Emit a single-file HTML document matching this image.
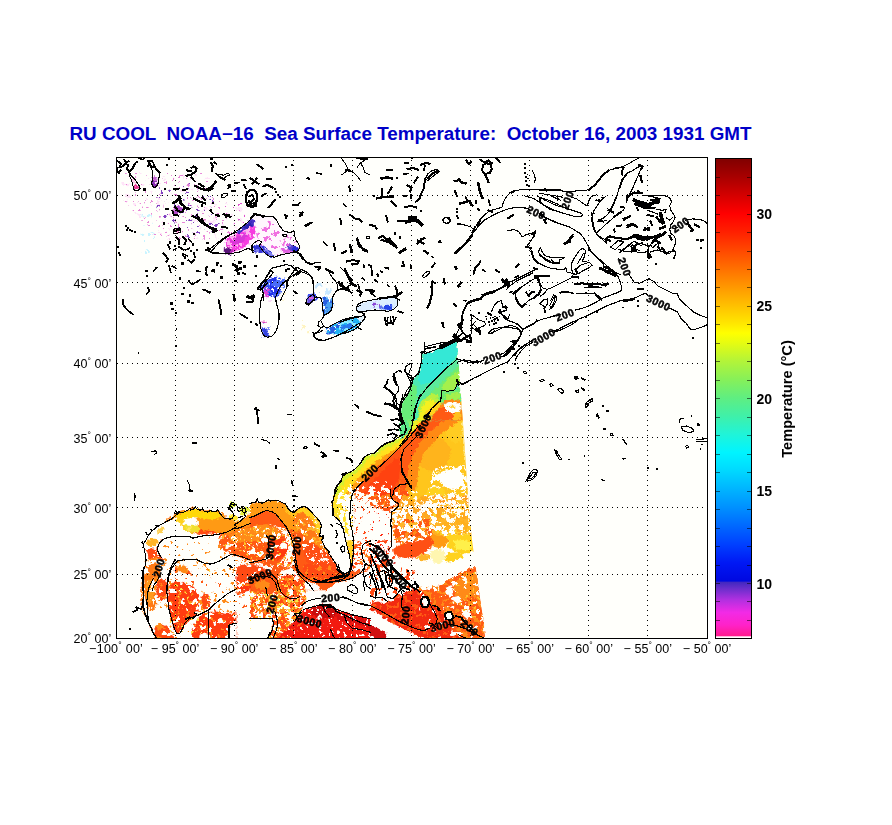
<!DOCTYPE html>
<html lang="en"><head><meta charset="utf-8"><title>RU COOL NOAA-16 Sea Surface Temperature</title>
<style>
html,body{margin:0;padding:0;background:#fff}
body{width:892px;height:825px;overflow:hidden;position:relative;font-family:"Liberation Sans",Arial,Helvetica,sans-serif}
svg{position:absolute;left:0;top:0;display:block}
.ttl{font:bold 17.6px "Liberation Sans",Arial,sans-serif;fill:#0000c8}
.ax{font:12.5px "Liberation Sans",Arial,sans-serif;fill:#000}
.dg{font-size:8.5px}
.cb{font:bold 14px "Liberation Sans",Arial,sans-serif;fill:#000}
.cl{font:bold 14.5px "Liberation Sans",Arial,sans-serif;fill:#000}
.ct{font:bold 10.5px "Liberation Sans",Arial,sans-serif;fill:#000;letter-spacing:.5px;stroke:#000;stroke-width:.5px}
.grid line{stroke:#000;stroke-width:1;stroke-dasharray:1 4;shape-rendering:crispEdges}
.coast rect{shape-rendering:crispEdges}
.coast polyline,.coast polygon{fill:none;stroke:#000;stroke-width:1.1;stroke-linejoin:round;stroke-linecap:square;shape-rendering:crispEdges}
</style></head><body>
<svg width="892" height="825" viewBox="0 0 892 825">
<defs>
<linearGradient id="cbg" x1="0" y1="1" x2="0" y2="0">
<stop offset="0.0000" stop-color="#ff1a8c"/><stop offset="0.0231" stop-color="#ff22c8"/><stop offset="0.0500" stop-color="#f22ae6"/><stop offset="0.0769" stop-color="#b030e0"/><stop offset="0.1000" stop-color="#6a2ecc"/><stop offset="0.1135" stop-color="#4028c0"/><stop offset="0.1154" stop-color="#0008e0"/><stop offset="0.1538" stop-color="#0018f4"/><stop offset="0.1923" stop-color="#0040ff"/><stop offset="0.2308" stop-color="#0068ff"/><stop offset="0.2692" stop-color="#0090ff"/><stop offset="0.3077" stop-color="#00b4ff"/><stop offset="0.3462" stop-color="#00d8ff"/><stop offset="0.3846" stop-color="#00f4ff"/><stop offset="0.4231" stop-color="#20f4d8"/><stop offset="0.4615" stop-color="#40f0a8"/><stop offset="0.5000" stop-color="#60ee80"/><stop offset="0.5385" stop-color="#88f058"/><stop offset="0.5769" stop-color="#b4f438"/><stop offset="0.6154" stop-color="#e8fc10"/><stop offset="0.6346" stop-color="#ffff00"/><stop offset="0.6538" stop-color="#ffe800"/><stop offset="0.6923" stop-color="#ffc000"/><stop offset="0.7308" stop-color="#ff9800"/><stop offset="0.7692" stop-color="#ff7000"/><stop offset="0.8077" stop-color="#ff4800"/><stop offset="0.8462" stop-color="#ff2000"/><stop offset="0.8846" stop-color="#ff0000"/><stop offset="0.9231" stop-color="#d40000"/><stop offset="0.9615" stop-color="#a80000"/><stop offset="1.0000" stop-color="#800000"/></linearGradient>
<filter id="c10a" filterUnits="userSpaceOnUse" x="110" y="150" width="600" height="495" color-interpolation-filters="sRGB"><feTurbulence type="fractalNoise" baseFrequency="0.16" numOctaves="4" seed="5" result="t"/><feColorMatrix in="t" type="matrix" values="0 0 0 0 0 0 0 0 0 0 0 0 0 0 0 26 0 0 0 -16.64" result="a"/><feTurbulence type="fractalNoise" baseFrequency="0.35" numOctaves="2" seed="11" result="u"/><feDisplacementMap in="SourceGraphic" in2="u" scale="5" xChannelSelector="R" yChannelSelector="G" result="g"/><feComposite in="g" in2="a" operator="in"/></filter>
<filter id="c10b" filterUnits="userSpaceOnUse" x="110" y="150" width="600" height="495" color-interpolation-filters="sRGB"><feTurbulence type="fractalNoise" baseFrequency="0.22" numOctaves="4" seed="23" result="t"/><feColorMatrix in="t" type="matrix" values="0 0 0 0 0 0 0 0 0 0 0 0 0 0 0 0 26 0 0 -16.64" result="a"/><feTurbulence type="fractalNoise" baseFrequency="0.35" numOctaves="2" seed="11" result="u"/><feDisplacementMap in="SourceGraphic" in2="u" scale="5" xChannelSelector="R" yChannelSelector="G" result="g"/><feComposite in="g" in2="a" operator="in"/></filter>
<filter id="c10c" filterUnits="userSpaceOnUse" x="110" y="150" width="600" height="495" color-interpolation-filters="sRGB"><feTurbulence type="fractalNoise" baseFrequency="0.32" numOctaves="3" seed="41" result="t"/><feColorMatrix in="t" type="matrix" values="0 0 0 0 0 0 0 0 0 0 0 0 0 0 0 0 0 26 0 -16.64" result="a"/><feComposite in="SourceGraphic" in2="a" operator="in"/></filter>
<filter id="c20a" filterUnits="userSpaceOnUse" x="110" y="150" width="600" height="495" color-interpolation-filters="sRGB"><feTurbulence type="fractalNoise" baseFrequency="0.16" numOctaves="4" seed="5" result="t"/><feColorMatrix in="t" type="matrix" values="0 0 0 0 0 0 0 0 0 0 0 0 0 0 0 26 0 0 0 -15.21" result="a"/><feTurbulence type="fractalNoise" baseFrequency="0.35" numOctaves="2" seed="11" result="u"/><feDisplacementMap in="SourceGraphic" in2="u" scale="5" xChannelSelector="R" yChannelSelector="G" result="g"/><feComposite in="g" in2="a" operator="in"/></filter>
<filter id="c20b" filterUnits="userSpaceOnUse" x="110" y="150" width="600" height="495" color-interpolation-filters="sRGB"><feTurbulence type="fractalNoise" baseFrequency="0.22" numOctaves="4" seed="23" result="t"/><feColorMatrix in="t" type="matrix" values="0 0 0 0 0 0 0 0 0 0 0 0 0 0 0 0 26 0 0 -15.21" result="a"/><feTurbulence type="fractalNoise" baseFrequency="0.35" numOctaves="2" seed="11" result="u"/><feDisplacementMap in="SourceGraphic" in2="u" scale="5" xChannelSelector="R" yChannelSelector="G" result="g"/><feComposite in="g" in2="a" operator="in"/></filter>
<filter id="c20c" filterUnits="userSpaceOnUse" x="110" y="150" width="600" height="495" color-interpolation-filters="sRGB"><feTurbulence type="fractalNoise" baseFrequency="0.32" numOctaves="3" seed="41" result="t"/><feColorMatrix in="t" type="matrix" values="0 0 0 0 0 0 0 0 0 0 0 0 0 0 0 0 0 26 0 -15.21" result="a"/><feComposite in="SourceGraphic" in2="a" operator="in"/></filter>
<filter id="c30a" filterUnits="userSpaceOnUse" x="110" y="150" width="600" height="495" color-interpolation-filters="sRGB"><feTurbulence type="fractalNoise" baseFrequency="0.16" numOctaves="4" seed="5" result="t"/><feColorMatrix in="t" type="matrix" values="0 0 0 0 0 0 0 0 0 0 0 0 0 0 0 26 0 0 0 -14.17" result="a"/><feTurbulence type="fractalNoise" baseFrequency="0.35" numOctaves="2" seed="11" result="u"/><feDisplacementMap in="SourceGraphic" in2="u" scale="5" xChannelSelector="R" yChannelSelector="G" result="g"/><feComposite in="g" in2="a" operator="in"/></filter>
<filter id="c30b" filterUnits="userSpaceOnUse" x="110" y="150" width="600" height="495" color-interpolation-filters="sRGB"><feTurbulence type="fractalNoise" baseFrequency="0.22" numOctaves="4" seed="23" result="t"/><feColorMatrix in="t" type="matrix" values="0 0 0 0 0 0 0 0 0 0 0 0 0 0 0 0 26 0 0 -14.17" result="a"/><feTurbulence type="fractalNoise" baseFrequency="0.35" numOctaves="2" seed="11" result="u"/><feDisplacementMap in="SourceGraphic" in2="u" scale="5" xChannelSelector="R" yChannelSelector="G" result="g"/><feComposite in="g" in2="a" operator="in"/></filter>
<filter id="c45a" filterUnits="userSpaceOnUse" x="110" y="150" width="600" height="495" color-interpolation-filters="sRGB"><feTurbulence type="fractalNoise" baseFrequency="0.16" numOctaves="4" seed="5" result="t"/><feColorMatrix in="t" type="matrix" values="0 0 0 0 0 0 0 0 0 0 0 0 0 0 0 26 0 0 0 -12.87" result="a"/><feTurbulence type="fractalNoise" baseFrequency="0.35" numOctaves="2" seed="11" result="u"/><feDisplacementMap in="SourceGraphic" in2="u" scale="5" xChannelSelector="R" yChannelSelector="G" result="g"/><feComposite in="g" in2="a" operator="in"/></filter>
<filter id="c45b" filterUnits="userSpaceOnUse" x="110" y="150" width="600" height="495" color-interpolation-filters="sRGB"><feTurbulence type="fractalNoise" baseFrequency="0.22" numOctaves="4" seed="23" result="t"/><feColorMatrix in="t" type="matrix" values="0 0 0 0 0 0 0 0 0 0 0 0 0 0 0 0 26 0 0 -12.87" result="a"/><feTurbulence type="fractalNoise" baseFrequency="0.35" numOctaves="2" seed="11" result="u"/><feDisplacementMap in="SourceGraphic" in2="u" scale="5" xChannelSelector="R" yChannelSelector="G" result="g"/><feComposite in="g" in2="a" operator="in"/></filter>
<filter id="c5a" filterUnits="userSpaceOnUse" x="110" y="150" width="600" height="495" color-interpolation-filters="sRGB"><feTurbulence type="fractalNoise" baseFrequency="0.16" numOctaves="4" seed="5" result="t"/><feColorMatrix in="t" type="matrix" values="0 0 0 0 0 0 0 0 0 0 0 0 0 0 0 26 0 0 0 -17.94" result="a"/><feTurbulence type="fractalNoise" baseFrequency="0.35" numOctaves="2" seed="11" result="u"/><feDisplacementMap in="SourceGraphic" in2="u" scale="5" xChannelSelector="R" yChannelSelector="G" result="g"/><feComposite in="g" in2="a" operator="in"/></filter>
<filter id="c5b" filterUnits="userSpaceOnUse" x="110" y="150" width="600" height="495" color-interpolation-filters="sRGB"><feTurbulence type="fractalNoise" baseFrequency="0.22" numOctaves="4" seed="23" result="t"/><feColorMatrix in="t" type="matrix" values="0 0 0 0 0 0 0 0 0 0 0 0 0 0 0 0 26 0 0 -17.94" result="a"/><feTurbulence type="fractalNoise" baseFrequency="0.35" numOctaves="2" seed="11" result="u"/><feDisplacementMap in="SourceGraphic" in2="u" scale="5" xChannelSelector="R" yChannelSelector="G" result="g"/><feComposite in="g" in2="a" operator="in"/></filter>
<filter id="c5c" filterUnits="userSpaceOnUse" x="110" y="150" width="600" height="495" color-interpolation-filters="sRGB"><feTurbulence type="fractalNoise" baseFrequency="0.32" numOctaves="3" seed="41" result="t"/><feColorMatrix in="t" type="matrix" values="0 0 0 0 0 0 0 0 0 0 0 0 0 0 0 0 0 26 0 -17.94" result="a"/><feComposite in="SourceGraphic" in2="a" operator="in"/></filter>
<filter id="c60a" filterUnits="userSpaceOnUse" x="110" y="150" width="600" height="495" color-interpolation-filters="sRGB"><feTurbulence type="fractalNoise" baseFrequency="0.16" numOctaves="4" seed="5" result="t"/><feColorMatrix in="t" type="matrix" values="0 0 0 0 0 0 0 0 0 0 0 0 0 0 0 26 0 0 0 -11.7" result="a"/><feTurbulence type="fractalNoise" baseFrequency="0.35" numOctaves="2" seed="11" result="u"/><feDisplacementMap in="SourceGraphic" in2="u" scale="5" xChannelSelector="R" yChannelSelector="G" result="g"/><feComposite in="g" in2="a" operator="in"/></filter>
<filter id="rag" filterUnits="userSpaceOnUse" x="110" y="150" width="600" height="495" color-interpolation-filters="sRGB"><feTurbulence type="fractalNoise" baseFrequency="0.35" numOctaves="2" seed="11" result="t"/><feDisplacementMap in="SourceGraphic" in2="t" scale="5" xChannelSelector="R" yChannelSelector="G"/></filter>
<clipPath id="pc"><rect x="117" y="158" width="590" height="480"/></clipPath>
<clipPath id="sw"><polygon points="117,158 444,158 457.3,341 460.6,390 463.8,435 466.2,470 468.8,507 472,540 476,570 481,605 486.6,638 117,638"/></clipPath>
</defs>
<text class="ttl" x="69.5" y="139.6" textLength="682" lengthAdjust="spacingAndGlyphs" xml:space="preserve">RU COOL  NOAA−16  Sea Surface Temperature:  October 16, 2003 1931 GMT</text>
<rect x="116" y="157" width="592" height="482" fill="#fffffb"/>
<g clip-path="url(#sw)">
<g filter="url(#rag)">
<polygon fill="#ff4a14" points="157.4,640.3 154.3,631.2 148.3,621.2 144.2,613.1 141.8,605.0 141.2,596.9 141.8,586.9 142.2,578.8 144.2,570.7 147.3,564.7 148.3,556.6 146.3,550.5 144.2,545.5 146.3,539.4 149.3,535.4 153.3,531.4 157.4,527.3 161.4,524.3 166.4,520.3 171.5,517.2 175.5,514.2 179.0,511.0 183.6,510.2 188.6,509.4 193.7,507.8 196.7,509.4 202.8,510.4 208.8,510.6 214.9,512.2 220.9,511.0 223.9,515.2 227.4,518.2 232.0,519.5 237.1,521.9 242.1,519.9 247.2,515.8 251.6,512.6 257.2,509.6 261.3,506.1 266.3,503.7 272.4,502.5 278.4,502.1 284.5,503.7 290.5,506.5 296.6,509.2 296.6,640.3"/>
<polygon fill="#ff9c14" points="146.3,545.5 149.3,535.6 153.3,531.6 157.4,527.5 161.4,524.5 166.4,520.5 171.5,517.4 175.5,514.4 179.0,511.2 183.6,510.4 188.6,509.6 193.7,508.0 196.7,509.6 202.8,510.6 208.8,510.8 214.9,512.4 220.9,511.2 223.9,515.4 227.4,518.5 232.0,519.7 237.1,522.1 242.1,520.1 247.2,516.0 251.6,512.8 257.2,509.8 261.3,506.3 266.3,503.9 272.4,502.7 278.4,502.3 284.5,503.9 290.5,506.7 296.6,509.4 296.6,530.4 289.5,528.3 284.5,522.3 278.4,516.2 271.4,513.8 265.3,515.8 257.2,519.9 249.2,523.9 241.1,527.9 235.0,530.4 229.0,532.8 222.9,533.8 216.9,530.8 210.8,528.7 202.8,529.7 196.7,531.0 190.7,532.8 184.6,530.8 178.6,528.7 174.5,525.9 170.5,528.7 166.4,533.6 162.4,537.8 158.8,541.5 155.3,544.5 151.3,546.5"/>
<polygon fill="#ffd21e" points="176.5,515.8 182.6,512.6 189.6,511.8 194.7,513.8 192.7,518.2 186.6,520.3 182.6,524.3 186.6,528.3 181.6,529.3 177.5,526.3 175.5,520.3"/>
<polygon fill="#ffc81e" points="182.6,520.3 192.7,520.3 196.7,524.3 193.7,529.3 186.6,530.4 182.6,527.3"/>
<polygon fill="#ffb414" points="200.7,513.8 210.8,513.8 218.9,515.8 222.9,520.3 216.9,522.3 208.8,520.3 202.8,518.2"/>
<polygon fill="#d8f028" points="230.0,502.5 234.0,501.7 236.1,504.5 234.0,507.4 230.6,506.9 229.0,504.5"/>
<polygon fill="#e6f03c" points="239.1,508.6 245.1,506.5 249.2,509.2 247.2,513.8 242.1,515.8 239.1,512.6"/>
<polygon fill="#ffe628" points="229.0,514.2 237.1,515.8 238.1,520.3 233.0,520.3 229.0,518.2"/>
<polygon fill="#ff8414" points="144.2,570.7 147.3,564.7 150.3,558.6 156.4,556.6 161.4,559.6 164.4,564.7 162.4,570.7 158.4,578.8 153.3,584.8 150.3,594.9 149.3,605.0 151.3,615.1 156.4,626.2 159.4,640.3 157.4,640.3 154.3,631.2 148.3,621.2 144.2,613.1 141.8,605.0 141.2,596.9 141.8,586.9 142.2,578.8"/>
<polygon fill="#ff9a1e" points="143.2,578.8 146.3,574.7 151.3,576.8 150.3,584.8 148.3,594.9 148.3,605.0 151.3,613.1 148.3,614.1 144.2,607.0 142.6,596.9 142.6,586.9"/>
<polygon fill="#ff8a18" points="229.0,532.8 241.1,527.9 257.2,519.9 265.3,515.8 271.4,513.8 278.4,516.2 284.5,522.3 289.5,528.3 296.6,530.4 296.6,542.5 289.5,540.4 281.5,535.4 275.4,533.4 269.3,536.4 265.3,533.4 257.2,533.4 249.2,537.4 241.1,538.4 233.0,540.4 225.0,542.5 217.9,541.5 220.9,535.4"/>
<polygon fill="#ff6a14" points="217.9,541.5 229.0,540.4 241.1,539.4 253.2,540.4 261.3,542.5 265.3,550.5 261.3,556.6 255.2,559.6 245.1,557.6 237.1,554.6 231.0,553.6 225.0,550.5 220.9,545.5"/>
<polygon fill="#fffffb" points="159.4,542.9 166.4,537.6 176.5,535.6 185.6,534.8 192.7,536.8 200.7,534.8 210.8,533.4 219.9,532.8 217.9,540.4 220.9,545.5 226.0,550.5 232.0,554.2 239.1,555.6 247.2,558.6 255.2,560.6 257.2,563.6 249.2,567.7 242.1,570.7 237.1,576.8 232.0,581.8 227.0,586.9 222.9,593.9 219.9,600.0 215.9,605.0 210.8,603.0 205.8,594.9 200.7,588.9 195.7,584.8 189.6,578.8 184.6,571.7 181.6,565.7 176.5,562.6 172.5,568.7 168.9,565.1 164.8,559.6 160.4,554.6 157.8,548.5"/>
<polygon fill="#ff8a18" points="172.9,550.5 175.7,549.5 176.5,556.6 174.9,561.6 172.5,558.6"/>
<polygon fill="#ff9a1e" points="221.9,560.6 228.0,559.6 230.0,563.6 226.0,566.3 221.9,564.7"/>
<polygon fill="#ff8414" points="181.0,561.6 185.6,561.0 186.6,565.1 182.6,566.3"/>
<polygon fill="#ff6a14" points="164.4,547.5 168.9,546.5 170.1,550.5 166.4,552.1"/>
<polygon fill="#ff5a14" points="204.8,569.7 210.8,566.7 216.9,569.7 214.9,574.7 208.8,576.8 204.8,573.7"/>
<polygon fill="#fffffb" points="183.6,517.2 189.6,515.8 195.7,517.2 198.3,522.3 196.7,527.3 191.1,525.9 186.6,528.3 183.6,524.3"/>
<polygon fill="#fffffb" points="153.3,584.8 159.4,578.8 165.4,576.8 168.9,581.8 168.1,590.9 170.1,600.0 172.5,611.1 174.1,621.2 173.5,629.2 168.9,623.2 164.4,619.1 160.8,611.1 157.4,608.0 153.3,611.1 150.7,603.0 150.7,592.9"/>
<polygon fill="#fffffb" points="202.8,590.9 207.8,591.9 210.8,599.0 212.9,607.0 209.2,609.0 205.8,603.0 202.8,596.9"/>
<polygon fill="#fffffb" points="182.6,609.0 186.6,607.0 189.6,611.1 187.6,616.1 183.6,615.1"/>
<polygon fill="#fffffb" points="216.9,611.1 225.0,608.0 233.0,609.0 239.1,611.1 237.1,616.1 229.0,617.1 220.9,617.1"/>
<polygon fill="#fffffb" points="192.7,619.1 198.7,616.1 204.8,619.1 205.8,627.2 200.7,631.2 195.7,629.2 192.7,624.2"/>
<polygon fill="#fffffb" points="162.8,631.2 168.9,629.2 173.5,632.3 174.5,640.3 164.4,640.3"/>
<polygon fill="#fffffb" points="210.8,629.2 220.9,625.2 229.0,629.2 228.0,640.3 210.8,640.3"/>
<polygon fill="#fffffb" points="239.1,594.9 247.2,590.9 255.2,591.9 257.2,599.0 251.2,603.0 243.1,602.0"/>
<polygon fill="#fffffb" points="257.2,603.0 265.3,601.0 269.3,607.0 267.3,615.1 260.3,614.1 257.2,609.0"/>
<polygon fill="#fffffb" points="235.0,619.1 245.1,616.1 255.2,617.5 257.2,621.2 247.2,622.2 237.1,624.2"/>
<polygon fill="#fffffb" points="237.1,533.4 245.1,531.4 251.2,534.4 249.2,539.4 242.1,540.4 237.1,538.4"/>
<polygon fill="#fffffb" points="253.2,541.5 261.3,540.4 266.3,545.5 264.3,551.5 257.2,552.6 253.2,548.5"/>
<polygon fill="#fffffb" points="245.1,546.5 251.2,545.5 253.2,550.5 249.2,554.6 245.1,551.5"/>
<polygon fill="#fffffb" points="273.4,536.4 281.5,538.4 287.5,543.5 285.5,548.5 277.4,547.5 273.4,542.5"/>
<polygon fill="#fffffb" points="281.5,550.5 287.5,552.6 291.5,559.6 287.5,564.7 282.5,560.6"/>
<polygon fill="#fffffb" points="271.4,558.6 277.4,560.6 280.4,567.7 275.4,570.7 271.0,565.7"/>
<polygon fill="#fffffb" points="285.5,569.7 293.6,567.7 296.6,570.7 296.6,578.8 289.5,576.8"/>
<polygon fill="#ff3410" points="174.5,594.9 184.6,590.9 194.7,592.9 198.7,603.0 196.7,615.1 188.6,623.2 180.6,627.2 175.5,619.1 172.5,607.0"/>
<polygon fill="#ff3410" points="237.1,576.8 247.2,572.7 257.2,574.7 261.3,582.8 255.2,588.9 245.1,586.9 239.1,583.8"/>
<polygon fill="#ff2e10" points="206.8,619.1 220.9,617.1 233.0,619.1 237.1,629.2 229.0,635.3 216.9,633.3 208.8,629.2"/>
<polygon fill="#ff3c10" points="277.4,526.3 287.5,529.3 296.6,533.4 296.6,550.5 289.5,548.5 283.5,540.4 278.4,533.4"/>
<polygon fill="#ffd028" points="275.4,584.8 280.4,583.8 282.5,588.9 278.4,590.9 275.4,588.9"/>
<polygon fill="#c8f050" points="273.4,594.9 276.4,593.9 277.4,597.9 274.4,599.0"/>
<polygon fill="#ffc828" points="255.2,603.0 258.3,602.0 259.7,607.0 256.8,609.0"/>
<polygon fill="#fffffb" points="228.6,640.3 229.4,629.2 232.0,624.2 239.1,622.2 249.2,620.8 259.3,619.1 267.3,619.1 271.8,621.6 273.8,631.2 270.4,640.3"/>
<polygon fill="#fffffb" points="143.5,543.8 145.9,540.0 148.6,535.1 152.2,530.8 156.6,527.3 160.9,524.6 166.1,521.8 171.4,519.1 175.5,516.9 177.1,521.2 180.9,523.9 183.5,529.3 189.2,532.8 197.3,533.6 202.6,534.4 197.3,536.4 189.2,536.5 177.1,536.5 169.7,537.1 165.2,538.4 162.3,540.0 159.3,543.1 157.7,547.2 155.6,549.2 151.5,547.9 147.5,549.2 144.8,549.2"/>
<polygon fill="#ffb428" points="147.2,540.0 151.5,538.4 156.9,539.1 157.6,543.1 154.9,546.5 150.2,546.5 146.8,544.5"/>
<polygon fill="#ffcf50" points="156.9,530.4 162.3,527.0 165.0,529.0 160.9,532.4 157.6,533.7"/>
<polygon fill="#ffd808" points="177.4,514.2 182.5,512.9 187.6,510.9 194.6,509.1 200.0,510.4 205.3,512.5 210.7,511.8 217.4,511.8 221.5,515.8 217.4,518.9 210.7,519.3 202.6,518.3 194.6,516.9 187.9,517.6 182.5,518.9 178.4,518.3"/>
<polygon fill="#f0e030" points="183.1,525.2 187.9,524.3 193.2,526.1 197.9,525.2 200.0,529.0 197.3,532.4 190.5,532.8 185.2,531.0"/>
<polygon fill="#ffe860" points="186.5,527.7 190.5,527.0 191.9,530.4 187.9,531.0"/>
<polygon fill="#ff9a14" points="200.0,518.9 210.7,519.6 217.4,519.3 222.8,517.2 228.2,518.5 232.2,518.5 234.3,528.3 230.2,530.4 224.2,533.1 216.1,532.0 208.0,530.6 203.3,530.4 200.0,526.3"/>
<polygon fill="#fffffb" points="184.5,518.9 189.2,518.0 193.2,519.9 194.3,523.6 191.2,526.1 186.5,525.2 184.5,522.3"/>
<polygon fill="#fffffb" points="224.2,536.4 232.2,534.4 237.6,535.1 244.4,534.4 250.0,535.7 250.0,553.2 244.4,554.6 237.6,553.9 232.2,553.2 226.9,554.6 224.2,549.2 222.8,543.8"/>
<polygon fill="#ff7a18" points="237.6,537.1 241.7,536.4 244.4,539.1 241.7,541.8 238.3,540.5"/>
<polygon fill="#ff9020" points="245.7,546.5 249.1,545.8 249.7,549.2 246.4,549.9"/>
<polygon fill="#ff6a14" points="218.8,538.4 224.2,537.1 226.9,541.1 224.2,545.2 220.1,543.8"/>
<polygon fill="#ff3410" points="236.3,570.7 241.7,568.7 247.0,569.4 250.0,570.7 250.0,590.2 233.6,590.2 232.2,582.8 233.6,576.1"/>
<polygon fill="#fffffb" points="174.4,568.0 179.8,566.0 183.8,569.4 182.5,574.8 177.1,576.1 173.7,572.7"/>
<polygon fill="#fffffb" points="186.5,570.7 193.2,569.4 197.3,573.4 194.6,578.8 189.2,579.5 185.8,575.4"/>
<polygon fill="#fffffb" points="200.0,565.3 208.0,564.7 216.1,566.7 224.2,569.4 229.6,573.4 226.9,578.8 218.8,577.4 210.7,576.1 204.0,573.4 200.0,569.4"/>
<polygon fill="#fffffb" points="210.7,581.5 218.8,580.1 226.9,582.8 229.6,590.2 210.7,590.2"/>
<polygon fill="#ffd040" points="178.4,577.4 181.1,576.1 183.1,578.8 181.1,581.5 178.4,580.1"/>
<polygon fill="#d8f060" points="181.8,568.7 183.8,568.0 185.2,570.7 183.1,572.1"/>
<polygon fill="#ff8a18" points="183.1,570.7 189.2,569.4 190.5,573.4 186.5,576.1 183.1,574.8"/>
<polygon fill="#ff8a18" points="165.7,547.9 169.0,547.2 170.4,550.5 168.3,554.3 166.1,551.9"/>
<polygon fill="#ff9a1e" points="173.1,550.5 176.4,550.3 177.1,555.9 175.1,560.0 173.1,557.3"/>
<polygon fill="#ff8a18" points="182.2,562.0 185.8,561.3 186.5,564.7 183.5,565.3"/>
<polygon fill="#ff9a1e" points="224.2,560.0 228.2,559.3 229.3,562.6 226.2,564.3 224.2,562.6"/>
<polygon fill="#ff5a14" points="295.7,489.3 370.4,489.3 370.4,590.2 295.7,590.2"/>
<polygon fill="#ff5a14" points="250.0,502.1 296.4,502.1 296.4,590.2 250.0,590.2"/>
<polygon fill="#ff9a14" points="250.0,503.2 258.3,502.4 266.1,501.6 274.2,500.8 282.3,502.9 286.3,505.6 290.4,511.0 295.1,511.5 300.5,507.2 303.8,506.7 310.5,511.0 317.3,518.3 321.3,525.2 320.2,535.1 323.3,543.8 320.0,546.5 314.6,543.8 309.2,538.4 303.8,534.4 298.4,531.7 293.1,530.4 288.3,529.0 285.2,526.1 281.2,521.2 275.8,513.9 271.5,511.5 266.1,510.4 260.8,512.9 255.4,515.6 250.0,517.6"/>
<polygon fill="#ffd21e" points="295.1,511.5 300.5,507.2 303.8,506.7 310.5,511.0 317.3,518.3 321.3,525.2 320.2,535.1 317.3,534.4 315.7,527.7 312.6,521.6 307.9,516.2 303.8,512.9 299.8,512.2 297.1,514.2"/>
<polygon fill="#ffc01e" points="285.2,503.5 288.3,508.8 292.8,512.3 295.1,511.5 297.1,514.2 294.4,516.9 290.4,516.2 287.0,512.9 284.3,508.2"/>
<polygon fill="#ff7a18" points="294.4,516.9 299.8,512.2 303.8,513.1 307.9,516.5 312.6,521.9 315.7,527.9 317.3,534.7 315.9,541.1 311.9,543.8 307.9,541.1 303.8,535.7 298.4,532.0 294.4,527.7 293.1,522.3"/>
<polygon fill="#ff4e14" points="303.8,546.5 309.2,543.8 314.6,545.2 320.0,547.9 325.3,550.5 330.7,557.3 336.1,564.7 338.8,570.7 336.1,574.8 330.7,576.1 325.3,576.1 320.0,573.4 314.6,570.7 309.2,565.3 305.2,557.3 303.5,551.9"/>
<polygon fill="#ff8a18" points="317.3,534.7 320.2,535.5 323.3,543.8 326.7,549.2 330.7,556.6 325.3,550.8 320.0,548.1 316.6,543.8"/>
<polygon fill="#fffffb" points="252.7,528.3 260.8,526.3 268.8,525.2 276.9,526.3 285.0,529.0 290.4,533.1 292.4,541.1 293.7,550.5 295.1,560.0 293.1,565.3 287.7,567.4 280.9,565.3 275.6,562.6 270.2,560.0 263.5,560.0 258.1,561.3 252.7,563.3 250.0,562.6 250.0,530.4"/>
<polygon fill="#ff3410" points="274.2,535.7 280.9,535.1 285.2,538.4 286.3,545.2 283.6,550.5 278.9,553.2 275.6,549.2 274.2,542.5"/>
</g>
<g filter="url(#c30a)">
<polygon fill="#ff4a14" points="252.7,528.3 268.8,525.2 285.0,529.0 292.4,541.1 295.1,560.0 287.7,567.4 270.2,560.0 252.7,563.3 250.0,562.6 250.0,530.4"/>
</g>
<g filter="url(#c20c)">
<polygon fill="#ff8a18" points="252.7,528.3 268.8,525.2 285.0,529.0 292.4,541.1 295.1,560.0 287.7,567.4 270.2,560.0 252.7,563.3 250.0,562.6 250.0,530.4"/>
</g>
<g filter="url(#c10b)">
<polygon fill="#ffd040" points="252.7,528.3 268.8,525.2 285.0,529.0 292.4,541.1 295.1,560.0 287.7,567.4 270.2,560.0 252.7,563.3 250.0,562.6 250.0,530.4"/>
</g>
<g filter="url(#c10a)">
<polygon fill="#fffffb" points="294.4,516.9 317.3,518.3 323.3,543.8 330.7,557.3 338.8,570.7 325.3,576.1 309.2,565.3 303.8,551.9 294.4,530.4"/>
</g>
<g filter="url(#c10c)">
<polygon fill="#fffffb" points="294.4,516.9 317.3,518.3 323.3,543.8 330.7,557.3 338.8,570.7 325.3,576.1 309.2,565.3 303.8,551.9 294.4,530.4"/>
</g>
<g filter="url(#c20b)">
<polygon fill="#ffb428" points="294.4,516.9 317.3,518.3 323.3,543.8 317.3,543.8 303.8,534.4 294.4,527.7"/>
</g>
<g filter="url(#rag)">
<polygon fill="#fffffb" points="280.9,570.7 290.4,568.7 295.7,570.7 297.8,576.1 303.8,579.5 310.5,582.8 317.3,584.2 320.0,590.2 282.3,590.2 278.9,584.2 277.6,577.4"/>
<polygon fill="#ff3c10" points="282.3,576.1 289.0,574.1 293.1,577.4 294.4,584.2 290.4,590.2 283.6,590.2 281.6,584.2"/>
<polygon fill="#ffd040" points="294.4,582.8 297.1,581.5 298.7,584.8 296.4,586.9"/>
<polygon fill="#ff7a18" points="298.4,576.1 303.1,577.4 305.2,582.8 301.8,584.2 299.1,581.5"/>
<polygon fill="#ff8a18" points="250.0,578.8 256.7,576.8 264.8,577.4 271.5,580.4 276.2,585.5 277.6,590.2 250.0,590.2"/>
<polygon fill="#ff4a14" points="254.0,582.8 260.8,581.5 266.1,584.2 267.5,590.2 254.0,590.2"/>
<polygon fill="#fffffb" points="250.0,565.3 258.1,563.7 266.1,565.3 270.2,570.7 266.1,574.8 258.1,576.1 250.0,577.4"/>
<polygon fill="#ff5a14" points="252.7,568.0 258.1,566.7 260.8,570.7 256.7,573.4 252.7,572.1"/>
<polygon fill="#fffffb" points="250.0,484.6 250.0,503.2 254.0,502.8 256.1,501.8 257.4,498.1 258.3,502.1 262.1,503.2 266.1,501.4 268.2,499.7 270.2,501.0 274.2,500.5 278.9,500.8 282.3,502.8 285.2,503.5 286.3,505.5 288.3,508.8 290.4,510.9 292.8,512.2 295.1,511.5 297.1,509.5 300.5,507.2 303.8,506.5 307.2,507.5 310.5,510.9 313.9,514.9 317.3,518.3 320.2,522.3 321.3,525.2 320.6,530.4 319.7,535.1 321.3,536.4 323.3,535.1 323.7,537.8 321.3,539.8 323.3,543.8 325.3,547.9 327.4,549.2 329.4,551.2 328.7,553.9 330.7,555.9 333.4,560.0 336.1,564.0 338.1,569.4 340.1,572.1 344.2,574.5 347.5,572.7 349.6,570.7 350.6,566.0 350.2,560.0 348.9,553.2 347.1,546.5 345.5,539.8 344.2,533.1 342.8,527.7 340.4,522.3 337.4,518.9 334.1,516.2 332.6,510.2 332.3,504.8 333.4,498.1 336.1,491.3 337.7,489.3 337.7,484.6"/>
<polygon fill="#ffe22a" points="337.7,489.3 336.1,491.3 333.4,498.1 332.3,504.8 332.6,510.2 334.1,516.2 337.4,518.9 340.4,522.3 342.8,527.7 344.2,533.1 346.2,534.4 348.2,530.4 349.6,523.6 349.8,516.9 350.2,510.2 350.6,503.5 351.6,496.7 354.3,489.3"/>
<polygon fill="#ffd21e" points="344.2,533.1 345.5,539.8 347.1,546.5 348.9,553.2 350.2,560.0 350.6,566.0 352.2,562.6 353.3,554.6 353.6,546.5 353.3,538.4 352.2,530.4 350.6,525.0 349.6,523.6 348.2,530.4 346.2,534.4"/>
<polygon fill="#ffb01e" points="342.8,500.8 346.9,498.1 349.6,503.5 348.9,511.5 345.5,514.2 342.8,508.8"/>
<polygon fill="#fffffb" points="354.3,489.3 351.6,496.7 350.6,503.5 350.2,510.2 349.8,516.9 350.6,525.0 352.2,530.4 353.3,538.4 353.6,546.5 353.3,554.6 352.2,562.6 350.9,570.7 370.4,570.7 370.4,489.3"/>
</g>
<g filter="url(#c20c)">
<polygon fill="#ff4a14" points="354.3,489.3 351.6,496.7 350.6,503.5 350.2,510.2 349.8,516.9 350.6,525.0 352.2,530.4 353.3,538.4 353.6,546.5 353.3,554.6 352.2,562.6 350.9,570.7 370.4,570.7 370.4,489.3"/>
</g>
<g filter="url(#c10b)">
<polygon fill="#ff8a18" points="354.3,489.3 351.6,496.7 350.6,503.5 350.2,510.2 349.8,516.9 350.6,525.0 352.2,530.4 353.3,538.4 353.6,546.5 353.3,554.6 352.2,562.6 350.9,570.7 370.4,570.7 370.4,489.3"/>
</g>
<g filter="url(#c10a)">
<polygon fill="#ff5a14" points="354.3,489.3 351.6,496.7 350.6,503.5 350.2,510.2 349.8,516.9 350.6,525.0 352.2,530.4 353.3,538.4 353.6,546.5 353.3,554.6 352.2,562.6 350.9,570.7 370.4,570.7 370.4,489.3"/>
</g>
<g filter="url(#rag)">
<polygon fill="#ff5a14" points="354.3,489.3 370.4,489.3 370.4,498.1 364.4,500.1 357.6,499.4 353.6,495.4"/>
</g>
<g filter="url(#c20b)">
<polygon fill="#ff8a18" points="166.4,578.8 257.2,578.8 296.6,570.7 296.6,640.3 157.4,640.3 148.3,621.2 146.3,594.9 152.3,578.8"/>
</g>
<g filter="url(#c10c)">
<polygon fill="#ff2a0c" points="166.4,578.8 257.2,578.8 296.6,570.7 296.6,640.3 157.4,640.3 148.3,621.2 146.3,594.9 152.3,578.8"/>
</g>
<g filter="url(#c5c)">
<polygon fill="#ffe040" points="166.4,578.8 257.2,578.8 296.6,570.7 296.6,640.3 157.4,640.3 148.3,621.2 146.3,594.9 152.3,578.8"/>
</g>
<g filter="url(#c10a)">
<polygon fill="#fffffb" points="159.4,542.9 219.9,532.8 257.2,563.6 296.6,566.7 296.6,640.3 157.4,640.3 144.2,613.1 142.2,578.8 148.3,556.6"/>
</g>
<g filter="url(#c5c)">
<polygon fill="#fffffb" points="159.4,542.9 219.9,532.8 257.2,563.6 296.6,566.7 296.6,640.3 157.4,640.3 144.2,613.1 142.2,578.8 148.3,556.6"/>
</g>
<g filter="url(#c5b)">
<polygon fill="#ff7a18" points="159.4,542.9 219.9,532.8 257.2,563.6 237.1,576.8 219.9,600.0 210.8,603.0 189.6,578.8 176.5,562.6 168.9,565.1"/>
</g>
<g filter="url(#c5c)">
<polygon fill="#ff9a28" points="159.4,542.9 219.9,532.8 257.2,563.6 237.1,576.8 219.9,600.0 210.8,603.0 189.6,578.8 176.5,562.6 168.9,565.1"/>
</g>
<g filter="url(#c10b)">
<polygon fill="#fffffb" points="217.9,533.4 296.6,530.4 296.6,570.7 257.2,563.6 229.0,550.5"/>
</g>
<g filter="url(#c10c)">
<polygon fill="#ffb428" points="217.9,533.4 296.6,530.4 296.6,570.7 257.2,563.6 229.0,550.5"/>
</g>
<g filter="url(#rag)">
<polygon fill="#fffffb" points="164.4,537.8 196.7,535.2 218.2,537.8 229.0,544.6 234.4,555.3 223.6,560.7 207.5,562.1 196.7,558.0 183.3,559.4 172.5,563.4 161.7,558.0 159.0,547.3"/>
<polygon fill="#fffffb" points="177.9,560.7 196.7,559.4 212.9,563.4 229.0,568.8 234.4,582.2 229.0,593.0 212.9,593.0 196.7,587.6 183.3,576.9 176.5,568.8"/>
</g>
<g filter="url(#c5b)">
<polygon fill="#ff8a18" points="164.4,537.8 218.2,537.8 234.4,555.3 234.4,582.2 212.9,593.0 183.3,576.9 161.7,558.0"/>
</g>
<g filter="url(#rag)">
<polygon fill="#ff5a14" points="218.2,542.4 229.0,534.3 242.4,529.0 255.9,524.9 266.7,523.6 277.4,527.6 283.3,534.3 288.2,547.3 282.8,560.7 272.0,566.1 261.3,560.7 250.5,560.7 242.4,558.0 234.4,555.3 223.6,550.5"/>
<polygon fill="#ff8a18" points="229.0,535.2 242.4,529.5 255.9,525.5 266.7,524.1 277.4,528.2 281.5,533.8 269.3,537.8 255.9,540.5 242.4,541.9 231.7,543.2"/>
<polygon fill="#ff3c10" points="266.7,537.8 280.1,536.5 288.2,544.6 285.5,555.3 274.7,560.7 268.0,552.6"/>
</g>
<g filter="url(#c20a)">
<polygon fill="#fffffb" points="218.2,542.4 242.4,529.0 266.7,523.6 283.3,534.3 288.2,547.3 282.8,560.7 261.3,560.7 234.4,555.3"/>
</g>
<g filter="url(#c10c)">
<polygon fill="#ffc228" points="218.2,542.4 242.4,529.0 266.7,523.6 283.3,534.3 288.2,547.3 282.8,560.7 261.3,560.7 234.4,555.3"/>
</g>
<g filter="url(#rag)">
<polygon fill="#ff4a14" points="234.4,568.8 245.1,563.4 261.3,566.1 272.0,574.2 277.4,584.9 272.0,593.0 258.6,590.3 250.5,583.6 239.8,582.2"/>
<polygon fill="#ff8a18" points="250.5,582.2 261.3,579.5 274.7,583.6 280.1,590.3 269.3,594.3 255.9,591.6"/>
</g>
<g filter="url(#c20c)">
<polygon fill="#e8f050" points="261.3,587.6 288.2,584.9 290.9,606.4 266.7,606.4"/>
</g>
<g filter="url(#c10a)">
<polygon fill="#fffffb" points="234.4,563.4 277.4,566.1 290.9,593.0 266.7,606.4 234.4,587.6"/>
</g>
<g filter="url(#rag)">
<polygon fill="#ff4a14" points="146.9,582.2 156.4,574.2 169.8,571.5 183.3,574.2 194.0,582.2 196.7,595.7 191.3,609.1 194.0,622.6 188.6,634.7 175.2,639.3 159.0,639.3 151.0,630.7 145.6,614.5 144.2,598.4"/>
<polygon fill="#ff8414" points="142.9,560.7 151.0,558.0 156.4,566.1 153.7,582.2 146.9,598.4 144.2,614.5 141.6,606.4 142.4,587.6"/>
<polygon fill="#ff7a14" points="148.3,587.6 156.4,582.2 161.7,593.0 159.0,609.1 151.0,619.9 146.1,609.1"/>
</g>
<g filter="url(#c20b)">
<polygon fill="#ff8a18" points="146.9,582.2 194.0,582.2 194.0,622.6 175.2,639.3 151.0,630.7 144.2,598.4"/>
</g>
<g filter="url(#rag)">
<polygon fill="#fffffb" points="156.4,595.7 163.1,593.0 168.5,598.4 167.1,606.4 160.4,609.1 156.4,603.8"/>
<polygon fill="#fffffb" points="173.8,614.5 180.6,611.8 185.9,617.2 183.3,626.6 176.5,628.0 173.0,621.2"/>
</g>
<g filter="url(#c10a)">
<polygon fill="#fffffb" points="142.9,560.7 194.0,582.2 194.0,622.6 175.2,639.3 151.0,630.7 141.6,606.4"/>
</g>
<g filter="url(#c5c)">
<polygon fill="#fffffb" points="142.9,560.7 194.0,582.2 194.0,622.6 175.2,639.3 151.0,630.7 141.6,606.4"/>
</g>
<g filter="url(#rag)">
<polygon fill="#fffffb" points="204.8,595.7 218.2,590.3 234.4,593.0 250.5,598.4 258.6,606.4 255.9,617.2 242.4,622.6 223.6,622.6 210.2,617.2 202.1,606.4"/>
</g>
<g filter="url(#c5b)">
<polygon fill="#ff5a14" points="204.8,595.7 234.4,593.0 258.6,606.4 255.9,617.2 223.6,622.6 202.1,606.4"/>
</g>
<g filter="url(#rag)">
<polygon fill="#ff3c10" points="196.7,620.4 210.2,619.1 223.6,624.5 242.4,624.5 255.9,619.1 266.7,620.4 277.4,625.8 288.2,631.2 290.9,640.1 196.7,640.1"/>
</g>
<g filter="url(#c20b)">
<polygon fill="#ff8a18" points="196.7,620.4 223.6,624.5 255.9,619.1 288.2,631.2 290.9,640.1 196.7,640.1"/>
</g>
<g filter="url(#c10a)">
<polygon fill="#fffffb" points="196.7,620.4 223.6,624.5 255.9,619.1 288.2,631.2 290.9,640.1 196.7,640.1"/>
</g>
<g filter="url(#rag)">
<polygon fill="#fffffb" points="228.5,640.1 229.0,626.6 231.7,621.2 239.8,619.4 250.5,618.6 261.3,617.2 268.0,618.6 270.7,625.3 269.3,640.1"/>
<polygon fill="#fffffb" points="140.2,560.0 236.4,560.0 236.4,640.7 156.4,640.7 150.3,625.9 144.9,613.8 142.9,604.4 143.6,595.0 142.9,586.9 142.2,577.5"/>
<polygon fill="#ff7a14" points="143.6,568.1 151.0,564.0 160.4,562.7 160.4,574.8 156.4,584.2 155.0,595.0 156.4,604.4 155.0,611.1 149.6,611.1 146.3,604.4 144.5,595.0 144.0,586.9 143.2,577.5"/>
<polygon fill="#ff9a1e" points="146.9,580.2 152.3,578.8 155.0,586.9 153.7,597.7 149.6,604.4 146.7,599.0 145.9,589.6"/>
<polygon fill="#ff4a14" points="156.4,580.2 165.8,578.8 167.8,586.9 167.1,597.7 161.7,600.4 156.4,595.0"/>
<polygon fill="#ff3c10" points="169.8,584.2 176.5,581.5 186.0,582.9 194.0,586.9 198.1,595.0 199.4,604.4 196.7,613.8 192.7,619.2 186.0,623.2 181.9,630.0 176.5,633.3 173.2,627.3 170.5,617.9 168.7,608.4 167.8,599.0 168.2,590.9"/>
<polygon fill="#ff4a14" points="175.2,568.1 186.0,566.7 191.3,572.1 188.6,580.2 180.6,581.5 173.9,577.5"/>
<polygon fill="#ff8a18" points="175.2,566.7 183.3,565.4 188.6,569.4 186.0,574.8 179.2,576.1"/>
<polygon fill="#ff3c10" points="199.4,616.5 207.5,612.5 215.6,611.1 223.6,613.8 231.7,613.8 236.4,611.1 236.4,640.7 196.7,640.7 191.3,635.3 194.0,624.6"/>
<polygon fill="#ff4a14" points="202.1,595.0 207.5,593.6 210.2,600.4 208.8,608.4 203.4,609.8 200.8,603.1"/>
<polygon fill="#ff4a14" points="155.0,627.3 161.7,624.6 168.5,627.3 172.5,632.6 175.2,640.7 156.4,640.7 153.7,632.6"/>
<polygon fill="#ff8a18" points="156.4,624.6 160.4,623.2 163.1,627.3 159.1,630.0"/>
</g>
<g filter="url(#c10b)">
<polygon fill="#ff8a18" points="143.6,560.0 236.4,560.0 236.4,640.7 156.4,640.7 142.9,604.4"/>
</g>
<g filter="url(#c5c)">
<polygon fill="#ffe040" points="169.8,568.1 210.2,568.1 210.2,635.3 169.8,635.3"/>
</g>
<g filter="url(#c10a)">
<polygon fill="#fffffb" points="143.6,560.0 236.4,560.0 236.4,640.7 156.4,640.7 142.9,604.4"/>
</g>
<g filter="url(#rag)">
<polygon fill="#fffffb" points="172.5,573.5 179.2,572.1 186.0,573.5 196.7,576.1 210.2,574.8 223.6,577.5 229.0,584.2 226.3,590.9 218.2,593.6 210.2,592.3 203.4,589.6 199.4,593.6 196.7,586.9 191.3,582.9 183.3,581.5 175.2,580.2"/>
<polygon fill="#fffffb" points="151.2,610.5 159.1,608.4 167.8,609.8 169.8,617.9 168.5,623.2 161.7,623.2 155.0,621.9 151.2,616.5"/>
<polygon fill="#fffffb" points="199.4,635.3 204.8,632.6 210.2,635.3 208.8,640.7 199.4,640.7"/>
</g>
<g filter="url(#c5b)">
<polygon fill="#ff5a14" points="172.5,573.5 223.6,577.5 226.3,590.9 203.4,589.6 191.3,582.9 175.2,580.2"/>
</g>
<g filter="url(#rag)">
<polygon fill="#fffffb" points="229.3,624.8 236.4,623.5 236.4,640.7 229.3,640.7"/>
<polygon fill="#fffffb" points="250.0,589.2 303.8,589.2 306.5,600.0 301.1,610.7 294.4,621.5 287.7,628.2 280.9,635.0 276.9,640.3 250.0,640.3"/>
</g>
<g filter="url(#c60a)">
<polygon fill="#ff4a14" points="250.0,578.5 303.8,578.5 306.5,600.0 301.1,610.7 294.4,621.5 287.7,628.2 280.9,635.0 276.9,640.3 250.0,640.3"/>
</g>
<g filter="url(#c30b)">
<polygon fill="#ff8a18" points="250.0,578.5 303.8,578.5 306.5,600.0 301.1,610.7 294.4,621.5 287.7,628.2 280.9,635.0 276.9,640.3 250.0,640.3"/>
</g>
<g filter="url(#c20c)">
<polygon fill="#e8f050" points="262.1,591.9 295.7,590.6 298.4,609.4 283.6,613.4 266.1,610.7"/>
</g>
<g filter="url(#c10c)">
<polygon fill="#ffe040" points="250.0,578.5 303.8,578.5 306.5,600.0 301.1,610.7 276.9,640.3 250.0,640.3"/>
</g>
<g filter="url(#rag)">
<polygon fill="#ff5a14" points="250.0,581.1 258.1,577.1 267.5,577.8 275.6,581.1 278.9,586.5 275.6,591.9 267.5,593.3 258.1,591.9 250.0,590.6"/>
<polygon fill="#ff8a18" points="254.0,582.5 262.1,580.5 268.8,582.5 270.2,587.2 263.5,589.9 255.4,588.5"/>
<polygon fill="#f21a10" points="276.9,640.3 280.9,635.0 287.7,628.2 294.4,621.5 299.8,616.1 301.8,611.4 303.8,609.4 313.2,606.7 322.6,604.3 330.7,604.8 336.1,609.4 344.2,612.1 352.2,614.8 361.7,616.8 370.4,618.8 370.4,640.3"/>
<polygon fill="#c80c0c" points="313.2,607.0 322.6,604.6 330.7,605.1 335.6,609.4 338.8,612.1 336.1,616.1 330.7,618.1 324.0,618.8 317.3,618.1 313.2,614.8 311.2,610.7"/>
<polygon fill="#d81010" points="336.1,616.1 344.2,614.1 352.2,616.1 361.7,618.1 370.4,620.2 370.4,628.2 361.7,625.5 352.2,622.9 344.2,621.5 337.4,620.2"/>
<polygon fill="#fffffb" points="317.0,618.5 318.9,613.4 321.6,618.5"/>
</g>
<g filter="url(#c10c)">
<polygon fill="#fffffb" points="276.9,640.3 294.4,621.5 303.8,609.4 322.6,604.3 336.1,609.4 370.4,618.8 370.4,640.3"/>
</g>
<g filter="url(#c10b)">
<polygon fill="#ff5a14" points="276.9,640.3 294.4,621.5 303.8,609.4 313.2,609.4 310.5,621.5 303.8,629.6 294.4,640.3"/>
</g>
<g filter="url(#rag)">
<polygon fill="#fffffb" points="301.8,605.4 306.5,601.3 313.2,598.6 320.0,596.6 325.3,593.3 330.7,586.5 336.1,582.5 344.2,580.9 352.2,578.5 360.3,573.1 370.4,570.4 370.4,618.1 361.7,616.5 352.2,614.5 344.2,611.8 336.1,609.1 330.7,604.6 322.6,604.0 313.2,606.4 303.8,609.1"/>
<polygon fill="#ff4a14" points="303.8,564.3 336.1,564.3 338.8,570.4 336.1,577.1 330.7,581.1 322.6,582.5 314.6,581.8 307.9,578.5 303.8,573.1"/>
</g>
<g filter="url(#c20b)">
<polygon fill="#ff8a18" points="303.8,564.3 336.1,564.3 338.8,570.4 336.1,577.1 330.7,581.1 322.6,582.5 314.6,581.8 307.9,578.5 303.8,573.1"/>
</g>
<g filter="url(#rag)">
<polygon fill="#fffffb" points="250.0,618.1 258.1,618.8 266.1,618.1 272.2,618.8 273.7,624.2 271.5,632.3 267.8,637.6 266.1,640.3 250.0,640.3"/>
<polygon fill="#fffffb" points="338.8,564.3 339.1,569.0 341.5,572.4 345.5,573.3 349.6,571.7 351.6,567.7 352.0,564.3"/>
<polygon fill="#fffffb" points="370.0,489.3 472.2,489.3 482.3,590.2 370.0,590.2"/>
<polygon fill="#ff5a14" points="370.0,489.3 400.9,489.3 401.6,498.1 398.9,506.1 391.5,508.8 383.5,510.2 375.4,507.5 370.0,506.1"/>
</g>
<g filter="url(#c20b)">
<polygon fill="#ff8a18" points="370.0,489.3 400.9,489.3 401.6,498.1 398.9,506.1 391.5,508.8 383.5,510.2 375.4,507.5 370.0,506.1"/>
</g>
<g filter="url(#c10a)">
<polygon fill="#fffffb" points="370.0,489.3 400.9,489.3 401.6,498.1 398.9,506.1 391.5,508.8 383.5,510.2 375.4,507.5 370.0,506.1"/>
</g>
<g filter="url(#rag)">
<polygon fill="#ffa81e" points="400.9,489.3 430.5,489.3 429.2,495.4 426.5,502.1 421.1,505.5 413.1,506.1 405.0,505.5 398.9,506.1 401.6,498.1"/>
<polygon fill="#ffc21e" points="405.0,489.3 423.8,489.3 422.5,496.7 415.7,500.8 409.0,499.4 405.2,495.4"/>
</g>
<g filter="url(#c60a)">
<polygon fill="#ff9a1e" points="429.2,489.3 470.9,489.3 472.9,506.1 464.2,506.8 456.1,504.8 445.3,506.1 437.3,504.8 427.9,503.5"/>
</g>
<g filter="url(#c30b)">
<polygon fill="#ffc228" points="429.2,489.3 470.9,489.3 472.9,506.1 464.2,506.8 456.1,504.8 445.3,506.1 437.3,504.8 427.9,503.5"/>
</g>
<g filter="url(#c45a)">
<polygon fill="#ff5a14" points="394.2,508.8 431.9,507.5 433.2,534.4 426.5,543.8 410.4,546.5 395.6,546.5 392.9,530.4"/>
</g>
<g filter="url(#c20b)">
<polygon fill="#ff8a18" points="394.2,508.8 431.9,507.5 433.2,534.4 426.5,543.8 410.4,546.5 395.6,546.5 392.9,530.4"/>
</g>
<g filter="url(#c45a)">
<polygon fill="#ffb01e" points="431.9,507.5 473.3,506.8 476.3,535.1 464.2,534.4 450.7,535.7 433.2,535.1"/>
</g>
<g filter="url(#c30b)">
<polygon fill="#ffd228" points="431.9,507.5 473.3,506.8 476.3,535.1 464.2,534.4 450.7,535.7 433.2,535.1"/>
</g>
<g filter="url(#c20a)">
<polygon fill="#ff4a14" points="370.0,506.8 390.2,509.5 391.5,530.4 390.2,546.5 383.5,549.2 370.0,543.8"/>
</g>
<g filter="url(#c10c)">
<polygon fill="#ff2a10" points="370.0,506.8 390.2,509.5 391.5,530.4 390.2,546.5 383.5,549.2 370.0,543.8"/>
</g>
<g filter="url(#rag)">
<polygon fill="#ff5014" points="392.9,549.2 396.9,546.5 405.0,543.8 414.4,541.8 423.8,539.8 429.2,535.7 433.2,534.4 437.3,536.4 434.6,543.8 429.2,549.2 423.8,553.2 415.7,557.3 407.7,558.6 399.6,557.3 394.2,554.6"/>
<polygon fill="#ff9a14" points="429.2,535.7 433.2,534.4 440.0,535.1 446.7,535.7 449.4,541.1 445.3,546.5 438.6,547.9 433.2,546.5 429.9,549.2 434.6,543.8"/>
<polygon fill="#ffd21e" points="445.3,535.7 453.4,534.4 464.2,534.4 473.6,535.1 476.3,543.8 474.9,550.5 469.6,553.2 462.8,553.2 456.1,551.9 450.7,549.2 446.7,546.5 449.4,541.1"/>
<polygon fill="#fff04a" points="453.4,541.1 464.2,539.8 470.9,542.5 472.2,547.9 464.2,550.5 456.1,549.2"/>
<polygon fill="#ffd21e" points="442.6,560.0 448.0,553.2 456.1,552.2 464.2,553.2 462.8,557.3 456.1,560.0 449.4,562.6"/>
<polygon fill="#ffb428" points="416.4,557.3 423.8,553.5 429.2,554.6 429.9,558.6 425.2,560.6 419.8,560.0"/>
<polygon fill="#fff6b0" points="430.5,550.5 440.0,549.2 445.3,553.2 445.3,560.0 440.0,563.3 433.2,562.6 429.9,557.3"/>
<polygon fill="#ff5a14" points="440.0,590.2 442.6,584.2 448.0,580.1 456.1,576.1 464.2,570.7 472.2,567.4 479.2,566.7 482.3,590.2"/>
<polygon fill="#ff8a18" points="462.8,572.1 472.2,568.0 479.2,567.4 480.3,577.4 473.6,581.5 466.9,580.1"/>
</g>
<g filter="url(#c20b)">
<polygon fill="#ff8a18" points="440.0,590.2 442.6,584.2 448.0,580.1 456.1,576.1 464.2,570.7 472.2,567.4 479.2,566.7 482.3,590.2"/>
</g>
<g filter="url(#c10a)">
<polygon fill="#fffffb" points="440.0,590.2 442.6,584.2 448.0,580.1 456.1,576.1 464.2,570.7 472.2,567.4 479.2,566.7 482.3,590.2"/>
</g>
<g filter="url(#c30a)">
<polygon fill="#ff4a14" points="370.0,543.8 390.2,547.9 396.9,560.0 410.4,576.1 421.1,590.2 370.0,590.2"/>
</g>
<g filter="url(#c10c)">
<polygon fill="#c81010" points="370.0,543.8 390.2,547.9 396.9,560.0 410.4,576.1 421.1,590.2 370.0,590.2"/>
</g>
<g filter="url(#rag)">
<polygon fill="#fffffb" points="472.0,489.3 490.4,489.3 490.4,590.2 482.1,590.2"/>
<polygon fill="#ff5a14" points="414.4,588.5 421.1,590.6 429.2,589.2 440.0,585.2 450.7,578.5 461.5,573.1 469.6,569.0 477.6,567.0 485.7,640.3 426.5,640.3 421.1,618.8 415.7,605.4"/>
<polygon fill="#ff8a18" points="456.1,581.1 464.2,577.1 472.2,573.1 477.6,571.7 479.6,591.9 474.9,597.3 466.9,595.9 461.5,600.0 456.1,595.9 453.4,587.9"/>
</g>
<g filter="url(#c30b)">
<polygon fill="#ff8a18" points="414.4,588.5 440.0,585.2 461.5,573.1 477.6,567.0 485.7,640.3 426.5,640.3"/>
</g>
<g filter="url(#c10c)">
<polygon fill="#ffc228" points="450.7,578.5 477.6,567.0 483.0,618.8 464.2,616.1 456.1,598.6"/>
</g>
<g filter="url(#rag)">
<polygon fill="#f22a10" points="370.0,603.3 378.1,601.3 386.1,604.0 396.9,598.6 406.3,591.9 414.4,588.1 421.1,590.6 426.5,597.3 433.2,605.4 440.0,610.7 445.3,618.8 450.7,626.9 456.1,635.0 458.8,640.3 426.5,640.3 417.1,635.9 410.4,632.5 402.3,628.5 392.9,623.8 384.8,618.4 376.7,612.4 370.0,610.3"/>
</g>
<g filter="url(#c20b)">
<polygon fill="#ff5a14" points="370.0,603.3 414.4,588.1 433.2,605.4 450.7,626.9 458.8,640.3 426.5,640.3 392.9,623.8 370.0,610.3"/>
</g>
<g filter="url(#rag)">
<polygon fill="#fffffb" points="445.3,587.9 450.7,585.2 453.4,590.6 450.7,595.9 446.7,594.6"/>
<polygon fill="#fffffb" points="452.1,597.3 458.8,595.9 461.5,601.3 457.4,604.0 452.7,602.0"/>
<polygon fill="#fffffb" points="461.5,609.4 469.6,610.7 472.2,616.1 466.9,618.8 462.2,614.8"/>
</g>
<g filter="url(#c10a)">
<polygon fill="#fffffb" points="414.4,588.5 440.0,585.2 461.5,573.1 477.6,567.0 485.7,640.3 426.5,640.3"/>
</g>
<g filter="url(#rag)">
<polygon fill="#fffffb" points="370.0,610.3 376.7,612.4 384.8,618.4 392.9,623.8 402.3,628.5 410.4,632.5 417.1,635.9 426.5,640.3 370.0,640.3"/>
<polygon fill="#d01010" points="370.0,625.5 375.4,626.9 383.5,630.9 387.5,635.0 384.8,638.3 378.1,637.9 370.0,635.2"/>
<polygon fill="#fffffb" points="370.0,564.3 410.4,564.3 414.4,573.1 416.4,583.8 414.4,588.1 406.3,591.9 396.9,598.6 386.1,604.0 378.1,601.3 370.0,603.3"/>
</g>
<g filter="url(#c20a)">
<polygon fill="#ff4a14" points="370.0,564.3 410.4,564.3 414.4,573.1 416.4,583.8 414.4,588.1 406.3,591.9 396.9,598.6 386.1,604.0 378.1,601.3 370.0,603.3"/>
</g>
<g filter="url(#rag)">
<polygon fill="#fffffb" points="421.8,598.6 426.5,597.3 429.2,601.3 427.2,606.7 422.5,606.0"/>
<polygon fill="#fffffb" points="445.3,613.4 450.7,612.1 453.4,617.5 449.4,620.2 445.3,618.1"/>
<polygon fill="#fffffb" points="477.6,564.3 490.4,564.3 490.4,640.3 485.4,640.3"/>
<polygon fill="#d4f032" points="334.3,495.2 335.2,489.2 337.7,485.1 340.4,481.1 343.1,475.7 346.4,473.7 351.1,471.7 355.2,469.0 357.9,466.3 361.2,462.3 364.6,456.9 368.6,454.2 374.0,453.5 377.4,450.2 380.7,446.8 384.8,444.1 388.8,442.1 392.8,441.4 396.9,438.1 400.9,436.0 404.3,434.0 406.3,430.0 404.9,424.6 402.2,420.6 401.6,415.2 400.2,409.8 398.9,404.4 399.6,399.0 402.2,394.3 420.4,394.3 420.4,495.2"/>
<polygon fill="#ffe21e" points="339.0,495.2 340.4,489.2 343.7,482.4 347.1,478.4 352.5,475.5 357.2,472.4 360.5,469.0 363.9,465.0 367.3,459.6 371.3,457.2 376.0,456.2 380.0,452.9 383.4,449.5 387.4,447.2 392.8,445.9 398.2,442.1 403.6,438.7 407.6,434.0 409.6,429.3 420.4,421.9 420.4,495.2"/>
<polygon fill="#ff9e14" points="345.7,495.2 348.4,489.2 352.5,483.8 356.5,479.8 360.5,475.7 364.6,471.7 368.6,467.6 373.3,462.9 378.7,459.6 383.4,455.8 387.4,454.2 392.8,450.8 398.2,446.8 403.6,442.1 409.0,436.0 414.4,430.2 420.4,423.9 420.4,495.2"/>
<polygon fill="#ff5214" points="353.1,495.2 355.8,489.8 359.9,484.5 364.6,479.1 370.0,473.7 375.3,468.7 380.7,463.9 386.1,458.9 392.8,454.2 399.6,448.1 404.9,442.1 410.3,436.0 415.7,430.2 419.1,426.6 420.4,427.3 420.4,435.4 415.7,439.4 410.3,444.8 405.6,450.2 402.9,455.5 401.6,462.3 401.2,470.3 400.2,478.4 398.9,486.5 396.9,495.2"/>
<polygon fill="#ff4210" points="363.2,495.2 367.3,487.8 372.6,481.1 379.4,474.4 386.1,467.6 392.8,460.9 398.2,456.9 400.2,462.3 399.8,470.3 398.2,478.4 394.2,487.8 391.5,495.2"/>
<polygon fill="#ff9a14" points="397.1,495.2 399.2,486.5 400.5,478.4 401.4,470.3 401.8,462.3 403.2,455.5 405.9,450.2 410.6,444.8 416.0,439.4 420.4,435.6 420.4,495.2"/>
<polygon fill="#ffb41e" points="407.6,495.2 408.3,486.5 409.6,475.7 411.7,465.0 414.4,454.2 417.7,446.1 420.4,442.1 420.4,495.2"/>
<polygon fill="#ffc828" points="415.7,495.2 416.0,482.4 417.0,470.3 419.1,459.6 420.4,455.5 420.4,495.2"/>
<polygon fill="#5ce88a" points="398.9,404.4 399.6,399.0 402.2,394.3 420.4,394.3 420.4,403.1 418.4,411.1 415.7,417.9 413.7,422.6 410.3,427.3 407.6,431.3 406.3,430.0 404.9,424.6 402.2,420.6 401.6,415.2 400.2,409.8"/>
<polygon fill="#8cf060" points="407.6,431.3 410.3,427.3 413.7,422.6 415.7,417.9 418.4,411.1 420.4,403.1 420.4,415.2 418.4,420.6 414.4,426.6 411.0,431.3 408.7,433.7"/>
<polygon fill="#40e8b0" points="402.2,394.3 407.6,394.3 406.3,400.4 403.6,407.1 400.9,409.8 399.8,403.1"/>
</g>
<g filter="url(#c30a)">
<polygon fill="#fffffb" points="344.4,487.8 383.4,487.8 386.1,495.2 343.1,495.2"/>
</g>
<g filter="url(#rag)">
<polygon fill="#fffffb" points="299.3,394.3 402.2,394.3 399.6,399.0 398.9,404.4 400.2,409.8 401.6,415.2 402.2,420.6 404.9,424.6 406.3,430.0 404.3,434.0 400.9,436.0 396.9,438.1 392.8,441.4 388.8,442.1 384.8,444.1 380.7,446.8 377.4,450.2 374.0,453.5 368.6,454.2 364.6,456.9 361.2,462.3 357.9,466.3 355.2,469.0 351.1,471.7 346.4,473.7 343.1,475.7 340.4,481.1 337.7,485.1 335.2,489.2 334.3,495.2 299.3,495.2"/>
<polygon fill="#ffc61c" points="400.0,394.3 463.2,394.3 473.3,495.2 400.0,495.2"/>
<polygon fill="#ffcc22" points="444.4,413.8 461.9,412.5 464.6,439.4 456.5,443.4 448.4,439.4 444.4,428.6"/>
<polygon fill="#ffb41c" points="413.5,439.4 426.9,435.4 444.4,439.4 451.1,451.5 447.1,465.0 437.7,470.3 426.9,470.3 416.1,465.0 412.1,452.9"/>
<polygon fill="#ffa41a" points="426.9,446.1 437.7,444.8 444.4,448.8 445.1,459.6 439.0,465.0 429.6,465.0 425.6,456.9"/>
<polygon fill="#5ce88a" points="400.0,394.3 420.2,394.3 418.2,400.4 415.5,408.5 414.1,416.5 412.8,424.6 409.4,431.3 404.0,436.7 400.0,440.7"/>
<polygon fill="#8cf060" points="408.1,394.3 420.2,394.3 418.2,400.4 415.5,408.5 414.1,416.5 412.8,424.6 410.8,428.6 408.1,421.9 406.7,411.1"/>
<polygon fill="#e8f028" points="420.2,394.3 426.9,394.3 424.2,403.1 421.5,411.1 418.8,419.2 416.1,425.9 412.1,432.7 409.4,431.3 412.8,424.6 414.1,416.5 415.5,408.5 418.2,400.4"/>
<polygon fill="#ffe21e" points="426.9,394.3 441.7,394.3 440.4,400.4 436.3,404.1 430.9,408.2 425.6,414.9 421.5,421.6 417.5,428.4 412.1,435.1 405.4,440.5 400.0,445.9 400.0,441.4 404.0,437.4 412.1,432.7 416.1,425.9 418.8,419.2 421.5,411.1 424.2,403.1"/>
<polygon fill="#ff5214" points="400.0,446.1 405.4,440.7 412.1,435.4 417.5,428.6 421.5,421.9 425.6,415.2 430.9,408.5 437.7,403.7 443.1,403.1 444.4,407.1 440.4,412.5 436.3,419.2 432.3,425.9 428.3,432.7 422.9,438.1 416.1,443.4 410.8,448.8 406.7,455.5 405.4,465.0 406.1,475.7 408.1,486.5 409.4,495.2 400.0,495.2"/>
<polygon fill="#ff8a14" points="444.4,407.1 440.4,412.5 436.3,419.2 432.3,425.9 428.3,432.7 422.9,438.1 416.1,443.4 410.8,448.8 406.7,455.5 405.4,465.0 409.4,459.6 414.8,451.5 421.5,444.8 428.3,439.4 433.6,434.0 437.7,427.3 441.7,420.6 445.7,413.8 447.1,408.5"/>
<polygon fill="#40e8a8" points="441.7,394.3 461.9,394.3 462.2,401.7 453.8,402.4 445.7,401.7 441.0,400.4"/>
<polygon fill="#a0f060" points="441.0,400.4 445.7,401.7 453.8,402.4 459.2,402.0 457.9,404.4 448.4,404.1 443.1,403.1"/>
<polygon fill="#fffffb" points="443.1,405.1 448.4,403.3 456.5,403.3 460.8,405.8 460.5,411.1 455.2,413.8 448.4,413.2 444.4,409.8"/>
<polygon fill="#ffd040" points="448.4,407.1 453.8,406.4 455.2,409.1 451.1,410.5"/>
<polygon fill="#fffffb" points="440.4,473.0 445.7,470.3 453.8,469.7 460.5,471.0 464.3,475.7 463.9,483.8 457.9,487.8 451.1,489.2 444.4,486.5 440.4,481.1"/>
</g>
<g filter="url(#c45a)">
<polygon fill="#fffffb" points="433.6,467.6 464.6,465.0 470.0,495.2 426.9,495.2"/>
</g>
<g filter="url(#rag)">
<polygon fill="#ffd21e" points="426.9,489.2 435.0,487.8 444.4,489.2 445.7,495.2 425.6,495.2"/>
<polygon fill="#ffe680" points="461.2,412.5 464.6,412.5 467.3,462.3 464.3,462.3"/>
<polygon fill="#ff8a14" points="401.4,446.6 412.6,433.1 426.0,419.7 439.5,408.5 453.0,405.1 462.4,406.2 463.0,419.7 450.7,426.4 437.3,437.6 426.0,451.1 419.3,464.5 416.0,490.5 401.4,490.5"/>
<polygon fill="#ff5a14" points="403.6,442.1 414.8,428.7 428.3,415.2 439.5,407.4 450.7,405.1 457.4,408.5 453.0,417.4 441.7,421.9 430.5,430.9 420.4,442.1 412.6,455.6 408.1,469.0 405.9,490.5 401.4,490.5 401.4,451.1"/>
<polygon fill="#ffb41c" points="421.6,455.6 430.5,446.6 441.7,442.1 450.7,446.6 448.5,460.0 439.5,466.8 428.3,466.8"/>
<polygon fill="#fffffb" points="444.0,405.1 450.7,403.5 459.7,404.4 461.5,408.9 457.4,412.5 450.7,413.4 445.1,410.7"/>
<polygon fill="#ffc040" points="449.6,406.7 455.2,406.2 457.0,408.9 453.0,410.3"/>
<polygon fill="#4ce8b4" points="400.4,420.2 400.4,406.1 403.1,400.7 407.1,395.3 409.8,390.0 411.8,384.6 413.1,377.9 416.5,375.2 419.2,371.1 420.5,365.7 421.9,360.4 421.2,353.6 424.6,353.6 432.6,350.9 440.7,347.6 448.8,344.9 454.2,342.2 457.1,340.2 460.9,420.2"/>
<polygon fill="#34e8d6" points="424.6,354.3 432.6,351.6 440.7,348.3 448.8,345.6 456.2,342.2 457.1,353.6 454.2,360.4 447.4,367.1 440.7,373.8 435.3,379.2 430.0,383.2 424.6,384.6 420.5,383.2 417.9,379.2 419.9,371.8 421.2,365.7 422.6,360.4"/>
<polygon fill="#5cea9c" points="457.1,353.6 454.2,360.4 447.4,367.1 440.7,373.8 435.3,379.2 430.0,383.2 424.6,387.3 420.5,392.6 417.9,398.0 420.5,400.7 427.3,395.3 434.0,390.0 440.7,383.2 447.4,376.5 454.2,369.8 458.9,364.4"/>
<polygon fill="#68ec78" points="400.4,420.2 400.4,406.1 403.1,400.7 407.1,395.3 409.8,390.0 411.8,384.6 413.8,383.2 416.5,387.3 417.2,395.3 415.8,403.4 414.5,412.8 413.5,420.2"/>
<polygon fill="#70ec70" points="458.9,364.4 454.2,369.8 447.4,376.5 440.7,383.2 434.0,390.0 427.3,395.3 421.9,400.7 419.2,406.1 417.9,414.2 417.2,420.2 427.3,420.2 430.0,414.2 433.3,408.8 437.4,404.8 441.4,400.7 442.3,392.6 447.4,392.0 454.2,390.6 457.5,385.9 459.8,384.6"/>
<polygon fill="#a4f04c" points="459.8,371.1 454.2,373.8 447.4,379.2 442.7,385.9 442.3,392.6 447.4,392.0 454.2,390.6 457.5,385.9 460.2,384.6"/>
<polygon fill="#b8f040" points="419.2,406.1 421.9,400.7 427.3,396.0 432.6,393.3 437.4,395.3 438.0,400.7 435.3,404.8 431.3,408.8 428.6,414.2 426.6,420.2 417.2,420.2 417.9,414.2"/>
<polygon fill="#f4f020" points="419.9,414.2 421.9,407.4 425.9,402.1 431.3,399.4 435.3,400.7 434.7,404.8 431.3,408.8 428.6,414.2 426.6,420.2 419.2,420.2"/>
<polygon fill="#ffd21e" points="423.2,420.2 424.6,414.2 428.6,408.8 433.3,404.8 438.0,402.1 443.4,400.7 440.7,406.1 435.3,411.5 431.3,416.9 430.0,420.2"/>
<polygon fill="#ff8a14" points="430.0,420.2 431.3,416.9 435.3,411.5 440.7,406.1 444.1,400.7 451.5,399.4 460.2,399.4 460.9,420.2"/>
<polygon fill="#ff5a14" points="431.3,420.2 434.0,414.2 439.4,408.8 446.1,406.1 454.2,407.4 460.2,408.8 460.9,420.2"/>
<polygon fill="#ffc01e" points="454.2,411.5 460.2,410.1 460.9,420.2 452.8,420.2"/>
<polygon fill="#fffffb" points="444.1,404.1 448.8,402.1 456.9,402.3 460.6,404.8 460.2,411.5 454.2,412.8 447.4,411.5 444.1,408.1"/>
<polygon fill="#ffd040" points="448.8,406.1 454.2,405.4 455.5,408.1 451.5,409.5"/>
<polygon fill="#fffffb" points="359.3,319.3 458.2,319.3 457.1,340.2 454.2,342.2 448.8,344.9 440.7,347.6 432.6,350.9 424.6,353.6 421.2,353.6 421.9,360.4 420.5,365.7 419.2,371.1 416.5,375.2 413.1,377.9 411.8,384.6 409.8,390.0 407.1,395.3 403.1,400.7 400.4,406.1 400.4,420.2 359.3,420.2"/>
<polygon fill="#70ec70" points="441.4,393.3 447.4,392.4 454.2,391.0 460.2,387.3 460.9,400.7 451.5,399.6 444.1,401.0 440.7,402.7"/>
<polygon fill="#a4f04c" points="446.1,395.3 454.2,393.3 460.2,392.6 460.6,400.0 452.8,399.4 446.1,400.5"/>
<polygon fill="#fff6fd" points="224.2,239.0 232.3,233.6 240.4,228.3 247.1,222.9 252.5,217.5 255.2,214.1 260.5,214.8 267.3,216.8 273.3,216.8 276.7,220.2 279.4,225.6 283.4,230.9 288.8,232.3 294.2,231.6 294.8,236.3 296.2,240.4 298.9,244.4 299.6,248.4 296.9,251.8 292.8,252.5 286.1,253.8 279.4,255.2 274.7,257.2 270.0,256.5 265.9,253.8 263.2,251.1 259.2,245.7 253.8,244.4 251.8,248.4 248.4,249.1 244.4,250.0 240.4,251.8 233.6,253.5 226.9,253.8 222.9,251.1"/>
</g>
<g filter="url(#c10a)">
<polygon fill="#ffe8fa" points="200.0,202.7 245.7,202.7 245.7,235.0 224.2,240.4 200.0,240.4"/>
</g>
<g filter="url(#c5c)">
<polygon fill="#e050d0" points="200.0,202.7 245.7,202.7 245.7,235.0 224.2,240.4 200.0,240.4"/>
</g>
<g filter="url(#rag)">
<polygon fill="#f63ce0" points="225.6,240.4 230.9,236.3 237.7,232.3 244.4,227.6 251.1,224.2 255.2,225.6 255.8,230.9 253.8,236.3 251.1,240.4 247.1,244.4 241.7,248.4 236.3,251.1 230.9,253.1 226.9,251.1"/>
</g>
<g filter="url(#c45a)">
<polygon fill="#ffb0f0" points="225.6,240.4 251.1,224.2 255.8,230.9 251.1,240.4 241.7,248.4 230.9,253.1"/>
</g>
<g filter="url(#rag)">
<polygon fill="#d838d8" points="230.9,240.4 239.0,236.3 244.4,233.6 247.1,237.7 240.4,243.1 233.6,245.1"/>
<polygon fill="#4a30c8" points="236.3,232.3 241.7,227.6 247.1,222.9 251.8,218.8 254.5,220.2 253.8,224.9 249.8,226.9 244.4,230.3 239.7,234.3"/>
<polygon fill="#2a20b0" points="243.1,227.6 248.4,223.5 251.8,222.2 251.1,226.2 246.4,228.9"/>
<polygon fill="#5a1478" points="223.9,248.4 227.6,246.8 231.2,249.1 231.6,253.1 228.9,255.4 225.3,254.5 223.7,251.8"/>
</g>
<g filter="url(#c20b)">
<polygon fill="#f070e0" points="255.2,225.6 275.3,220.2 283.4,232.3 294.2,233.6 296.9,244.4 286.1,253.8 270.0,256.5 259.2,245.7 255.8,232.3"/>
</g>
<g filter="url(#rag)">
<polygon fill="#3434d4" points="252.7,246.4 256.5,244.4 263.2,246.4 268.6,249.8 272.6,253.8 274.7,257.2 270.0,256.8 265.9,254.1 261.2,251.8 256.5,253.1 253.5,251.8"/>
</g>
<g filter="url(#c45b)">
<polygon fill="#8080f0" points="252.7,246.4 263.2,246.4 272.6,253.8 274.7,257.2 265.9,254.1 256.5,253.1"/>
</g>
<g filter="url(#rag)">
<polygon fill="#5a40d0" points="286.1,245.7 291.5,245.1 296.9,246.4 299.3,249.1 296.9,252.2 292.8,252.7 288.1,251.1"/>
</g>
<g filter="url(#c45a)">
<polygon fill="#e060e0" points="280.7,243.1 291.5,243.1 299.6,248.4 296.9,252.5 286.1,253.8 280.7,249.8"/>
</g>
<g filter="url(#rag)">
<polygon fill="#2a30d8" points="292.8,247.1 297.5,247.1 298.9,250.5 296.2,252.5 292.8,251.8"/>
<polygon fill="#2434e6" points="267.3,280.7 271.3,277.4 276.7,276.7 280.7,278.0 282.1,283.4 280.7,290.1 278.7,295.5 275.3,298.2 271.3,296.9 267.9,292.8 266.6,286.1"/>
<polygon fill="#3c50f0" points="263.2,286.1 267.3,280.7 270.0,279.4 269.3,286.1 266.6,291.5 263.2,292.8"/>
</g>
<g filter="url(#c45a)">
<polygon fill="#e060e0" points="264.6,288.8 270.0,287.4 272.6,300.2 264.6,300.2"/>
</g>
<g filter="url(#rag)">
<polygon fill="#4a6cf8" points="272.6,278.0 279.4,277.4 281.4,280.7 278.0,282.1 274.0,281.4"/>
</g>
<g filter="url(#c10c)">
<polygon fill="#fffffb" points="263.2,276.7 282.1,276.7 282.1,300.2 263.2,300.2"/>
</g>
<g filter="url(#c45a)">
<polygon fill="#3c50f0" points="307.6,294.2 320.4,292.8 320.4,300.2 307.6,300.2"/>
</g>
<g filter="url(#rag)">
<polygon fill="#2232e8" points="268.9,279.4 273.6,277.4 279.0,278.1 281.7,281.4 280.4,286.1 278.3,291.5 275.7,296.2 272.3,296.9 268.9,294.2 267.6,288.8 267.6,283.5"/>
<polygon fill="#3a50f0" points="258.8,287.5 262.9,283.5 267.6,279.4 268.9,283.5 265.6,287.5 261.5,290.2"/>
</g>
<g filter="url(#c45a)">
<polygon fill="#4a6cf8" points="266.9,276.7 284.4,276.7 284.4,286.1 279.0,298.3 266.9,298.3"/>
</g>
<g filter="url(#rag)">
<polygon fill="#e040d8" points="265.3,288.2 267.3,288.8 268.3,293.5 267.6,296.9 266.2,296.2 264.9,292.2"/>
</g>
<g filter="url(#c20b)">
<polygon fill="#e040d8" points="264.2,286.1 268.9,287.5 270.3,298.3 265.6,298.3"/>
</g>
<g filter="url(#c10c)">
<polygon fill="#fffffb" points="257.5,275.4 285.7,275.4 280.4,298.9 260.2,298.9"/>
</g>
<g filter="url(#rag)">
<polygon fill="#3444e0" points="261.8,327.2 266.2,327.9 268.9,333.2 267.6,337.0 264.2,335.9 261.8,331.6"/>
<polygon fill="#e040c0" points="262.2,321.4 265.6,321.8 265.8,323.8 262.6,323.8"/>
</g>
<g filter="url(#c20b)">
<polygon fill="#8090f8" points="260.2,323.8 270.9,326.5 272.3,337.3 261.5,337.3"/>
</g>
<g filter="url(#rag)">
<polygon fill="#6a50e0" points="306.2,300.3 309.3,296.9 312.6,295.6 313.3,298.9 310.6,303.0 307.0,304.7"/>
<polygon fill="#e060e0" points="310.0,296.9 312.6,296.2 312.9,298.5 310.6,299.3"/>
</g>
<g filter="url(#c60a)">
<polygon fill="#4aa0f0" points="321.4,297.6 332.8,296.9 333.1,305.0 331.5,310.4 327.4,313.7 324.1,314.4 322.3,307.7"/>
</g>
<g filter="url(#c30b)">
<polygon fill="#2a60e0" points="321.4,297.6 332.8,296.9 333.1,305.0 331.5,310.4 327.4,313.7 324.1,314.4 322.3,307.7"/>
</g>
<g filter="url(#c20a)">
<polygon fill="#c8e8ff" points="315.3,283.5 334.2,280.8 336.9,290.2 332.8,298.3 320.7,297.6 314.0,292.9"/>
</g>
<g filter="url(#rag)">
<polygon fill="#22b4f4" points="326.1,329.2 331.5,325.8 336.9,323.1 343.6,320.0 351.7,318.2 360.4,317.1 360.4,323.1 354.4,326.5 347.6,330.5 340.9,333.2 334.2,334.6 328.1,333.2"/>
<polygon fill="#28d8f0" points="336.9,323.8 344.9,321.1 353.0,319.8 355.7,323.1 347.6,327.2 339.6,329.2"/>
</g>
<g filter="url(#c45a)">
<polygon fill="#2a60e0" points="324.1,327.9 336.9,322.5 360.4,316.4 360.4,323.8 342.2,333.9 327.4,334.6"/>
</g>
<g filter="url(#c20b)">
<polygon fill="#8cecff" points="324.1,327.9 336.9,322.5 360.4,316.4 360.4,323.8 342.2,333.9 327.4,334.6"/>
</g>
<g filter="url(#c10c)">
<polygon fill="#fffffb" points="324.1,327.9 336.9,322.5 360.4,316.4 360.4,323.8 342.2,333.9 327.4,334.6"/>
</g>
<g filter="url(#c20a)">
<polygon fill="#fff4c0" points="279.0,292.9 285.7,292.9 285.7,300.9 279.0,300.9"/>
<polygon fill="#fff4c0" points="301.9,321.1 310.0,321.1 310.0,333.2 301.9,333.2"/>
</g>
<g filter="url(#rag)">
<polygon fill="#dceeff" points="357.5,304.8 362.9,302.2 369.6,300.8 376.3,299.5 383.1,298.1 389.8,297.0 395.2,297.0 397.6,300.5 396.9,305.7 393.8,308.9 388.4,311.0 381.7,310.2 375.0,309.7 368.3,310.2 362.9,311.6 358.6,311.6 356.4,308.6"/>
<polygon fill="#2444e8" points="383.3,306.2 387.1,304.8 391.8,305.2 393.5,307.0 391.8,309.3 387.1,310.2 383.7,308.9"/>
<polygon fill="#5a78f0" points="379.0,307.3 383.3,306.2 383.7,308.9 380.4,309.7"/>
</g>
<g filter="url(#c45b)">
<polygon fill="#8a48d8" points="371.6,302.6 379.7,303.2 380.4,307.9 372.3,307.3"/>
</g>
<g filter="url(#rag)">
<polygon fill="#22b4f4" points="340.0,322.3 346.7,320.3 353.5,318.6 360.2,317.2 361.5,319.4 358.8,325.8 353.5,329.9 346.7,332.6 340.0,333.9"/>
<polygon fill="#2a78ec" points="340.0,326.1 348.1,323.4 354.8,322.1 353.5,327.4 346.7,330.4 340.0,331.5"/>
</g>
<g filter="url(#c30a)">
<polygon fill="#8cecff" points="340.0,322.3 360.2,317.2 358.8,325.8 346.7,332.6 340.0,333.9"/>
</g>
<g filter="url(#rag)">
<polygon fill="#e4f4ff" points="356.1,316.7 364.2,315.6 365.3,317.8 362.9,320.7 360.2,322.1"/>
<polygon fill="#e8308c" points="133.8,184.6 136.2,183.6 138.6,185.9 138.9,189.0 136.2,190.1 134.2,189.0"/>
<polygon fill="#ffc8e8" points="131.1,177.2 133.5,178.5 136.2,182.6 134.2,183.9 132.1,181.2"/>
<polygon fill="#8a30b4" points="151.8,180.5 155.0,179.6 157.7,181.2 157.0,185.9 154.3,188.2 152.1,185.3"/>
<polygon fill="#c060d0" points="151.2,177.2 156.4,177.2 158.8,179.2 155.0,179.9 151.8,180.9"/>
</g>
<g filter="url(#c5a)">
<polygon fill="#ffe4f8" points="121.4,173.1 210.2,173.1 231.7,232.3 196.7,243.1 156.4,237.7 121.4,197.4"/>
</g>
<g filter="url(#c5c)">
<polygon fill="#e888d8" points="121.4,173.1 210.2,173.1 231.7,232.3 196.7,243.1 156.4,237.7 121.4,197.4"/>
</g>
<g filter="url(#c5b)">
<polygon fill="#8040c0" points="156.4,183.9 210.2,183.9 223.6,232.3 183.3,237.7 156.4,210.8"/>
</g>
<g filter="url(#rag)">
<polygon fill="#b048c8" points="173.9,206.8 179.2,205.4 183.3,208.8 180.6,213.5 175.2,214.2 173.2,210.8"/>
<polygon fill="#ff90d8" points="175.2,229.0 179.2,228.3 179.9,232.3 175.9,233.0"/>
</g>
<g filter="url(#c10a)">
<polygon fill="#c8f4ff" points="141.6,214.9 155.0,214.9 155.0,253.9 141.6,253.9"/>
</g>
<g filter="url(#c30a)">
<polygon fill="#fffffb" points="349.7,485.7 392.8,485.7 394.6,507.8 349.7,507.8"/>
</g>
<g filter="url(#c10c)">
<polygon fill="#fffffb" points="349.7,481.3 392.8,481.3 394.6,507.8 349.7,507.8"/>
</g>
<g filter="url(#c20a)">
<polygon fill="#ff5214" points="349.7,506.0 392.8,506.0 392.8,518.9 349.7,518.9"/>
</g>
<g filter="url(#c10b)">
<polygon fill="#ff5214" points="349.7,517.1 392.8,517.1 392.8,529.7 349.7,529.7"/>
</g>
<g filter="url(#c45a)">
<polygon fill="#ffa81e" points="392.8,506.0 468.1,506.0 469.9,518.9 392.8,518.9"/>
</g>
<g filter="url(#c30b)">
<polygon fill="#ffb428" points="392.8,517.1 468.1,517.1 470.8,529.7 392.8,529.7"/>
</g>
<g filter="url(#c20a)">
<polygon fill="#fffffb" points="392.8,492.0 468.1,492.0 469.0,507.8 392.8,507.8"/>
</g>
<g filter="url(#c45a)">
<polygon fill="#fffffb" points="339.2,491.1 353.3,491.1 353.7,540.2 343.2,540.2 337.9,515.3 336.5,500.5"/>
</g>
<g filter="url(#c30b)">
<polygon fill="#fffffb" points="339.2,491.1 353.3,491.1 353.7,540.2 343.2,540.2 337.9,515.3 336.5,500.5"/>
</g>
<g filter="url(#rag)">
<polygon fill="#fffffb" points="344.6,496.5 353.3,493.8 353.7,540.2 350.0,540.2 347.3,527.4 344.6,510.0"/>
</g>
<g filter="url(#c10c)">
<polygon fill="#ffd21e" points="344.6,496.5 353.3,493.8 353.7,540.2 350.0,540.2 347.3,527.4 344.6,510.0"/>
</g>
<g filter="url(#c45a)">
<polygon fill="#fffffb" points="353.7,503.2 391.7,512.6 392.3,540.2 353.7,540.2"/>
</g>
<g filter="url(#c30b)">
<polygon fill="#fffffb" points="353.7,491.1 374.2,497.9 391.7,512.6 392.3,540.2 353.7,540.2"/>
</g>
</g>
<g class="grid">
<line x1="175.5" y1="160" x2="175.5" y2="638"/><line x1="234.5" y1="160" x2="234.5" y2="638"/><line x1="293.5" y1="160" x2="293.5" y2="638"/><line x1="352.5" y1="160" x2="352.5" y2="638"/><line x1="411.5" y1="160" x2="411.5" y2="638"/><line x1="470.5" y1="160" x2="470.5" y2="638"/><line x1="529.5" y1="160" x2="529.5" y2="638"/><line x1="588.5" y1="160" x2="588.5" y2="638"/><line x1="647.5" y1="160" x2="647.5" y2="638"/><line x1="117" y1="574.5" x2="707" y2="574.5"/><line x1="117" y1="507.5" x2="707" y2="507.5"/><line x1="117" y1="437.5" x2="707" y2="437.5"/><line x1="117" y1="363.5" x2="707" y2="363.5"/><line x1="117" y1="282.5" x2="707" y2="282.5"/><line x1="117" y1="195.5" x2="707" y2="195.5"/></g>
<g class="coast" clip-path="url(#pc)">
<polyline points="142.8,590.2 143.2,582.8 143.5,576.1 143.5,570.7 145.1,566.0 146.1,560.0 145.1,553.2 144.0,547.9 143.5,543.8 145.9,540.0 148.6,535.1 152.2,530.8 156.6,527.3 160.9,524.6 166.1,521.8 171.4,519.1 175.5,515.8 177.4,513.1"/>
<polyline points="175.5,511.3 177.4,513.1 176.4,514.9 178.4,513.9 177.4,513.1 179.2,511.5"/>
<polyline style="stroke-width:1.36" points="174.4,512.9 176.4,514.2"/>
<polyline points="156.9,527.0 155.8,525.2 157.6,526.1"/>
<polyline points="152.2,530.8 150.9,529.3"/>
<polyline points="148.6,535.1 147.0,534.4 146.1,532.8"/>
<polyline points="144.0,547.9 142.4,547.2"/>
<polyline points="143.5,543.8 141.8,542.7 142.9,541.8"/>
<polyline points="143.5,570.7 141.6,570.2 142.4,572.1"/>
<polyline style="stroke-width:1.27" points="143.2,568.7 143.2,576.1"/>
<polyline points="177.4,513.1 182.5,512.6 187.6,510.4 189.9,508.2 190.8,510.2 194.6,508.6 195.4,506.7 196.5,508.8 200.0,510.2 202.6,508.8 203.7,511.0 208.0,512.2 210.7,510.2 212.3,511.8 216.1,511.3 217.4,509.9 219.1,512.3 222.6,516.6 224.8,518.8 228.2,518.3 229.8,519.3 232.2,518.3 233.9,516.1"/>
<polyline points="233.9,516.1 232.9,512.9 230.9,510.2 229.3,507.2 230.4,503.5 233.3,502.6 236.3,504.8 237.6,507.2 240.6,508.6 242.5,506.1 244.6,507.5 246.0,510.2 244.4,513.7 245.4,516.4 243.3,518.5 240.6,520.9 237.9,522.8 234.9,524.2 236.6,526.6 233.6,528.3"/>
<polyline points="229.3,507.2 228.2,508.8 230.1,510.2"/>
<polyline points="237.6,507.2 237.1,510.2 239.2,511.5 241.1,510.2"/>
<polygon points="231.2,502.9 233.1,502.1 234.4,503.5 233.6,505.1 231.7,504.8" fill="none" stroke="#000"/>
<polygon points="242.7,508.8 245.2,508.6 246.0,511.5 244.4,513.1 242.7,511.5" fill="none" stroke="#000"/>
<polyline style="stroke-width:1.36" points="230.2,506.1 232.2,508.2"/>
<polyline style="stroke-width:1.36" points="239.2,517.6 241.7,516.2"/>
<polyline points="250.0,523.6 245.7,525.2 241.7,527.0 237.6,528.3 233.6,528.3 230.2,530.4 226.9,532.0 222.8,533.3 217.4,534.4 212.1,535.2 205.3,535.7 199.3,536.4 196.6,537.4 193.2,537.9 189.2,536.5 183.8,536.4 177.1,536.5 169.7,537.1 165.2,538.4 162.3,540.0 159.3,543.1 157.7,547.2 157.6,550.8 159.6,554.6 161.2,557.3"/>
<rect x="192.4" y="537.0" width="1.6" height="1.6" fill="#000" stroke="none"/>
<rect x="211.5" y="534.7" width="1.6" height="1.6" fill="#000" stroke="none"/>
<polyline points="159.3,576.1 156.9,581.5 154.2,584.2 152.2,590.2"/>
<polyline points="250.0,560.0 247.0,558.9 242.3,557.0 237.6,555.5 232.9,554.3 230.2,554.8 226.9,556.7 222.8,558.9 218.8,561.3 214.8,562.9 210.0,564.0 205.3,563.5 201.3,562.0 197.3,560.0 191.2,559.3 184.5,559.7 177.8,560.6 175.1,563.3 172.8,566.7 170.6,570.7 169.0,576.1 167.9,582.8 167.7,590.2"/>
<rect x="183.7" y="558.9" width="1.6" height="1.6" fill="#000" stroke="none"/>
<rect x="209.2" y="563.2" width="1.6" height="1.6" fill="#000" stroke="none"/>
<polyline style="stroke-width:1.70" points="228.9,565.3 231.6,567.4"/>
<polyline points="134.8,494.0 135.1,496.7 134.6,500.1"/>
<polyline style="stroke-width:1.53" points="189.2,490.7 192.2,491.3"/>
<polyline style="stroke-width:1.53" points="143.6,568.1 142.2,577.5 142.9,586.9 143.6,595.0 142.9,604.4 144.9,613.8 147.6,620.5 150.3,625.9 153.0,632.6 156.4,638.0 158.0,640.7"/>
<polyline style="stroke-width:1.70" points="133.5,611.8 137.5,609.8 136.2,607.1 140.9,609.1 142.9,605.7"/>
<polyline style="stroke-width:1.53" points="144.9,613.1 148.3,620.5"/>
<polyline points="153.0,578.8 150.3,584.2 148.3,589.6 146.9,600.4 147.2,609.8 148.3,619.2"/>
<polyline points="175.2,559.3 171.2,566.7 168.5,574.8 167.1,582.9 166.9,592.3 167.8,600.4 169.1,609.8 171.2,617.9 173.9,627.3 176.5,633.3 179.9,633.3 182.6,628.6 184.6,623.2 188.6,619.2 194.0,616.5 198.1,615.2 203.4,612.5 208.8,609.8 214.2,604.4 220.9,599.0 227.7,593.6 236.4,588.9"/>
<polyline style="stroke-width:1.70" points="186.0,619.2 189.3,617.2 193.4,617.9 196.7,615.2"/>
<polyline style="stroke-width:1.53" points="194.7,613.1 196.7,614.1"/>
<polyline points="208.6,611.1 208.6,640.7"/>
<polyline points="229.0,640.7 229.0,624.8 236.4,623.2"/>
<rect x="128.5" y="628.3" width="2.0" height="2.0" fill="#000" stroke="none"/>
<rect x="228.7" y="565.1" width="2.0" height="2.0" fill="#000" stroke="none"/>
<polyline style="stroke-width:1.70" points="228.3,565.4 231.7,567.4"/>
<polyline points="250.0,503.2 254.0,502.8 256.1,501.8 257.4,498.1 258.3,502.1 262.1,503.2 266.1,501.4 268.2,499.7 270.2,501.0 274.2,500.5 278.9,500.8 282.3,502.8 285.2,503.5 286.3,505.5 288.3,508.8 290.4,510.9 292.8,512.2 295.1,511.5 297.1,509.5 300.5,507.2 303.8,506.5 307.2,507.5 310.5,510.9 313.9,514.9 317.3,518.3 320.2,522.3 321.3,525.2 320.6,530.4 319.7,535.1 321.3,536.4 323.3,535.1 323.7,537.8 321.3,539.8 323.3,543.8 325.3,547.9 327.4,549.2 329.4,551.2 328.7,553.9 330.7,555.9 333.4,560.0 336.1,564.0 338.1,569.4 340.1,572.1 344.2,574.5 347.5,572.7 349.6,570.7 350.6,566.0 350.2,560.0 348.9,553.2 347.1,546.5 345.5,539.8 344.2,533.1 342.8,527.7 340.4,522.3 337.4,518.9 334.1,516.2 332.6,510.2 332.3,504.8 333.4,498.1 336.1,491.3 337.7,489.3"/>
<polyline style="stroke-width:1.53" points="291.7,511.5 294.4,512.6"/>
<polyline style="stroke-width:1.53" points="320.0,536.4 323.3,537.1 322.0,539.8"/>
<polyline style="stroke-width:1.53" points="325.6,548.1 329.4,551.9"/>
<polyline style="stroke-width:1.53" points="337.4,569.4 340.4,572.3"/>
<polyline style="stroke-width:1.70" points="332.3,502.1 333.1,515.6"/>
<polyline style="stroke-width:1.36" points="336.1,530.4 337.4,534.4 336.1,537.1"/>
<polyline style="stroke-width:1.36" points="330.7,524.7 332.7,526.3"/>
<polyline points="336.1,523.0 340.4,525.2 342.8,528.3"/>
<polygon points="340.4,548.1 342.8,545.8 345.0,547.2 344.4,551.2 342.3,552.2" fill="none" stroke="#000"/>
<polyline style="stroke-width:1.70" points="293.3,496.1 297.1,496.5"/>
<rect x="292.9" y="499.3" width="1.6" height="1.6" fill="#000" stroke="none"/>
<rect x="292.9" y="505.3" width="1.6" height="1.6" fill="#000" stroke="none"/>
<rect x="336.4" y="542.3" width="1.6" height="1.6" fill="#000" stroke="none"/>
<polyline points="340.1,572.1 336.1,576.1 330.7,578.8 325.3,580.4 321.3,581.5"/>
<polyline style="stroke-width:1.36" points="330.7,578.1 338.8,576.1 342.8,575.0"/>
<polyline points="354.3,489.3 351.6,496.7 350.6,503.5 350.2,510.2 349.8,516.9 350.6,525.0 352.2,530.4 353.3,538.4 353.6,546.5 353.3,554.6 352.2,562.6 350.9,570.7 347.5,576.1 342.8,579.1 336.1,580.9 329.4,582.0 322.6,582.8 317.3,582.8 310.5,580.4 303.8,576.4 298.4,570.7 296.4,563.3 295.1,553.2 293.3,543.8 290.4,535.1 286.3,527.0 281.6,521.2 276.2,514.2 271.5,511.5 266.1,510.4 260.8,512.9 255.4,515.6 250.0,517.6"/>
<polyline points="294.4,560.0 296.4,569.4 299.1,574.8 303.8,579.9 309.2,584.2 313.2,590.2"/>
<polyline points="250.0,562.6 255.4,561.6 262.1,560.0 267.5,558.6 269.1,554.6 268.8,546.5 268.2,538.4 266.1,535.1"/>
<polyline points="250.0,579.1 256.7,576.8 264.8,576.1 271.5,578.1 275.6,582.8 277.6,590.2"/>
<polyline points="370.4,541.1 365.7,542.5 363.0,545.2 361.7,550.5 362.3,557.3 364.4,562.6 368.4,565.3 370.4,566.0"/>
<polyline points="370.4,573.4 367.0,574.8 364.4,577.4 363.7,584.2 364.4,590.2"/>
<polyline points="250.0,618.1 258.1,618.8 266.1,618.1 272.2,618.8 273.7,624.2 271.5,632.3 267.8,637.6 266.1,640.3"/>
<polyline style="stroke-width:1.36" points="270.2,632.3 267.5,638.3"/>
<polyline points="267.5,595.9 266.4,591.9 265.9,587.9"/>
<polyline points="274.9,611.4 276.9,618.8 277.6,625.5 275.6,632.3 272.2,640.3"/>
<polyline points="250.0,579.8 254.0,577.8"/>
<polyline points="267.5,573.1 272.9,575.1 276.9,579.8 278.9,586.5 280.9,591.9 285.0,595.9 290.4,598.6 295.7,598.6 299.8,596.6"/>
<polyline points="294.4,621.5 297.8,617.5 300.0,613.4 301.1,610.7"/>
<polyline style="stroke-width:1.53" points="294.4,614.1 301.1,612.8"/>
<polyline style="stroke-width:1.53" points="295.7,615.5 298.4,618.8"/>
<polyline points="301.8,605.4 306.5,601.6 313.2,599.3 320.0,598.1"/>
<polyline points="340.4,597.3 346.9,598.6 352.2,600.7 357.6,603.3 364.4,605.1 370.4,605.4"/>
<polyline style="stroke-width:1.70" points="342.8,597.0 348.2,598.6"/>
<polyline style="stroke-width:1.70" points="357.6,603.3 367.0,604.8"/>
<polyline points="303.8,609.4 313.2,606.7 322.6,604.3 330.7,604.8 336.1,609.4 344.2,612.1 352.2,614.8 361.7,616.8 370.4,618.8"/>
<polyline style="stroke-width:1.53" points="320.0,604.8 330.7,605.1 326.7,607.8 332.1,607.0"/>
<polyline points="322.6,605.4 325.3,612.1 329.4,616.8"/>
<polyline points="330.7,605.4 336.1,611.4 344.2,615.0 352.2,618.8 361.7,622.9 370.4,625.5"/>
<polyline points="344.2,615.0 346.9,622.9 352.2,628.2 361.7,629.6 370.4,632.3"/>
<polyline points="330.7,629.6 333.4,636.3 336.1,640.3"/>
<polygon points="347.1,587.2 350.9,584.9 354.3,585.2 357.4,589.2 357.9,592.6 354.3,593.9 350.2,591.2 347.5,590.6" fill="none" stroke="#000"/>
<polyline points="338.8,564.3 339.1,569.0 341.5,572.4 345.5,573.3 349.6,571.7 351.6,567.7 352.0,564.3"/>
<polyline style="stroke-width:1.70" points="326.0,580.1 332.1,578.5 338.8,577.8 344.2,576.4 348.9,574.4"/>
<polyline points="314.6,581.8 320.0,581.4 326.0,580.1"/>
<polyline points="313.2,578.5 320.0,581.1 328.0,582.2 336.1,581.8 344.2,580.5 352.2,578.2 360.3,573.1 364.4,567.7 365.7,564.3"/>
<polyline points="364.4,564.3 363.7,573.1 364.4,581.1 367.0,586.5 370.4,588.5"/>
<polyline points="390.2,489.3 390.2,495.4 393.5,500.8 398.3,503.5 398.5,506.1 394.2,510.2 391.3,512.2 390.9,523.6 391.5,535.7 391.5,546.5 388.8,549.2"/>
<polyline style="stroke-width:1.87" points="370.0,543.8 376.7,546.5 382.1,550.5 386.1,557.3 390.2,565.3 395.6,572.1 400.9,577.4 406.3,582.8"/>
<polyline style="stroke-width:1.87" points="370.0,549.2 375.4,553.2 379.4,560.0 383.5,565.3 388.8,570.7"/>
<polyline style="stroke-width:1.70" points="371.3,554.6 374.0,562.6 378.1,570.7 380.8,578.8 382.1,586.9"/>
<polyline style="stroke-width:1.70" points="390.2,565.3 391.5,573.4 396.9,581.5 402.3,586.9 409.0,589.6"/>
<polyline points="370.0,560.0 372.7,570.7 376.7,581.5 379.4,590.2"/>
<polyline points="384.8,572.1 386.1,581.5 390.2,586.9 396.9,590.2"/>
<polyline points="406.3,582.8 410.4,585.5 415.7,584.2 417.1,586.9 414.4,590.2"/>
<polyline style="stroke-width:2.04" points="415.1,582.8 418.4,586.9"/>
<polyline points="374.0,570.7 371.3,577.4 370.0,584.2"/>
<polygon points="386.1,576.1 390.2,574.8 392.9,580.1 391.5,585.5 387.5,584.2" fill="none" stroke="#000"/>
<rect x="375.3" y="539.7" width="1.6" height="1.6" fill="#000" stroke="none"/>
<rect x="373.2" y="552.4" width="1.6" height="1.6" fill="#000" stroke="none"/>
<rect x="406.9" y="569.9" width="1.6" height="1.6" fill="#000" stroke="none"/>
<polyline style="stroke-width:1.87" points="390.2,564.3 395.6,570.4 400.9,575.8 406.3,581.1 410.4,585.2"/>
<polyline style="stroke-width:1.87" points="375.4,564.3 378.1,573.1 382.1,581.1 384.8,589.2"/>
<polyline style="stroke-width:1.70" points="370.0,573.1 374.0,581.1 376.7,589.2 375.4,597.3"/>
<polyline points="384.8,589.2 387.5,597.3 392.9,598.6 396.9,594.6 400.9,589.2 405.0,591.9"/>
<polyline points="378.1,573.1 383.5,570.4 388.8,573.1 390.2,581.1 387.5,587.9"/>
<polyline points="396.9,578.5 399.6,586.5 402.3,594.6 401.6,605.4 402.3,609.4"/>
<polyline style="stroke-width:2.04" points="415.1,581.8 417.4,587.2"/>
<polyline style="stroke-width:1.70" points="410.4,586.5 415.7,588.5 419.8,591.9"/>
<polyline points="370.0,595.9 375.4,598.0 382.1,597.3 387.5,601.3"/>
<polyline style="stroke-width:2.04" points="421.1,600.0 423.1,597.3 427.2,597.0 429.5,601.1 427.6,606.7 423.1,607.0 420.9,604.0 421.1,600.0"/>
<polyline style="stroke-width:1.70" points="433.2,605.4 437.3,606.7 440.0,610.7 437.9,609.4"/>
<polyline style="stroke-width:1.87" points="444.7,614.1 447.4,612.1 451.4,612.4 453.7,617.2 450.7,620.4 446.0,619.1 444.7,614.1"/>
<polyline style="stroke-width:1.70" points="456.1,616.1 461.5,617.5 464.2,621.5"/>
<polyline points="370.0,605.4 378.1,609.4 387.5,614.8 396.9,620.2 405.0,624.2 414.4,628.2 423.8,630.9 429.2,628.2"/>
<polyline points="429.2,622.9 433.2,624.2 437.3,628.2"/>
<polyline points="448.7,624.2 456.1,625.5 464.2,628.2 472.2,632.3 480.3,636.3 484.4,638.3"/>
<polyline style="stroke-width:1.53" points="461.5,618.8 466.9,624.2 472.2,629.6 477.6,635.0"/>
<polyline points="426.5,597.3 430.5,605.4 434.6,612.1 437.3,618.8 435.9,624.2"/>
<polyline points="458.8,635.0 464.2,637.6 472.2,639.8"/>
<polyline points="334.3,495.2 335.2,489.2 337.7,485.1 340.4,481.1 343.1,475.7 346.4,473.7 351.1,471.7 355.2,469.0 357.9,466.3 361.2,462.3 364.6,456.9 368.6,454.2 374.0,453.5 377.4,450.2 380.7,446.8 384.8,444.1 388.8,442.1 392.8,441.4 396.9,438.1 400.9,436.0 404.3,434.0 406.3,430.0 404.9,424.6 402.2,420.6 401.6,415.2 400.2,409.8 398.9,404.4"/>
<polyline style="stroke-width:1.70" points="335.2,489.2 338.3,484.1 341.0,481.1"/>
<polyline style="stroke-width:1.70" points="343.1,475.5 346.4,473.3"/>
<polyline style="stroke-width:1.53" points="361.2,462.3 363.2,458.2"/>
<polyline style="stroke-width:1.53" points="380.7,446.8 386.1,443.4 392.8,441.0"/>
<polyline style="stroke-width:1.70" points="387.4,435.4 392.8,433.3 396.9,435.4 394.2,438.1"/>
<polyline style="stroke-width:1.70" points="388.8,430.2 394.2,429.3 398.2,430.2"/>
<polyline style="stroke-width:1.87" points="391.5,419.9 396.9,419.2 400.9,420.6 402.2,423.9 399.6,425.3"/>
<polyline style="stroke-width:1.70" points="394.2,423.9 398.9,426.6 400.9,430.2"/>
<polyline style="stroke-width:1.70" points="398.9,411.1 401.6,416.5 402.9,420.6"/>
<polyline points="386.1,403.7 391.5,404.4 394.2,407.1 396.9,405.8 396.2,401.7 394.2,399.0 392.8,395.7"/>
<polyline style="stroke-width:1.87" points="385.0,403.7 392.8,404.7"/>
<polyline style="stroke-width:1.70" points="392.8,406.4 396.9,409.1"/>
<polyline points="399.6,405.8 400.9,401.7 403.6,397.7 406.3,394.3"/>
<polyline points="394.2,394.3 396.2,399.0 396.9,403.1"/>
<polyline style="stroke-width:1.87" points="367.3,411.8 372.6,414.5"/>
<polyline style="stroke-width:1.70" points="374.7,414.9 380.7,416.3"/>
<polyline style="stroke-width:1.70" points="355.2,404.7 358.5,407.4"/>
<polyline style="stroke-width:1.87" points="314.8,443.7 318.8,446.1"/>
<polyline style="stroke-width:1.70" points="321.5,452.2 324.9,454.2 322.2,456.9 326.2,456.2"/>
<polyline style="stroke-width:1.70" points="334.3,450.4 338.3,451.2"/>
<polyline style="stroke-width:1.70" points="346.4,457.6 351.1,459.6 351.8,462.0"/>
<polygon points="303.8,447.2 306.1,445.9 307.0,447.5 305.1,449.1" fill="none" stroke="#000"/>
<polyline style="stroke-width:1.70" points="342.0,474.4 345.7,473.0"/>
<polyline points="420.4,425.3 417.0,428.0 411.7,434.0 406.3,440.1 400.9,446.1 394.2,452.9 387.4,459.6 380.7,465.6 377.4,468.7"/>
<polyline points="363.2,481.1 357.9,486.5 353.8,491.9 351.8,495.2"/>
<polyline points="401.6,454.2 400.9,459.6 402.2,470.3 406.3,478.4 411.7,487.8"/>
<polyline points="406.3,483.8 399.6,485.1 394.2,489.2 392.8,495.2"/>
<polyline style="stroke-width:1.70" points="417.0,425.7 420.4,428.6"/>
<polyline points="441.7,394.3 440.4,400.4 436.3,404.4 431.6,408.5 428.9,412.5 426.2,415.2"/>
<polyline points="417.5,435.4 413.5,439.4 408.1,444.8 404.0,448.8 402.0,455.5 401.3,465.0 402.0,473.0 405.4,478.4 408.1,483.8 410.8,487.8"/>
<polyline points="408.1,483.8 404.0,484.1 400.0,484.5"/>
<polyline points="420.2,394.3 417.5,401.7 414.8,408.5 413.5,415.2 412.8,421.9 411.4,428.6 408.1,435.4 402.7,442.1 400.0,445.5"/>
<polyline points="402.7,394.3 401.3,403.1 400.7,411.1 400.0,419.2"/>
<polyline points="400.0,419.2 404.0,421.9 406.1,428.6 404.0,434.0 400.0,435.4"/>
<polyline style="stroke-width:1.70" points="400.0,408.5 401.6,419.2"/>
<polyline points="424.3,342.2 424.3,352.3 421.2,353.6 421.9,360.4 420.5,365.7 419.2,371.1 416.5,375.2 413.1,377.9 411.8,384.6 409.8,390.0 407.1,395.3 403.1,400.7 400.4,406.1 400.1,414.2 400.4,420.2"/>
<polyline points="413.1,377.9 408.7,374.1 410.0,370.0 411.9,366.0 411.1,363.3 406.4,365.7 405.1,369.1 407.1,375.2 411.1,379.2"/>
<polyline style="stroke-width:1.70" points="411.1,377.2 413.5,378.9"/>
<polyline style="stroke-width:1.70" points="419.2,371.1 418.1,373.8"/>
<polyline style="stroke-width:1.70" points="421.2,352.3 424.6,351.2"/>
<polyline points="424.6,353.6 432.6,350.9 440.7,347.6 448.8,344.9 454.2,342.2 457.1,340.2"/>
<polyline points="424.6,346.9 432.6,344.9 440.7,342.9 447.4,342.2 454.2,338.8 456.2,334.8"/>
<polyline style="stroke-width:2.04" points="440.7,344.9 447.4,343.9"/>
<polyline style="stroke-width:2.21" points="454.2,335.5 457.1,340.2"/>
<polyline style="stroke-width:1.70" points="424.6,348.9 435.3,346.9"/>
<polyline points="456.2,334.8 459.6,328.1 462.2,324.0 463.6,319.3"/>
<polyline points="459.6,328.1 462.2,330.8 464.9,334.8 467.6,336.1 471.7,333.5 471.0,328.1 473.0,324.0 475.7,321.3"/>
<polyline style="stroke-width:1.87" points="458.9,326.7 460.2,324.0"/>
<polyline style="stroke-width:1.70" points="463.6,338.2 467.6,340.2 471.7,342.2"/>
<polyline points="473.0,324.0 477.0,328.1 480.4,330.8"/>
<polyline style="stroke-width:1.70" points="475.7,329.4 480.4,332.8"/>
<polyline style="stroke-width:1.70" points="442.7,324.0 443.4,326.7"/>
<polyline points="400.4,406.1 403.1,400.7 404.4,395.3 407.1,390.0 410.5,385.9 411.1,381.9 408.4,377.9 407.1,373.8 404.4,371.1 405.7,367.1"/>
<polyline points="399.0,420.2 400.1,414.2 398.3,408.8 395.2,406.1 393.6,400.7 395.2,395.3 399.0,390.0 397.7,384.6 394.3,381.9 393.0,376.5 395.0,373.1 399.0,370.5 401.0,371.1"/>
<polyline style="stroke-width:1.87" points="393.6,373.8 395.2,379.2 396.3,384.6"/>
<polyline style="stroke-width:1.70" points="399.0,370.5 401.0,371.8"/>
<polyline style="stroke-width:1.70" points="384.2,387.3 386.9,383.2 387.6,379.9"/>
<polyline style="stroke-width:1.87" points="384.9,387.3 388.9,390.0 392.3,393.3 395.2,395.3"/>
<polyline style="stroke-width:1.70" points="385.6,403.4 390.9,405.4 395.2,407.4"/>
<polyline style="stroke-width:1.70" points="393.0,400.7 395.2,406.1"/>
<polyline style="stroke-width:1.70" points="386.2,320.7 388.9,323.4 390.9,321.3 393.0,324.0"/>
<polyline style="stroke-width:1.70" points="367.4,412.2 372.1,414.2 374.8,415.5 379.5,415.8"/>
<polyline style="stroke-width:1.87" points="399.0,414.2 400.4,420.2"/>
<polyline points="480.4,362.0 470.3,361.0 462.2,360.4 456.9,359.0 452.8,363.1 447.4,367.1 443.4,371.1 438.0,376.5 432.6,381.9 427.3,387.3 423.2,392.6 419.2,398.0 417.2,403.4 415.2,411.5 413.8,420.2"/>
<rect x="456.1" y="358.2" width="1.6" height="1.6" fill="#000" stroke="none"/>
<rect x="442.6" y="370.3" width="1.6" height="1.6" fill="#000" stroke="none"/>
<rect x="426.5" y="386.5" width="1.6" height="1.6" fill="#000" stroke="none"/>
<polyline points="480.4,375.2 474.4,377.9 467.6,381.9 462.2,384.6 457.5,380.5 456.9,385.9 454.2,390.0 447.4,391.3 442.1,390.0 441.4,395.3 440.7,400.7 435.3,404.8 431.3,408.8 428.6,414.2 425.9,420.2"/>
<rect x="446.6" y="390.5" width="1.6" height="1.6" fill="#000" stroke="none"/>
<polyline style="stroke-width:1.70" points="424.6,416.2 428.6,416.9"/>
<polygon points="210.8,251.8 217.5,244.4 224.2,239.0 232.3,233.6 240.4,228.3 247.1,222.9 252.5,217.5 255.2,214.1 260.5,214.8 267.3,216.8 273.3,216.8 276.7,220.2 279.4,225.6 283.4,230.9 288.8,232.3 294.2,231.6 294.8,236.3 296.2,240.4 298.9,244.4 299.6,248.4 296.9,251.8 292.8,252.5 286.1,253.8 279.4,255.2 274.7,257.2 270.0,256.5 265.9,253.8 263.2,251.1 259.2,245.7 261.9,241.7 257.9,240.4 253.8,243.1 251.8,245.7 253.1,251.1 248.4,248.4 244.4,249.8 240.4,251.8 233.6,253.1 226.9,253.8 220.2,253.1 214.8,253.1" fill="none" stroke="#000"/>
<polyline style="stroke-width:2.04" points="253.8,214.1 260.5,215.1 263.2,216.8"/>
<polyline style="stroke-width:1.87" points="251.1,218.2 254.5,214.5"/>
<polyline style="stroke-width:1.70" points="251.8,245.7 252.7,251.8"/>
<polyline style="stroke-width:1.70" points="205.4,249.8 210.8,251.8"/>
<polygon points="282.7,234.7 286.1,234.3 286.8,236.3 283.7,236.6" fill="none" stroke="#000"/>
<polyline style="stroke-width:1.70" points="294.2,251.1 300.2,253.8 303.6,259.2"/>
<polyline points="296.9,251.8 302.2,257.9 306.3,262.6 311.7,263.2 320.4,262.6"/>
<polyline style="stroke-width:1.87" points="302.2,257.9 307.6,263.2 311.7,264.3"/>
<polyline style="stroke-width:1.87" points="315.0,266.6 320.4,267.3 318.4,269.3"/>
<polyline points="263.2,300.2 263.2,294.2 262.6,288.8 259.2,287.4 260.5,283.4 264.6,279.4 267.3,275.3 270.0,270.0 272.6,267.9 275.3,267.3 280.7,265.9 286.1,264.6 291.5,265.9 294.2,268.6 296.9,267.3"/>
<polyline points="270.0,270.0 273.3,272.6 270.0,276.7 266.6,280.7 263.2,286.1"/>
<polyline points="296.9,267.3 292.8,272.6 288.8,278.0 287.4,283.4 286.1,288.8 283.4,294.2 280.7,300.2"/>
<polyline style="stroke-width:1.87" points="286.1,280.7 287.4,286.1"/>
<polyline style="stroke-width:1.70" points="286.1,270.0 289.5,268.6"/>
<polyline style="stroke-width:1.87" points="296.2,270.0 299.6,272.6 296.9,274.7"/>
<polyline points="296.9,267.3 302.2,270.0 307.6,272.6 311.7,276.7 313.0,283.4 313.7,291.5 314.4,300.2"/>
<polyline style="stroke-width:1.70" points="294.2,291.5 296.9,293.5"/>
<polyline style="stroke-width:1.87" points="246.4,200.7 247.1,205.4 250.5,206.7 253.8,205.4 255.8,201.3"/>
<polyline style="stroke-width:1.70" points="248.4,202.0 251.1,204.0 254.5,202.7"/>
<polyline style="stroke-width:1.70" points="268.6,207.4 271.3,204.0 274.0,200.7"/>
<rect x="200.8" y="204.2" width="2.4" height="2.4" fill="#000" stroke="none"/>
<rect x="211.6" y="201.5" width="2.4" height="2.4" fill="#000" stroke="none"/>
<rect x="209.6" y="208.9" width="2.4" height="2.4" fill="#000" stroke="none"/>
<rect x="216.3" y="213.6" width="2.4" height="2.4" fill="#000" stroke="none"/>
<rect x="227.1" y="214.3" width="2.4" height="2.4" fill="#000" stroke="none"/>
<rect x="225.0" y="215.6" width="2.4" height="2.4" fill="#000" stroke="none"/>
<rect x="212.3" y="230.4" width="2.4" height="2.4" fill="#000" stroke="none"/>
<rect x="214.3" y="227.7" width="2.4" height="2.4" fill="#000" stroke="none"/>
<rect x="222.3" y="225.7" width="2.4" height="2.4" fill="#000" stroke="none"/>
<rect x="206.9" y="247.2" width="2.4" height="2.4" fill="#000" stroke="none"/>
<rect x="231.8" y="263.4" width="2.4" height="2.4" fill="#000" stroke="none"/>
<rect x="235.8" y="265.4" width="2.4" height="2.4" fill="#000" stroke="none"/>
<rect x="239.2" y="267.4" width="2.4" height="2.4" fill="#000" stroke="none"/>
<rect x="234.5" y="268.8" width="2.4" height="2.4" fill="#000" stroke="none"/>
<rect x="243.2" y="264.7" width="2.4" height="2.4" fill="#000" stroke="none"/>
<rect x="212.3" y="269.4" width="2.4" height="2.4" fill="#000" stroke="none"/>
<rect x="216.3" y="262.0" width="2.4" height="2.4" fill="#000" stroke="none"/>
<rect x="204.9" y="272.1" width="2.4" height="2.4" fill="#000" stroke="none"/>
<rect x="220.3" y="276.2" width="2.4" height="2.4" fill="#000" stroke="none"/>
<rect x="237.1" y="272.1" width="2.4" height="2.4" fill="#000" stroke="none"/>
<rect x="256.0" y="255.3" width="2.4" height="2.4" fill="#000" stroke="none"/>
<rect x="285.6" y="214.9" width="2.4" height="2.4" fill="#000" stroke="none"/>
<rect x="282.9" y="260.0" width="2.4" height="2.4" fill="#000" stroke="none"/>
<polyline style="stroke-width:2.04" points="200.0,221.5 205.4,224.9 212.1,228.9 216.1,230.9"/>
<polyline style="stroke-width:1.87" points="300.2,212.8 302.2,215.5"/>
<polyline style="stroke-width:2.04" points="306.3,224.9 311.0,222.9"/>
<polyline style="stroke-width:1.70" points="299.6,202.7 296.9,205.4"/>
<polyline style="stroke-width:1.70" points="204.0,289.5 209.4,292.8"/>
<polyline style="stroke-width:1.87" points="233.6,296.2 235.2,300.2"/>
<polyline style="stroke-width:1.70" points="247.8,296.2 253.8,296.9"/>
<rect x="285.2" y="216.6" width="1.8" height="1.8" fill="#000" stroke="none"/>
<rect x="295.3" y="291.9" width="1.8" height="1.8" fill="#000" stroke="none"/>
<rect x="220.6" y="232.7" width="1.8" height="1.8" fill="#000" stroke="none"/>
<rect x="242.2" y="272.4" width="1.8" height="1.8" fill="#000" stroke="none"/>
<rect x="240.1" y="261.0" width="1.8" height="1.8" fill="#000" stroke="none"/>
<polyline points="270.9,269.3 268.9,274.0 265.6,278.1 261.5,283.5 258.2,288.8 260.2,290.2 264.2,286.1 267.6,282.8"/>
<polyline points="263.5,292.9 260.9,300.9 259.9,309.0 259.5,317.1 260.2,325.2 261.5,331.2 264.2,335.9 267.6,337.3 272.3,335.9 275.7,331.9 277.7,326.5 279.0,319.8 279.0,313.1 277.7,307.7 276.1,302.3 275.7,296.9 277.7,291.5 280.4,286.1 284.4,282.1 287.1,280.1 287.8,284.8 286.4,282.1"/>
<polyline points="287.1,280.1 291.1,276.7 295.2,274.0 299.2,271.3 301.9,269.3"/>
<polyline style="stroke-width:1.87" points="257.5,288.8 261.5,284.1 265.6,279.4"/>
<polyline style="stroke-width:1.87" points="286.4,280.8 287.8,285.5"/>
<polyline style="stroke-width:1.70" points="293.8,275.4 299.2,272.0"/>
<polyline points="299.2,271.3 304.6,272.7 310.0,275.4 312.6,278.1 313.7,283.5 313.7,290.2 313.3,294.2 310.0,296.2 306.6,299.6 305.9,303.6 308.6,305.0 312.6,300.9 316.0,296.9 320.7,297.6 322.1,302.3 322.7,309.0 324.1,315.1 327.4,313.7 331.5,310.4 332.8,303.6 332.2,298.3 334.2,294.2 337.1,290.2 337.5,284.8 335.5,280.8 332.8,278.1 330.1,274.0 327.4,269.3"/>
<polyline style="stroke-width:1.70" points="305.9,303.0 308.9,304.7"/>
<polyline points="324.1,315.1 322.7,318.4 320.7,320.5"/>
<polygon points="318.3,321.8 320.7,320.5 323.7,326.5 320.7,327.6 318.0,325.8" fill="none" stroke="#000"/>
<polyline points="320.7,327.6 319.4,330.5 315.3,333.2 313.3,333.2 314.7,337.3 318.0,340.0 323.4,340.6 330.1,338.6 336.9,335.9 344.9,331.9 351.7,327.9 358.4,323.8 360.4,322.7"/>
<polyline points="323.7,326.5 327.4,327.9 334.2,323.8 342.2,319.8 350.3,317.8 357.0,316.4 360.4,316.4"/>
<polyline style="stroke-width:1.87" points="313.3,332.6 314.3,336.6"/>
<polyline style="stroke-width:1.87" points="317.4,339.3 320.7,340.2"/>
<polyline points="315.3,333.2 319.4,332.6 322.1,330.5"/>
<polyline points="360.4,305.7 357.0,306.6 356.0,309.0 357.3,311.7 360.4,312.0"/>
<polyline style="stroke-width:2.04" points="338.9,282.1 340.9,286.1"/>
<polyline style="stroke-width:2.21" points="347.6,275.4 351.7,279.4"/>
<polyline style="stroke-width:2.04" points="350.3,283.5 355.7,285.5"/>
<polyline style="stroke-width:1.87" points="344.9,269.3 347.6,274.0"/>
<polyline style="stroke-width:1.70" points="337.5,290.2 342.2,288.8 347.6,290.2 351.7,292.9"/>
<polyline points="347.6,290.2 349.0,286.1 353.0,283.5"/>
<polyline style="stroke-width:1.70" points="358.4,284.8 359.7,290.2"/>
<polyline style="stroke-width:2.04" points="326.1,269.3 332.8,272.7"/>
<polyline style="stroke-width:2.04" points="247.4,296.9 253.5,296.2 252.8,301.6 247.4,302.0"/>
<polyline style="stroke-width:1.87" points="240.0,313.7 246.7,317.8"/>
<rect x="250.4" y="320.8" width="2.0" height="2.0" fill="#000" stroke="none"/>
<rect x="255.8" y="323.5" width="2.0" height="2.0" fill="#000" stroke="none"/>
<rect x="294.8" y="291.9" width="2.0" height="2.0" fill="#000" stroke="none"/>
<rect x="243.7" y="273.0" width="2.0" height="2.0" fill="#000" stroke="none"/>
<rect x="254.5" y="275.1" width="2.0" height="2.0" fill="#000" stroke="none"/>
<rect x="285.4" y="270.3" width="2.0" height="2.0" fill="#000" stroke="none"/>
<rect x="296.9" y="273.0" width="2.0" height="2.0" fill="#000" stroke="none"/>
<polygon points="356.1,308.6 357.5,304.6 362.9,301.9 369.6,300.5 376.3,299.2 383.1,297.9 389.8,296.5 395.2,296.5 397.9,300.5 397.2,305.9 393.8,309.3 388.4,311.3 381.7,310.6 375.0,310.0 368.3,310.6 362.9,312.0 358.2,312.0" fill="none" stroke="#000"/>
<polyline style="stroke-width:2.21" points="380.4,298.5 387.1,297.6 393.8,296.5 397.9,295.4 401.2,292.5"/>
<polyline style="stroke-width:2.04" points="395.2,286.4 397.2,291.1 396.5,295.8"/>
<polyline style="stroke-width:1.70" points="395.2,297.9 399.2,299.9"/>
<polyline style="stroke-width:1.87" points="398.5,311.3 402.6,312.6"/>
<polyline points="340.0,322.1 346.7,320.0 353.5,318.0 360.2,316.7 364.2,315.3 365.6,317.4 362.9,320.7 358.8,326.1 353.5,330.1 346.7,332.8 340.0,334.2"/>
<polyline style="stroke-width:2.04" points="363.5,313.7 365.3,317.4"/>
<polyline style="stroke-width:1.70" points="358.8,328.1 361.5,329.5"/>
<polyline style="stroke-width:1.53" points="385.1,318.0 385.5,324.1"/>
<polyline style="stroke-width:1.53" points="387.8,317.4 387.1,325.4"/>
<polyline style="stroke-width:1.53" points="390.5,317.0 391.1,323.4"/>
<polyline style="stroke-width:1.53" points="393.1,316.7 393.8,322.1 395.8,318.0"/>
<polyline style="stroke-width:2.21" points="432.8,281.7 431.5,287.1 432.2,292.5 430.8,297.9 429.5,303.2 427.4,307.3"/>
<polyline style="stroke-width:1.87" points="431.5,281.7 434.8,282.8"/>
<polygon points="422.1,276.6 424.8,273.0 428.1,271.2 429.9,272.3 427.4,275.2 424.1,277.7" fill="none" stroke="#000"/>
<polyline style="stroke-width:1.87" points="432.2,266.9 434.8,263.5"/>
<polyline points="340.0,266.9 344.0,270.9 348.1,276.3 350.8,280.4 352.1,284.4 348.1,285.7 345.4,289.8 340.0,284.4"/>
<polyline style="stroke-width:2.21" points="348.1,277.0 352.8,285.1 356.1,285.7"/>
<polyline style="stroke-width:2.04" points="346.7,261.5 352.1,260.2 358.8,260.9 357.5,263.5 352.1,263.9"/>
<polyline style="stroke-width:2.21" points="357.5,240.0 360.2,245.4 363.5,250.1 366.9,251.4"/>
<polyline style="stroke-width:2.04" points="350.1,245.4 351.4,252.1"/>
<polyline style="stroke-width:1.87" points="342.7,252.8 346.1,251.4"/>
<polyline style="stroke-width:2.21" points="357.5,290.5 361.5,292.5 360.2,295.2"/>
<polyline style="stroke-width:2.38" points="366.2,290.0 374.3,290.9 371.6,293.1"/>
<polyline style="stroke-width:1.87" points="373.0,294.5 375.0,296.5"/>
<polyline style="stroke-width:1.70" points="341.3,283.1 344.0,287.1 349.4,289.8"/>
<polyline style="stroke-width:2.21" points="381.7,240.0 389.8,242.7 396.5,247.4"/>
<polyline style="stroke-width:2.21" points="399.9,252.8 405.2,249.4"/>
<polyline style="stroke-width:1.87" points="402.6,261.5 404.3,265.6 401.9,266.2"/>
<polyline style="stroke-width:2.04" points="385.5,267.6 388.4,268.5"/>
<polyline style="stroke-width:1.87" points="371.2,265.6 372.0,275.0"/>
<polyline style="stroke-width:1.70" points="363.5,264.9 364.2,267.6"/>
<polyline style="stroke-width:1.87" points="377.4,274.3 378.3,276.3"/>
<polyline style="stroke-width:1.87" points="374.7,279.7 376.3,281.4"/>
<polyline style="stroke-width:1.70" points="381.0,271.2 382.4,272.3"/>
<polyline style="stroke-width:1.70" points="387.8,285.1 389.1,286.4"/>
<polyline style="stroke-width:1.87" points="362.6,278.3 364.2,279.7"/>
<polyline style="stroke-width:1.70" points="368.9,264.9 370.9,265.8"/>
<polyline style="stroke-width:2.21" points="424.1,250.8 427.4,253.2"/>
<polyline style="stroke-width:2.21" points="418.0,240.7 423.4,243.4"/>
<polyline style="stroke-width:1.70" points="438.9,241.6 440.9,242.4"/>
<polyline style="stroke-width:1.70" points="431.8,256.4 432.8,257.5"/>
<polyline style="stroke-width:1.87" points="454.4,266.9 456.8,268.9"/>
<polyline style="stroke-width:1.87" points="443.9,279.0 444.9,283.3"/>
<polyline style="stroke-width:1.70" points="454.1,304.3 455.4,305.9"/>
<polyline style="stroke-width:1.87" points="442.9,323.4 443.6,327.4"/>
<polyline style="stroke-width:2.04" points="458.4,325.4 460.0,327.4"/>
<polyline style="stroke-width:2.38" points="454.4,334.8 459.7,339.6"/>
<polyline style="stroke-width:2.04" points="456.4,252.1 460.0,248.1"/>
<polyline style="stroke-width:1.87" points="458.4,285.1 460.0,286.4"/>
<polyline style="stroke-width:1.70" points="410.6,264.9 411.0,268.3"/>
<polyline style="stroke-width:1.87" points="453.5,340.7 457.5,337.4 460.2,335.3 462.9,332.6 460.2,327.3 461.5,321.9 462.2,316.5 462.9,312.5 464.9,308.4 466.9,304.4 469.6,301.7 475.0,299.7 480.4,298.3 484.4,295.0 488.4,293.0 493.8,291.6 499.2,288.9 504.6,286.2 507.3,282.9 505.9,279.5"/>
<polyline style="stroke-width:2.55" points="468.9,302.4 475.0,300.1 480.4,298.7"/>
<polyline style="stroke-width:2.72" points="483.1,295.2 488.4,293.1 493.8,291.8"/>
<polyline style="stroke-width:2.55" points="503.2,286.9 507.3,282.9 509.3,284.9 506.6,280.2"/>
<polyline style="stroke-width:2.21" points="453.5,336.7 456.8,339.4 460.2,340.7 465.6,337.4 470.3,335.3 470.9,342.1 466.9,342.3"/>
<polyline style="stroke-width:2.04" points="458.8,324.6 461.5,327.3"/>
<polyline style="stroke-width:1.87" points="440.0,346.1 445.4,344.1 450.8,342.1 454.8,339.4"/>
<polyline style="stroke-width:2.21" points="440.7,348.1 445.4,346.1"/>
<polyline points="454.8,339.4 457.5,342.1 461.5,341.4"/>
<polyline points="507.3,282.9 512.6,280.9 518.0,278.2 523.4,275.5 528.8,272.8 534.2,270.1 536.9,268.1"/>
<polyline style="stroke-width:1.70" points="515.3,277.5 518.0,276.1"/>
<polyline points="515.3,293.6 519.4,288.9 523.4,285.6 528.8,282.2 534.2,278.8 538.2,276.8 539.6,280.2 540.2,285.6 540.9,289.6 538.9,293.6 534.2,297.7 528.8,300.4 524.8,304.4 521.4,306.4 518.0,303.1 516.0,299.0 515.3,293.6"/>
<polyline style="stroke-width:2.38" points="516.0,298.3 518.3,303.3 521.8,306.8 525.0,304.4"/>
<polyline style="stroke-width:2.21" points="534.2,297.7 538.9,293.9 540.9,289.9"/>
<polyline style="stroke-width:1.87" points="513.3,293.6 515.6,292.0"/>
<polyline style="stroke-width:1.87" points="526.1,292.3 528.8,296.1 531.5,292.3 534.2,292.0"/>
<polygon points="539.6,303.7 543.6,299.7 547.6,299.0 547.0,304.4 544.9,308.4 543.6,305.7" fill="none" stroke="#000"/>
<polygon points="549.6,305.7 553.0,299.0 555.7,295.7 557.0,299.0 554.4,304.4 551.7,308.4" fill="none" stroke="#000"/>
<polyline style="stroke-width:1.70" points="544.3,308.4 544.9,311.8"/>
<polyline points="560.4,314.5 553.0,316.5 547.6,317.9 542.2,319.2 536.9,321.2 531.5,324.6 526.1,327.3 522.7,329.3 519.4,325.9 515.3,323.2 510.0,321.2 505.9,319.2 503.2,316.5 500.5,313.1 497.9,311.1"/>
<polyline points="522.7,329.3 520.7,335.3 518.0,340.7 514.0,346.1 510.0,351.5 505.9,355.5 501.9,356.9"/>
<rect x="514.4" y="339.8" width="1.8" height="1.8" fill="#000" stroke="none"/>
<rect x="511.7" y="341.2" width="1.8" height="1.8" fill="#000" stroke="none"/>
<polyline points="560.4,330.0 554.4,332.0"/>
<polyline points="532.8,342.1 526.1,346.1 520.7,351.5 516.7,356.9 515.3,360.2"/>
<rect x="523.9" y="343.9" width="1.8" height="1.8" fill="#000" stroke="none"/>
<rect x="517.8" y="345.2" width="1.8" height="1.8" fill="#000" stroke="none"/>
<rect x="513.1" y="347.9" width="1.8" height="1.8" fill="#000" stroke="none"/>
<polygon points="454.5,267.4 456.1,266.5 457.2,268.1 455.9,269.4" fill="none" stroke="#000"/>
<polyline style="stroke-width:2.04" points="473.6,273.5 475.2,268.1 479.0,264.0 480.4,261.3"/>
<polyline style="stroke-width:1.87" points="482.8,269.7 485.1,271.4"/>
<polyline style="stroke-width:1.87" points="495.8,270.1 499.2,272.1"/>
<polyline style="stroke-width:2.38" points="458.2,286.2 460.9,282.9"/>
<polyline style="stroke-width:1.87" points="443.8,280.2 444.7,283.5"/>
<polyline style="stroke-width:1.87" points="454.1,303.7 456.1,305.7"/>
<polyline style="stroke-width:2.04" points="442.4,323.2 443.4,326.6"/>
<polyline style="stroke-width:2.04" points="516.0,267.4 518.7,264.7"/>
<polyline style="stroke-width:1.70" points="464.2,300.4 465.6,301.0"/>
<polyline style="stroke-width:1.70" points="510.0,292.3 512.0,291.6"/>
<polyline points="540.0,190.0 545.4,189.3 550.8,190.4 556.1,190.0 561.5,190.9 565.6,191.3 572.3,191.3 580.4,190.6 585.7,190.4 589.8,189.3 591.8,187.3 595.2,184.6 597.2,181.9 599.2,179.9 601.2,177.2 603.2,174.5 605.9,172.1 608.6,170.5 612.0,169.4 615.3,168.4 618.7,167.5 622.1,167.1 625.4,165.3 628.8,163.7 634.2,160.4 639.6,157.7"/>
<polyline style="stroke-width:1.87" points="540.0,190.0 545.4,189.3 550.8,190.4"/>
<polyline style="stroke-width:2.04" points="589.8,189.3 595.2,184.6 599.2,179.9 603.2,174.5 608.6,170.5"/>
<polyline style="stroke-width:1.70" points="615.3,168.4 622.1,167.1"/>
<polyline points="640.9,165.7 636.9,167.8 632.8,170.5 627.4,173.1 624.8,176.5 622.1,179.9 620.7,183.9 619.4,187.9 618.0,192.0 616.7,196.0 615.3,199.4 614.0,202.7 612.0,206.8 610.0,210.8 607.3,214.9 603.2,218.2 599.2,220.2 597.9,221.6 601.9,221.8 605.9,220.2"/>
<polyline style="stroke-width:1.87" points="627.4,173.1 622.1,179.9 619.4,187.9"/>
<polyline style="stroke-width:1.70" points="616.7,196.0 614.0,202.7 610.0,210.8"/>
<polyline style="stroke-width:2.21" points="638.9,165.1 642.9,166.4 640.9,169.1"/>
<polyline style="stroke-width:2.04" points="599.2,220.2 603.2,221.6"/>
<polyline points="640.9,169.1 638.9,173.8 636.9,178.5 634.8,183.2 632.8,187.9 630.8,192.0 628.8,196.0 627.2,200.1 626.1,202.7"/>
<polyline style="stroke-width:1.87" points="640.2,175.8 641.6,181.9"/>
<polyline style="stroke-width:1.87" points="627.4,195.3 626.8,200.1"/>
<polyline style="stroke-width:3.06" points="634.2,200.1 639.6,202.1 644.9,203.4"/>
<polyline style="stroke-width:2.89" points="644.9,204.8 651.7,203.4 658.4,202.1"/>
<polyline style="stroke-width:2.55" points="635.5,204.1 639.6,206.1"/>
<polyline style="stroke-width:2.04" points="647.6,206.8 654.4,208.1"/>
<polyline style="stroke-width:1.87" points="634.2,192.7 642.2,193.3"/>
<polyline points="642.2,195.3 649.0,196.0 655.7,197.4 660.4,198.7"/>
<polyline style="stroke-width:1.87" points="636.9,208.1 638.2,210.1"/>
<polyline style="stroke-width:2.04" points="647.6,214.9 653.0,216.2"/>
<polyline style="stroke-width:1.87" points="650.3,221.6 651.7,224.3"/>
<polyline style="stroke-width:2.04" points="644.9,228.3 649.0,229.6"/>
<polyline style="stroke-width:2.21" points="627.4,225.6 632.8,223.6 636.9,227.0"/>
<polyline style="stroke-width:1.87" points="623.4,218.9 630.1,216.2"/>
<polyline style="stroke-width:2.04" points="617.4,226.3 620.7,225.6"/>
<polyline style="stroke-width:1.87" points="614.0,229.6 614.7,231.7"/>
<polyline style="stroke-width:2.21" points="608.6,210.1 613.3,212.2"/>
<polyline style="stroke-width:2.04" points="614.0,216.9 620.7,212.2"/>
<polyline style="stroke-width:1.87" points="620.7,206.8 624.1,207.5"/>
<polyline points="605.9,196.0 602.6,199.0 599.2,202.7 596.5,206.8 593.8,210.8 592.5,214.9 591.8,218.9 592.2,222.9 593.1,227.0 594.5,230.7 596.5,233.7 599.2,236.6 601.9,239.1 605.9,242.4"/>
<rect x="598.3" y="199.2" width="1.8" height="1.8" fill="#000" stroke="none"/>
<rect x="601.0" y="196.5" width="1.8" height="1.8" fill="#000" stroke="none"/>
<rect x="592.9" y="212.6" width="1.8" height="1.8" fill="#000" stroke="none"/>
<polyline points="596.5,233.0 605.9,224.3 615.3,216.2 623.4,210.1"/>
<polyline points="610.0,210.8 607.3,208.1"/>
<polyline style="stroke-width:2.21" points="605.9,242.4 607.3,237.7 610.0,236.4 615.3,237.7 620.7,238.4 626.1,239.1 631.5,237.7 636.9,235.0 640.9,236.4 644.9,237.7"/>
<polyline style="stroke-width:2.89" points="634.2,235.7 639.6,237.7 646.3,239.1"/>
<polyline style="stroke-width:2.55" points="644.9,237.7 651.7,237.7 655.7,236.4 660.4,234.4"/>
<polyline style="stroke-width:2.04" points="606.6,238.4 610.0,241.1"/>
<polygon points="610.6,247.1 618.0,240.7 623.4,242.0 615.3,249.8" fill="none" stroke="#000"/>
<polyline points="619.4,252.5 627.4,245.8 634.2,241.1 636.9,243.1 634.2,249.8 631.5,252.5"/>
<polyline points="631.5,245.8 634.2,251.2 636.9,249.8"/>
<polyline style="stroke-width:1.87" points="632.8,248.5 636.9,244.4 642.2,243.1"/>
<polyline points="647.6,243.1 649.0,251.2 647.6,257.2"/>
<polyline style="stroke-width:2.04" points="651.7,243.1 655.7,240.4 660.4,243.1"/>
<polyline style="stroke-width:1.87" points="658.4,247.1 660.4,251.2"/>
<polygon points="540.0,197.4 548.1,200.1 556.1,203.4 564.2,207.5 573.6,210.8 580.4,212.8 583.1,214.9 580.4,216.9 573.6,216.2 564.2,213.5 556.1,210.8 548.1,207.5 542.7,204.1 540.0,201.4" fill="none" stroke="#000"/>
<polyline points="540.0,193.3 548.1,194.7 556.1,196.0 562.2,197.1"/>
<polyline points="571.6,197.4 576.3,198.7 580.4,201.4 584.4,204.4 587.1,206.1 588.2,202.7 590.5,197.4 592.5,196.0 596.5,194.9"/>
<polyline points="556.1,196.0 558.2,198.7 557.5,200.7"/>
<polyline style="stroke-width:1.70" points="596.5,200.1 600.5,201.4"/>
<polyline points="540.0,212.2 545.4,217.5 553.5,221.6 561.5,224.3 569.6,227.0 575.0,230.3 580.4,233.7 584.4,239.1 587.1,244.4 591.1,251.2 596.5,257.2"/>
<polyline style="stroke-width:1.87" points="542.7,214.9 546.1,218.9"/>
<rect x="544.4" y="220.6" width="2.0" height="2.0" fill="#000" stroke="none"/>
<polyline style="stroke-width:2.21" points="564.9,243.8 568.9,241.1 572.3,236.4"/>
<polyline style="stroke-width:1.70" points="566.9,243.1 570.3,241.8"/>
<polyline style="stroke-width:2.04" points="540.0,213.5 542.0,216.2"/>
<polyline style="stroke-width:3.57" points="635.2,200.7 640.6,203.1 646.1,204.9 651.5,203.7 656.4,201.9"/>
<polyline style="stroke-width:3.06" points="638.2,204.9 644.3,207.3 649.1,207.9"/>
<polyline style="stroke-width:2.55" points="651.5,200.1 658.8,199.5"/>
<polyline style="stroke-width:3.74" points="660.6,214.0 661.8,218.9 663.1,222.5"/>
<polyline style="stroke-width:2.55" points="657.0,217.7 660.0,221.3"/>
<polyline style="stroke-width:2.89" points="633.9,235.8 638.2,238.3 643.0,239.5 649.1,238.3"/>
<polyline style="stroke-width:2.72" points="653.4,240.7 657.6,237.1 662.5,234.6 664.9,232.2"/>
<polyline style="stroke-width:2.55" points="660.0,228.6 664.9,226.7"/>
<polyline style="stroke-width:2.21" points="644.3,229.8 649.1,228.0"/>
<polyline style="stroke-width:2.04" points="627.3,227.4 632.1,224.3 635.2,226.1"/>
<polyline style="stroke-width:2.04" points="623.6,220.1 628.5,217.0"/>
<polyline style="stroke-width:2.04" points="631.5,246.8 632.7,251.0"/>
<polyline style="stroke-width:2.21" points="662.5,248.0 664.9,252.2"/>
<polyline style="stroke-width:2.21" points="669.7,235.8 671.6,239.5"/>
<polyline style="stroke-width:2.04" points="649.1,254.0 650.9,257.1"/>
<polyline style="stroke-width:1.87" points="650.9,222.5 651.8,224.9"/>
<polyline points="647.9,195.8 656.4,195.8 664.9,195.8 669.7,197.6 671.6,201.9 669.7,205.5 670.9,210.4 673.4,214.0 675.2,217.7 673.4,221.3 670.9,224.9 669.7,229.8 670.9,233.4 674.0,235.8 676.0,240.1 674.8,245.5 672.4,250.4 668.8,254.0 665.1,252.8 662.7,248.2 660.0,250.4 657.6,246.8 660.0,241.9 656.4,244.3 652.8,248.0 650.3,244.3 647.9,249.2 647.3,257.1"/>
<polyline points="647.9,210.4 652.8,212.2 657.6,214.0"/>
<polyline points="656.4,209.2 662.5,210.4 666.1,209.2 664.9,212.8"/>
<polyline points="666.1,217.7 669.7,220.1 672.2,217.7"/>
<polyline points="637.0,241.9 640.6,245.5 644.3,244.3 647.9,246.8"/>
<polyline points="632.1,244.3 635.8,249.2 639.4,250.4"/>
<polyline points="620.0,240.7 627.3,238.3 633.9,235.8"/>
<polyline points="620.0,252.8 627.3,246.8 633.3,241.9"/>
<polyline points="673.4,249.2 675.8,252.8 674.6,257.1"/>
<polyline style="stroke-width:1.70" points="623.6,167.9 621.8,171.6 622.4,175.2"/>
<polyline style="stroke-width:1.87" points="641.2,176.4 641.8,182.5"/>
<polyline style="stroke-width:1.70" points="638.2,191.0 639.4,191.6"/>
<polyline style="stroke-width:1.87" points="634.6,192.2 630.9,194.6 627.3,197.0"/>
<polyline points="685.5,220.1 692.8,218.9 700.1,219.5 704.9,221.3 707.6,224.0"/>
<polyline points="673.4,228.8 677.0,227.6"/>
<polyline style="stroke-width:2.55" points="687.9,223.7 690.4,227.4 692.8,229.8"/>
<polyline style="stroke-width:2.55" points="695.2,224.9 698.8,226.7"/>
<rect x="696.4" y="238.9" width="2.4" height="2.4" fill="#000" stroke="none"/>
<rect x="699.5" y="239.3" width="2.4" height="2.4" fill="#000" stroke="none"/>
<rect x="701.9" y="239.0" width="2.4" height="2.4" fill="#000" stroke="none"/>
<rect x="699.5" y="246.8" width="2.4" height="2.4" fill="#000" stroke="none"/>
<rect x="690.4" y="229.8" width="2.4" height="2.4" fill="#000" stroke="none"/>
<polyline points="454.8,253.2 461.5,247.1 466.9,241.8 472.3,235.0 473.6,229.6 477.0,224.3 480.4,218.9 484.4,214.9 489.8,210.8 496.5,208.8 501.9,207.5 503.2,202.7 505.9,197.4 510.0,192.7 515.3,190.6 523.4,189.3 534.2,189.3 542.2,190.0 550.3,189.3 560.4,189.3"/>
<polyline style="stroke-width:2.55" points="455.5,252.8 461.5,247.4 466.9,242.0 471.6,235.7"/>
<polyline style="stroke-width:1.87" points="472.3,232.3 475.0,227.0"/>
<polyline style="stroke-width:1.87" points="477.7,225.6 480.4,220.2"/>
<polyline style="stroke-width:1.87" points="488.4,210.1 491.8,211.9"/>
<polyline style="stroke-width:2.04" points="512.0,192.2 514.0,191.3"/>
<polyline style="stroke-width:1.87" points="539.6,190.1 546.3,190.6 553.0,190.0"/>
<polyline points="473.6,232.3 479.0,225.6 484.4,220.2 491.1,216.2 497.9,212.8 504.6,210.1 511.3,208.1 519.4,207.5 526.1,208.1 529.5,209.5"/>
<polyline points="543.6,216.9 547.6,218.9 551.7,220.2 560.4,224.3"/>
<polyline style="stroke-width:2.04" points="544.3,220.2 545.6,222.9"/>
<polyline points="524.8,196.0 534.2,198.7 542.2,204.1 550.3,209.5 560.4,212.2"/>
<polyline points="536.9,196.0 544.9,200.1 553.0,204.1 560.4,206.8"/>
<polyline points="551.7,196.0 555.7,198.0 560.4,200.1"/>
<polyline style="stroke-width:2.04" points="483.1,165.1 486.4,163.1 490.5,164.4 491.8,169.1 489.8,173.1 485.1,173.8 482.0,170.5 483.1,165.1"/>
<polyline style="stroke-width:2.21" points="484.4,173.8 487.1,178.5 488.4,181.9"/>
<polyline style="stroke-width:2.04" points="480.4,159.7 484.4,162.4 488.4,160.4 491.8,163.1"/>
<polyline style="stroke-width:2.21" points="466.2,160.4 468.9,164.4 470.9,162.4"/>
<polyline style="stroke-width:2.04" points="496.5,158.6 499.9,162.4"/>
<polyline style="stroke-width:2.55" points="478.3,183.2 479.7,190.6 482.4,198.0"/>
<polyline style="stroke-width:2.21" points="454.8,181.2 457.5,180.5"/>
<polyline style="stroke-width:2.55" points="458.8,179.2 461.5,182.6 465.3,183.2"/>
<polyline style="stroke-width:2.04" points="455.1,191.3 456.8,196.0"/>
<polyline style="stroke-width:2.38" points="460.2,203.4 465.6,202.1 468.9,200.7 472.3,205.4"/>
<polyline style="stroke-width:1.87" points="465.6,197.4 467.6,201.4"/>
<polyline style="stroke-width:1.87" points="488.7,200.3 490.0,205.4"/>
<polyline style="stroke-width:1.70" points="476.1,200.7 475.7,203.4"/>
<rect x="455.8" y="207.8" width="2.0" height="2.0" fill="#000" stroke="none"/>
<rect x="456.2" y="211.2" width="2.0" height="2.0" fill="#000" stroke="none"/>
<rect x="455.8" y="214.5" width="2.0" height="2.0" fill="#000" stroke="none"/>
<rect x="456.5" y="217.2" width="2.0" height="2.0" fill="#000" stroke="none"/>
<rect x="524.0" y="163.4" width="2.0" height="2.0" fill="#000" stroke="none"/>
<rect x="524.4" y="167.4" width="2.0" height="2.0" fill="#000" stroke="none"/>
<rect x="524.2" y="171.5" width="2.0" height="2.0" fill="#000" stroke="none"/>
<rect x="524.8" y="175.5" width="2.0" height="2.0" fill="#000" stroke="none"/>
<rect x="525.1" y="179.5" width="2.0" height="2.0" fill="#000" stroke="none"/>
<rect x="525.8" y="183.6" width="2.0" height="2.0" fill="#000" stroke="none"/>
<rect x="527.8" y="184.9" width="2.0" height="2.0" fill="#000" stroke="none"/>
<polyline points="532.2,170.5 534.2,174.5 535.3,178.5 534.8,182.6"/>
<rect x="526.5" y="173.6" width="1.8" height="1.8" fill="#000" stroke="none"/>
<rect x="527.2" y="177.6" width="1.8" height="1.8" fill="#000" stroke="none"/>
<polygon points="443.0,219.2 445.4,217.5 448.3,218.6 449.7,221.6 448.7,223.6 445.4,223.6 443.8,221.6" fill="none" stroke="#000"/>
<polyline points="457.5,223.6 461.5,224.3 466.9,225.6 470.9,227.0 473.6,229.6"/>
<polyline style="stroke-width:1.87" points="457.5,223.6 461.5,224.5"/>
<polyline style="stroke-width:1.70" points="477.7,208.8 479.0,210.1"/>
<rect x="439.0" y="240.1" width="2.0" height="2.0" fill="#000" stroke="none"/>
<polyline points="550.0,309.2 553.6,303.8 555.4,296.6 553.6,294.8 550.9,300.2"/>
<polyline points="550.0,317.3 554.5,315.5"/>
<polyline points="575.1,310.1 582.3,308.3 589.5,305.6 596.6,302.0 602.0,298.4 609.2,295.7 616.4,293.0 621.7,290.4 620.9,284.1 618.2,276.9 614.6,271.5 609.2,267.9 603.8,266.1"/>
<polyline style="stroke-width:2.21" points="601.1,267.9 605.6,271.5 611.0,270.6 615.5,274.2"/>
<polyline style="stroke-width:1.87" points="603.8,267.0 609.2,268.8"/>
<polyline points="588.6,249.1 596.6,257.2 603.8,264.3"/>
<polyline points="618.2,258.1 620.3,260.8"/>
<polyline points="628.9,274.2 630.7,276.9 634.3,282.3 639.7,283.2 645.1,280.5 648.7,278.7 654.0,281.4 657.6,285.9 664.8,289.5 672.0,293.0 677.4,293.9 679.1,298.4 686.3,305.6 693.5,311.9 700.7,315.5 706.1,317.3 709.6,316.4"/>
<rect x="647.8" y="277.8" width="1.8" height="1.8" fill="#000" stroke="none"/>
<rect x="676.5" y="293.0" width="1.8" height="1.8" fill="#000" stroke="none"/>
<polyline points="550.0,331.6 557.2,329.8 564.3,326.2 571.5,322.6 578.7,319.1 585.9,316.4 593.0,312.8 600.2,309.2 607.4,305.6 614.6,302.9 621.7,300.2 628.9,299.3 636.1,297.5 641.5,294.8 646.0,293.0 647.8,295.7"/>
<polyline points="670.2,308.3 677.4,311.9 680.9,318.2 686.3,323.5 689.9,328.9 693.5,329.8 698.9,328.0 704.3,326.2 709.6,323.2"/>
<rect x="585.0" y="315.8" width="1.8" height="1.8" fill="#000" stroke="none"/>
<rect x="595.7" y="311.0" width="1.8" height="1.8" fill="#000" stroke="none"/>
<rect x="622.6" y="299.7" width="1.8" height="1.8" fill="#000" stroke="none"/>
<rect x="633.4" y="297.5" width="1.8" height="1.8" fill="#000" stroke="none"/>
<rect x="637.0" y="300.2" width="1.8" height="1.8" fill="#000" stroke="none"/>
<rect x="621.7" y="306.5" width="1.8" height="1.8" fill="#000" stroke="none"/>
<rect x="637.0" y="304.7" width="1.8" height="1.8" fill="#000" stroke="none"/>
<polyline style="stroke-width:1.70" points="625.3,301.1 634.3,299.3"/>
<polyline style="stroke-width:1.70" points="575.1,284.1 582.3,283.2 589.5,285.0 598.4,284.1 605.6,285.9"/>
<polyline style="stroke-width:1.53" points="585.9,287.7 596.6,286.8"/>
<polyline points="560.8,293.0 567.9,292.2 573.3,293.4"/>
<polyline points="576.9,293.9 585.9,293.0 594.8,293.9 598.4,298.4 601.1,300.2"/>
<polyline style="stroke-width:1.70" points="594.8,293.0 600.2,299.3"/>
<polyline style="stroke-width:1.70" points="637.9,289.1 643.3,289.1"/>
<rect x="654.8" y="262.5" width="2.0" height="2.0" fill="#000" stroke="none"/>
<rect x="691.6" y="336.9" width="2.0" height="2.0" fill="#000" stroke="none"/>
<rect x="672.8" y="257.1" width="2.0" height="2.0" fill="#000" stroke="none"/>
<polyline style="stroke-width:1.87" points="575.1,377.7 577.8,378.4"/>
<rect x="582.2" y="377.8" width="2.0" height="2.0" fill="#000" stroke="none"/>
<polyline points="618.2,249.1 625.3,251.8 632.5,250.9 639.7,252.7 646.9,251.8 648.7,257.2 650.4,251.8 657.6,250.0 664.8,252.7 673.8,250.9"/>
<polyline style="stroke-width:1.70" points="647.8,252.7 649.0,258.1"/>
<polyline style="stroke-width:1.70" points="663.0,251.8 666.6,253.6"/>
<polyline points="457.2,362.2 462.6,360.4 467.9,362.2 473.3,363.0 478.7,362.2 483.2,360.4"/>
<polyline points="502.9,355.9 507.4,352.3 511.9,347.8 514.6,343.3 518.2,338.8 520.9,334.3 520.0,329.9 516.4,327.2 511.0,325.4 503.8,327.2 498.4,329.9 493.0,332.6 489.5,333.5"/>
<polyline points="520.9,334.3 523.5,329.0 528.9,326.3 534.3,323.6 537.0,319.1"/>
<rect x="463.4" y="358.9" width="1.8" height="1.8" fill="#000" stroke="none"/>
<rect x="476.0" y="360.0" width="1.8" height="1.8" fill="#000" stroke="none"/>
<rect x="513.7" y="341.5" width="1.8" height="1.8" fill="#000" stroke="none"/>
<polyline points="456.3,381.0 462.6,383.7 467.9,381.0 475.1,377.4 482.3,373.8 489.5,370.2 494.8,367.5 500.2,364.8 507.4,362.2 512.8,355.9 518.2,349.6 523.5,346.0 528.9,342.4 531.6,341.2"/>
<polyline points="555.8,331.7 564.8,328.1 572.0,324.5 579.1,319.1"/>
<rect x="497.5" y="365.4" width="1.8" height="1.8" fill="#000" stroke="none"/>
<rect x="506.5" y="362.1" width="1.8" height="1.8" fill="#000" stroke="none"/>
<rect x="520.8" y="346.0" width="1.8" height="1.8" fill="#000" stroke="none"/>
<polyline style="stroke-width:1.70" points="457.2,380.1 459.0,384.6"/>
<polygon points="539.7,380.6 542.4,379.2 544.2,380.1 541.8,381.9" fill="none" stroke="#000"/>
<polygon points="549.6,384.2 551.9,383.7 553.1,385.5 550.8,386.7" fill="none" stroke="#000"/>
<polygon points="557.6,389.1 561.2,388.2 563.9,391.7 562.1,393.5 559.4,391.7" fill="none" stroke="#000"/>
<polygon points="574.7,377.0 577.4,376.5 578.3,378.8 575.6,379.2" fill="none" stroke="#000"/>
<polyline style="stroke-width:1.70" points="581.8,378.5 584.5,379.9"/>
<polygon points="575.6,390.9 578.3,390.0 579.1,392.1 576.6,392.8" fill="none" stroke="#000"/>
<polyline style="stroke-width:1.87" points="581.8,388.2 584.2,390.3"/>
<polygon points="589.9,399.3 592.2,398.9 592.8,401.1 590.4,401.6" fill="none" stroke="#000"/>
<polyline points="588.1,403.4 586.0,405.2 585.4,407.9"/>
<polygon points="523.5,371.7 525.7,371.1 526.4,373.1 524.3,373.8" fill="none" stroke="#000"/>
<rect x="502.8" y="371.0" width="2.0" height="2.0" fill="#000" stroke="none"/>
<rect x="517.2" y="367.1" width="2.0" height="2.0" fill="#000" stroke="none"/>
<rect x="513.6" y="362.9" width="2.0" height="2.0" fill="#000" stroke="none"/>
<rect x="601.5" y="405.1" width="2.0" height="2.0" fill="#000" stroke="none"/>
<rect x="606.5" y="409.6" width="2.0" height="2.0" fill="#000" stroke="none"/>
<rect x="603.3" y="428.1" width="2.0" height="2.0" fill="#000" stroke="none"/>
<polyline style="stroke-width:1.70" points="597.1,414.2 598.9,417.8"/>
<polyline style="stroke-width:1.70" points="554.9,450.6 557.3,451.8"/>
<polygon points="526.4,480.6 530.3,472.8 534.2,469.0 537.2,470.3 536.7,475.4 532.9,479.3 527.7,481.1" fill="none" stroke="#000"/>
<polygon points="529.0,478.0 532.9,472.8 535.4,472.3 534.7,475.9 531.1,478.5" fill="none" stroke="#000"/>
<polyline style="stroke-width:1.36" points="525.9,481.1 530.3,476.7"/>
<polygon points="555.3,451.7 557.4,453.5 560.5,457.4 562.0,459.9 559.4,459.4 556.8,455.3" fill="none" stroke="#000"/>
<rect x="568.1" y="458.5" width="1.8" height="1.8" fill="#000" stroke="none"/>
<rect x="583.5" y="454.7" width="1.8" height="1.8" fill="#000" stroke="none"/>
<rect x="522.4" y="462.1" width="1.8" height="1.8" fill="#000" stroke="none"/>
<polygon points="585.2,404.5 587.0,401.9 589.6,400.1 591.4,401.1 588.3,403.7 586.8,407.1" fill="none" stroke="#000"/>
<rect x="596.4" y="415.2" width="1.8" height="1.8" fill="#000" stroke="none"/>
<rect x="601.6" y="404.9" width="1.8" height="1.8" fill="#000" stroke="none"/>
<rect x="606.0" y="410.0" width="1.8" height="1.8" fill="#000" stroke="none"/>
<rect x="604.2" y="428.1" width="1.8" height="1.8" fill="#000" stroke="none"/>
<rect x="647.2" y="466.8" width="1.8" height="1.8" fill="#000" stroke="none"/>
<rect x="656.3" y="468.1" width="1.8" height="1.8" fill="#000" stroke="none"/>
<rect x="699.6" y="448.2" width="1.8" height="1.8" fill="#000" stroke="none"/>
<rect x="690.5" y="415.2" width="1.8" height="1.8" fill="#000" stroke="none"/>
<rect x="700.9" y="443.6" width="1.8" height="1.8" fill="#000" stroke="none"/>
<polygon points="610.5,433.6 612.5,433.1 613.1,435.2 611.0,435.7" fill="none" stroke="#000"/>
<polyline style="stroke-width:1.36" points="623.1,439.8 626.5,444.0"/>
<polyline style="stroke-width:1.36" points="623.1,458.9 625.7,458.4"/>
<polyline style="stroke-width:1.36" points="601.7,479.5 603.8,480.6"/>
<polygon points="681.7,426.9 686.3,425.9 692.7,428.5 693.5,431.6 688.9,432.6 682.4,430.3" fill="none" stroke="#000"/>
<polyline points="679.1,422.5 679.8,419.2 683.2,418.2"/>
<polygon points="697.1,423.8 698.7,423.3 699.2,425.4 697.6,425.9" fill="none" stroke="#000"/>
<polygon points="685.8,446.0 687.8,445.5 688.4,447.6 686.3,448.1" fill="none" stroke="#000"/>
<polyline points="696.6,439.3 706.9,438.8"/>
<polyline points="696.6,441.4 706.9,441.9"/>
<polyline style="stroke-width:2.04" points="117.3,161.0 121.4,163.7 119.4,167.1 122.7,166.4 125.4,163.7 128.1,165.1 126.8,169.1 129.5,171.8 132.1,169.1 134.8,163.7 136.9,161.7"/>
<polyline style="stroke-width:1.87" points="116.7,169.1 118.7,173.1 120.7,170.5"/>
<polyline style="stroke-width:1.70" points="124.1,159.7 126.1,162.4 128.8,161.0"/>
<polyline style="stroke-width:1.70" points="139.5,158.3 142.9,159.7 144.9,157.7"/>
<polyline style="stroke-width:1.87" points="128.8,171.8 130.8,175.2"/>
<polygon points="129.5,175.8 131.5,179.9 132.8,185.3 134.2,190.0 137.5,190.6 140.2,188.6 138.9,185.3 136.2,181.2 133.5,177.9 130.8,175.2" fill="none" stroke="#000"/>
<polygon points="152.3,161.0 154.3,165.1 156.4,169.1 159.1,171.8 159.1,177.2 158.4,182.6 156.4,186.6 153.7,187.9 151.7,183.9 152.3,178.5 153.0,173.1 151.7,169.1 149.6,165.1 149.0,161.0" fill="none" stroke="#000"/>
<polyline style="stroke-width:2.04" points="148.3,161.0 151.7,167.8 154.3,165.7 156.4,169.8 159.1,172.5"/>
<polyline style="stroke-width:1.70" points="147.6,166.4 149.6,164.4"/>
<rect x="143.0" y="188.0" width="2.6" height="2.6" fill="#000" stroke="none"/>
<rect x="163.8" y="187.7" width="2.6" height="2.6" fill="#000" stroke="none"/>
<rect x="165.8" y="163.8" width="2.6" height="2.6" fill="#000" stroke="none"/>
<rect x="167.8" y="157.7" width="2.6" height="2.6" fill="#000" stroke="none"/>
<rect x="210.2" y="157.0" width="2.6" height="2.6" fill="#000" stroke="none"/>
<polyline style="stroke-width:2.55" points="173.2,202.7 176.5,201.4 179.9,197.4 180.6,203.4 183.3,205.4 186.0,208.1 189.3,208.8"/>
<polyline style="stroke-width:2.21" points="175.2,206.8 177.9,210.8 181.9,212.2 183.9,208.8"/>
<polyline style="stroke-width:2.04" points="172.5,210.8 173.9,214.9 177.9,215.5"/>
<polyline style="stroke-width:1.87" points="179.2,196.0 180.6,198.7"/>
<polyline style="stroke-width:1.70" points="165.8,208.8 167.8,209.2"/>
<polyline style="stroke-width:2.38" points="193.0,216.2 196.7,218.2 200.1,220.2 203.4,222.9 207.5,225.6 211.5,228.3 216.2,230.7"/>
<polyline style="stroke-width:1.87" points="196.7,214.9 199.4,218.9"/>
<polyline style="stroke-width:1.87" points="202.1,218.9 203.4,223.6"/>
<polyline points="212.9,227.6 216.9,229.0 215.6,231.7 213.1,231.0"/>
<polygon points="173.2,230.3 175.2,228.3 179.9,228.0 180.6,232.3 176.5,233.4 173.2,233.0" fill="none" stroke="#000"/>
<polyline style="stroke-width:2.04" points="173.9,230.7 179.2,230.3"/>
<rect x="162.6" y="222.4" width="2.4" height="2.4" fill="#000" stroke="none"/>
<rect x="192.8" y="232.5" width="2.4" height="2.4" fill="#000" stroke="none"/>
<polyline style="stroke-width:1.87" points="176.5,237.7 179.2,240.4 178.6,244.4"/>
<polyline style="stroke-width:2.04" points="183.3,237.0 186.0,240.4 184.6,244.4"/>
<polyline style="stroke-width:1.70" points="188.6,239.1 191.3,241.8"/>
<polyline style="stroke-width:1.87" points="179.2,247.1 183.3,249.8"/>
<polyline style="stroke-width:1.70" points="167.8,244.4 169.8,248.5"/>
<polyline style="stroke-width:1.70" points="173.9,249.8 176.5,248.5"/>
<polyline style="stroke-width:1.70" points="186.0,249.8 189.3,248.5"/>
<polyline style="stroke-width:1.70" points="163.1,253.2 166.5,255.9"/>
<polyline style="stroke-width:1.70" points="183.3,253.9 187.3,255.9"/>
<polyline style="stroke-width:1.70" points="194.0,253.2 194.7,256.6"/>
<rect x="168.7" y="241.3" width="2.2" height="2.2" fill="#000" stroke="none"/>
<rect x="191.6" y="243.3" width="2.2" height="2.2" fill="#000" stroke="none"/>
<rect x="174.1" y="244.7" width="2.2" height="2.2" fill="#000" stroke="none"/>
<rect x="195.6" y="248.7" width="2.2" height="2.2" fill="#000" stroke="none"/>
<rect x="190.2" y="250.1" width="2.2" height="2.2" fill="#000" stroke="none"/>
<rect x="206.4" y="242.0" width="2.2" height="2.2" fill="#000" stroke="none"/>
<polyline style="stroke-width:2.21" points="186.6,175.8 191.3,174.5 195.4,171.8 196.7,168.4 193.4,166.4"/>
<polyline style="stroke-width:1.87" points="191.3,177.2 194.7,181.2"/>
<polyline style="stroke-width:2.04" points="187.3,170.5 191.3,171.1"/>
<polyline style="stroke-width:2.38" points="195.4,185.9 200.8,188.6 206.1,190.0 211.5,187.3 215.6,181.9"/>
<polyline style="stroke-width:2.04" points="199.4,183.9 203.4,186.6"/>
<polyline style="stroke-width:1.87" points="208.8,190.6 212.9,188.6"/>
<polyline style="stroke-width:2.21" points="194.0,198.7 199.4,201.4 204.8,203.4"/>
<polyline style="stroke-width:1.87" points="202.1,197.4 204.8,200.1"/>
<polyline style="stroke-width:2.21" points="211.5,163.1 212.9,166.4 211.8,170.5"/>
<polyline style="stroke-width:1.87" points="214.2,162.4 216.2,163.7"/>
<polygon points="215.8,173.8 220.3,177.2 223.6,179.2 225.6,176.5 229.7,175.2 228.3,173.1 223.6,175.2 219.6,174.5" fill="none" stroke="#000"/>
<polyline style="stroke-width:2.04" points="220.3,177.2 224.3,179.6"/>
<polygon points="221.2,195.3 223.6,193.6 227.0,193.1 227.4,194.9 224.3,197.4 222.0,197.4" fill="none" stroke="#000"/>
<polyline style="stroke-width:1.70" points="228.3,185.3 230.1,187.3"/>
<polyline style="stroke-width:2.38" points="223.6,214.2 230.4,216.9"/>
<polyline style="stroke-width:1.87" points="210.2,210.8 212.9,213.5"/>
<polyline style="stroke-width:1.87" points="215.6,214.9 218.9,216.2"/>
<polyline style="stroke-width:2.04" points="221.6,227.0 227.0,227.6"/>
<polyline style="stroke-width:1.87" points="173.9,189.3 179.2,188.6"/>
<polyline style="stroke-width:1.87" points="183.3,190.0 187.3,189.3"/>
<polyline style="stroke-width:1.70" points="191.3,167.8 194.0,167.1"/>
<polyline points="208.8,249.8 215.6,244.4 222.3,239.1 229.0,235.0 236.4,232.3"/>
<polyline style="stroke-width:1.87" points="205.5,249.8 210.2,249.2"/>
<polyline points="208.8,249.8 212.9,253.2 218.2,252.8"/>
<rect x="125.1" y="224.6" width="2.0" height="2.0" fill="#000" stroke="none"/>
<rect x="126.8" y="227.0" width="2.0" height="2.0" fill="#000" stroke="none"/>
<rect x="128.5" y="229.3" width="2.0" height="2.0" fill="#000" stroke="none"/>
<rect x="130.9" y="230.0" width="2.0" height="2.0" fill="#000" stroke="none"/>
<rect x="133.6" y="231.3" width="2.0" height="2.0" fill="#000" stroke="none"/>
<rect x="126.0" y="228.6" width="2.0" height="2.0" fill="#000" stroke="none"/>
<rect x="117.5" y="252.0" width="2.4" height="2.4" fill="#000" stroke="none"/>
<rect x="116.1" y="245.9" width="2.4" height="2.4" fill="#000" stroke="none"/>
<rect x="115.5" y="167.2" width="2.4" height="2.4" fill="#000" stroke="none"/>
<polyline points="341.2,157.8 345.4,163.7 347.9,168.8 345.4,172.1 342.0,174.7"/>
<polyline points="347.9,168.8 353.8,173.0 358.0,177.2 360.5,180.5"/>
<polyline points="357.2,167.1 360.5,162.9 364.7,160.4 366.4,157.8"/>
<polyline points="360.5,162.9 363.1,167.1 364.7,172.1 368.9,174.7"/>
<polyline style="stroke-width:2.04" points="357.2,158.3 367.3,159.0"/>
<polyline style="stroke-width:1.70" points="345.4,169.6 350.4,171.3"/>
<rect x="330.0" y="164.3" width="2.2" height="2.2" fill="#000" stroke="none"/>
<rect x="306.5" y="176.9" width="2.2" height="2.2" fill="#000" stroke="none"/>
<rect x="372.9" y="194.6" width="2.2" height="2.2" fill="#000" stroke="none"/>
<rect x="420.0" y="209.7" width="2.2" height="2.2" fill="#000" stroke="none"/>
<rect x="393.9" y="232.4" width="2.2" height="2.2" fill="#000" stroke="none"/>
<rect x="399.0" y="236.3" width="2.2" height="2.2" fill="#000" stroke="none"/>
<rect x="437.6" y="240.8" width="2.2" height="2.2" fill="#000" stroke="none"/>
<rect x="410.7" y="156.7" width="2.2" height="2.2" fill="#000" stroke="none"/>
<rect x="395.6" y="176.9" width="2.2" height="2.2" fill="#000" stroke="none"/>
<polyline style="stroke-width:1.70" points="316.8,173.3 321.0,173.8"/>
<polyline style="stroke-width:1.87" points="349.1,186.4 350.4,191.5"/>
<polyline style="stroke-width:1.70" points="343.7,204.1 346.2,206.6"/>
<polyline style="stroke-width:1.87" points="300.0,215.0 302.5,212.5"/>
<polyline style="stroke-width:2.21" points="305.9,225.6 311.8,222.6"/>
<polyline style="stroke-width:1.87" points="340.4,219.2 341.2,224.3"/>
<polyline style="stroke-width:2.04" points="350.4,215.0 354.6,218.4 358.9,219.2 361.4,221.7"/>
<polyline style="stroke-width:2.04" points="369.8,225.1 374.8,225.9 376.5,228.5"/>
<polygon points="366.4,236.4 368.9,236.0 369.3,238.4 366.8,238.6" fill="none" stroke="#000"/>
<polyline style="stroke-width:1.70" points="323.5,241.9 326.6,245.3"/>
<polyline style="stroke-width:1.87" points="333.6,243.6 335.3,250.3"/>
<polyline style="stroke-width:1.87" points="342.0,253.2 346.2,251.2"/>
<polyline style="stroke-width:1.87" points="350.4,246.1 352.1,251.2"/>
<polyline style="stroke-width:2.21" points="357.2,238.6 358.9,246.1 363.1,248.6 366.9,250.8"/>
<polyline style="stroke-width:2.21" points="379.0,237.7 383.2,236.0 387.4,240.2"/>
<polyline style="stroke-width:2.38" points="389.1,238.6 392.5,242.8 395.8,246.1"/>
<polyline style="stroke-width:2.04" points="399.2,252.5 405.1,248.6"/>
<polyline style="stroke-width:2.21" points="417.7,243.6 421.1,239.4 424.4,238.0"/>
<polyline style="stroke-width:2.04" points="424.4,251.2 427.8,253.2"/>
<polyline style="stroke-width:1.87" points="386.1,215.9 387.8,221.7"/>
<polyline style="stroke-width:1.87" points="397.5,220.6 404.3,221.2"/>
<polyline style="stroke-width:3.74" points="406.8,221.7 412.7,220.1 417.7,220.9 421.1,224.3"/>
<polyline style="stroke-width:2.55" points="409.3,217.5 416.0,217.5"/>
<polygon points="442.9,219.6 445.5,217.5 449.7,217.9 450.5,221.7 446.3,223.4 443.3,222.2" fill="none" stroke="#000"/>
<polyline style="stroke-width:2.04" points="405.1,207.1 411.0,205.8 416.0,207.4"/>
<polyline style="stroke-width:1.87" points="391.6,201.6 395.8,206.1"/>
<polyline style="stroke-width:2.38" points="377.3,198.2 384.1,197.0 392.5,196.5"/>
<polyline style="stroke-width:2.04" points="381.6,188.9 382.4,196.5"/>
<polyline style="stroke-width:2.04" points="388.3,193.2 391.6,187.3"/>
<polyline style="stroke-width:1.70" points="403.4,195.7 405.9,196.0"/>
<polyline style="stroke-width:1.70" points="411.0,194.8 411.3,198.2"/>
<polyline style="stroke-width:2.55" points="381.6,178.5 387.4,177.2 391.6,178.5"/>
<polyline style="stroke-width:1.87" points="386.6,169.6 392.5,169.6"/>
<polyline style="stroke-width:1.87" points="404.3,173.8 407.6,173.5"/>
<polyline style="stroke-width:2.21" points="407.6,169.1 412.7,167.9 417.7,169.6"/>
<polyline style="stroke-width:2.04" points="421.1,164.6 425.3,162.9 429.5,163.7"/>
<polyline style="stroke-width:1.87" points="424.8,165.4 424.1,170.5"/>
<polyline style="stroke-width:2.04" points="414.3,182.2 417.7,177.2"/>
<polyline style="stroke-width:2.21" points="407.6,185.6 411.8,187.3 410.1,191.5"/>
<polyline style="stroke-width:1.70" points="405.1,162.9 408.5,162.9"/>
<polygon points="425.3,178.9 427.8,173.8 432.0,170.5 437.0,169.6 439.6,171.3 436.2,173.8 432.0,177.2 427.8,180.5" fill="none" stroke="#000"/>
<polyline style="stroke-width:2.04" points="427.8,178.0 432.8,173.5 437.9,170.8"/>
<polyline style="stroke-width:2.04" points="425.3,178.9 424.4,183.9 423.6,188.9 421.1,194.0 419.4,199.0 416.0,201.6"/>
<rect x="119.0" y="253.8" width="2.4" height="2.4" fill="#000" stroke="none"/>
<rect x="145.1" y="269.8" width="2.4" height="2.4" fill="#000" stroke="none"/>
<rect x="145.9" y="274.9" width="2.4" height="2.4" fill="#000" stroke="none"/>
<rect x="174.5" y="311.9" width="2.4" height="2.4" fill="#000" stroke="none"/>
<rect x="171.1" y="307.7" width="2.4" height="2.4" fill="#000" stroke="none"/>
<rect x="170.3" y="302.3" width="2.4" height="2.4" fill="#000" stroke="none"/>
<rect x="178.7" y="277.4" width="2.4" height="2.4" fill="#000" stroke="none"/>
<rect x="181.2" y="262.3" width="2.4" height="2.4" fill="#000" stroke="none"/>
<rect x="193.8" y="255.5" width="2.4" height="2.4" fill="#000" stroke="none"/>
<rect x="183.7" y="256.4" width="2.4" height="2.4" fill="#000" stroke="none"/>
<rect x="219.9" y="276.5" width="2.4" height="2.4" fill="#000" stroke="none"/>
<rect x="234.2" y="279.9" width="2.4" height="2.4" fill="#000" stroke="none"/>
<rect x="233.3" y="263.9" width="2.4" height="2.4" fill="#000" stroke="none"/>
<rect x="238.4" y="261.4" width="2.4" height="2.4" fill="#000" stroke="none"/>
<rect x="243.4" y="265.6" width="2.4" height="2.4" fill="#000" stroke="none"/>
<rect x="254.4" y="264.8" width="2.4" height="2.4" fill="#000" stroke="none"/>
<rect x="191.3" y="301.8" width="2.4" height="2.4" fill="#000" stroke="none"/>
<rect x="187.1" y="300.1" width="2.4" height="2.4" fill="#000" stroke="none"/>
<rect x="181.2" y="292.5" width="2.4" height="2.4" fill="#000" stroke="none"/>
<rect x="188.8" y="294.2" width="2.4" height="2.4" fill="#000" stroke="none"/>
<rect x="182.9" y="286.6" width="2.4" height="2.4" fill="#000" stroke="none"/>
<rect x="205.6" y="265.6" width="2.4" height="2.4" fill="#000" stroke="none"/>
<rect x="211.5" y="269.0" width="2.4" height="2.4" fill="#000" stroke="none"/>
<rect x="215.7" y="263.1" width="2.4" height="2.4" fill="#000" stroke="none"/>
<rect x="219.9" y="264.8" width="2.4" height="2.4" fill="#000" stroke="none"/>
<polyline style="stroke-width:1.87" points="164.8,255.0 168.1,259.2 166.4,261.8"/>
<polyline style="stroke-width:1.70" points="182.4,254.2 184.9,257.6"/>
<polyline style="stroke-width:1.87" points="188.3,260.1 191.7,262.6 194.2,260.1"/>
<polyline style="stroke-width:1.70" points="169.0,266.0 170.6,271.9"/>
<polyline style="stroke-width:1.70" points="172.3,266.0 176.5,268.5"/>
<polyline style="stroke-width:1.70" points="153.8,271.0 156.4,267.7"/>
<polyline style="stroke-width:1.70" points="147.9,287.8 149.6,291.2 146.3,294.1"/>
<polyline style="stroke-width:1.87" points="203.4,289.5 209.3,292.0"/>
<polyline style="stroke-width:2.04" points="218.6,300.4 220.3,307.2 221.1,313.9"/>
<polyline style="stroke-width:2.21" points="233.7,295.4 234.5,300.4"/>
<polyline style="stroke-width:2.04" points="247.2,297.1 252.2,298.8 253.9,295.4"/>
<polyline style="stroke-width:1.70" points="240.4,313.9 247.2,318.1"/>
<rect x="249.6" y="320.6" width="1.8" height="1.8" fill="#000" stroke="none"/>
<rect x="254.7" y="323.1" width="1.8" height="1.8" fill="#000" stroke="none"/>
<rect x="175.6" y="328.1" width="1.8" height="1.8" fill="#000" stroke="none"/>
<rect x="175.6" y="336.5" width="1.8" height="1.8" fill="#000" stroke="none"/>
<rect x="174.8" y="344.9" width="1.8" height="1.8" fill="#000" stroke="none"/>
<rect x="233.6" y="328.1" width="1.8" height="1.8" fill="#000" stroke="none"/>
<rect x="233.6" y="336.5" width="1.8" height="1.8" fill="#000" stroke="none"/>
<polyline style="stroke-width:1.87" points="122.7,299.6 123.6,305.5 127.8,310.5 132.8,314.2"/>
<polyline style="stroke-width:1.70" points="189.1,281.1 191.7,284.5 196.7,281.9 200.1,279.4"/>
<polyline style="stroke-width:1.87" points="235.4,266.8 238.8,269.3 237.1,271.0"/>
<polyline style="stroke-width:1.70" points="211.8,271.0 214.4,271.9"/>
<polyline style="stroke-width:1.70" points="196.7,271.0 200.1,271.5"/>
<polyline style="stroke-width:1.70" points="206.0,267.7 206.8,275.2"/>
<polyline style="stroke-width:1.70" points="256.1,408.2 257.6,416.7 258.3,423.1"/>
<polyline style="stroke-width:1.53" points="254.9,409.2 259.1,410.3"/>
<polyline style="stroke-width:1.53" points="288.1,414.5 291.1,414.5"/>
<polyline style="stroke-width:1.53" points="192.7,442.9 196.5,442.9"/>
<polyline points="151.8,451.8 155.4,450.8 156.9,452.9 154.3,454.6"/>
<polyline points="261.9,439.7 266.2,440.5 269.8,443.3"/>
<polyline style="stroke-width:1.53" points="277.9,458.2 278.9,459.3"/>
<polyline style="stroke-width:1.53" points="276.2,465.7 276.2,468.2"/>
<polyline points="187.4,480.6 189.5,484.8 189.5,489.1 192.3,490.8"/>
<polyline style="stroke-width:1.53" points="291.7,480.6 292.4,484.8"/>
<rect x="133.8" y="495.6" width="1.8" height="1.8" fill="#000" stroke="none"/>
<rect x="294.0" y="495.6" width="1.8" height="1.8" fill="#000" stroke="none"/>
<rect x="302.5" y="446.7" width="1.8" height="1.8" fill="#000" stroke="none"/>
<rect x="137.5" y="351.9" width="1.8" height="1.8" fill="#000" stroke="none"/>
<polyline style="stroke-width:2.21" points="247.3,192.3 250.7,189.8 254.9,190.6 257.4,194.8 256.6,200.7 255.8,205.8 251.6,207.4 247.3,204.9 245.7,199.9 246.5,194.8 247.3,192.3"/>
<polyline style="stroke-width:1.70" points="249.0,196.5 252.4,194.8 254.1,199.0 250.7,202.4"/>
<polyline style="stroke-width:1.70" points="249.0,200.7 249.9,204.9"/>
<polyline style="stroke-width:1.87" points="257.4,164.6 262.5,168.4"/>
<polyline style="stroke-width:1.87" points="241.5,179.7 246.5,180.5"/>
<polyline style="stroke-width:2.04" points="250.7,178.5 258.3,183.6"/>
<polyline style="stroke-width:1.87" points="252.4,183.6 256.6,178.5"/>
<polyline style="stroke-width:1.70" points="234.7,183.1 238.9,182.6"/>
<polyline style="stroke-width:1.70" points="244.0,185.2 246.0,188.6"/>
<polyline style="stroke-width:1.70" points="228.5,188.1 230.2,184.7"/>
<polyline style="stroke-width:1.70" points="231.4,191.3 234.7,191.3"/>
<polyline style="stroke-width:2.21" points="263.3,186.4 267.5,184.7 272.6,187.6"/>
<polyline style="stroke-width:1.70" points="266.7,178.9 270.9,179.2"/>
<polyline style="stroke-width:1.87" points="261.6,196.0 265.8,193.7"/>
<rect x="273.6" y="188.3" width="2.0" height="2.0" fill="#000" stroke="none"/>
<rect x="275.3" y="191.0" width="2.0" height="2.0" fill="#000" stroke="none"/>
<rect x="276.6" y="193.8" width="2.0" height="2.0" fill="#000" stroke="none"/>
<rect x="279.1" y="195.5" width="2.0" height="2.0" fill="#000" stroke="none"/>
<rect x="285.0" y="166.1" width="2.0" height="2.0" fill="#000" stroke="none"/>
<rect x="290.9" y="163.6" width="2.0" height="2.0" fill="#000" stroke="none"/>
<rect x="316.1" y="172.0" width="2.0" height="2.0" fill="#000" stroke="none"/>
<polyline style="stroke-width:1.87" points="269.5,207.1 275.1,199.9"/>
<polyline style="stroke-width:1.70" points="307.0,178.5 309.2,178.9"/>
<polyline style="stroke-width:1.70" points="292.8,204.9 297.8,205.1"/>
<polyline style="stroke-width:1.87" points="285.4,215.0 285.7,218.4"/>
<polyline style="stroke-width:2.04" points="299.8,216.2 302.0,213.3"/>
<polyline style="stroke-width:2.04" points="305.4,225.6 311.2,222.9"/>
<polyline points="507.4,230.9 513.5,229.5 518.8,231.5 522.2,236.9 526.9,234.2 532.3,233.5 535.2,231.5 533.6,236.2 530.9,240.9 526.2,247.0 530.3,247.7 531.6,251.7 533.0,255.7 534.3,259.8 537.7,263.1 541.7,264.5 545.7,266.5 551.1,268.5 557.9,269.2 563.2,269.9 565.9,267.9 566.6,271.9 570.0,272.6"/>
<polyline style="stroke-width:2.04" points="532.3,233.9 535.2,231.5 533.6,236.6"/>
<polyline style="stroke-width:2.04" points="526.2,247.0 530.7,247.9"/>
<polyline style="stroke-width:2.04" points="531.6,251.7 533.6,258.4 537.7,263.1"/>
<polyline style="stroke-width:1.87" points="533.6,267.9 537.0,269.2"/>
<polygon points="540.4,247.7 538.3,251.7 540.4,255.1 543.1,257.8 547.1,260.5 551.1,262.5 555.2,263.8 559.2,263.1 559.9,259.8 564.6,257.8 560.5,257.1 555.2,257.8 549.8,257.1 545.1,255.7 542.4,252.4 541.0,249.0" fill="none" stroke="#000"/>
<polyline style="stroke-width:2.04" points="540.4,255.1 544.4,258.7 549.8,261.8"/>
<polyline style="stroke-width:1.87" points="551.8,260.5 555.2,263.5 559.2,262.7"/>
<polygon points="571.3,263.8 573.3,259.8 576.0,255.7 579.4,250.4 582.7,248.3 585.4,250.4 584.8,255.7 582.1,261.1 586.1,261.8 590.1,263.1 592.2,265.2 588.8,267.9 583.4,270.5 579.4,273.2 575.3,274.6 572.6,272.6 571.3,267.9" fill="none" stroke="#000"/>
<polyline points="576.0,269.2 580.7,265.2 586.1,263.1"/>
<polyline points="577.4,263.8 580.7,258.4 583.4,253.1"/>
<polyline style="stroke-width:2.38" points="572.6,276.6 578.0,277.3"/>
<polyline style="stroke-width:1.87" points="575.3,269.2 577.4,273.2"/>
<polyline points="572.6,277.3 567.3,280.0 561.9,282.6 556.5,285.3 552.5,287.4 547.1,289.4 543.1,288.0 540.4,285.3 538.3,280.0 536.3,277.3"/>
<polyline style="stroke-width:2.04" points="535.2,276.5 549.1,276.2"/>
<polyline style="stroke-width:1.87" points="537.7,279.3 540.4,285.3"/>
<polyline points="532.3,273.2 526.9,275.9 521.5,278.6 516.1,281.3 510.8,285.3 506.7,289.4"/>
<polyline style="stroke-width:1.70" points="514.8,292.1 520.2,288.0"/>
<polyline points="570.0,272.6 575.3,274.6"/>
<polyline points="547.1,289.4 544.4,293.4 540.4,296.1"/>
<polyline points="600.9,259.8 606.3,265.2 611.7,269.9 617.0,273.2 620.4,274.6"/>
<polyline style="stroke-width:2.38" points="600.2,268.5 604.3,269.9 607.6,272.6 611.7,273.9 615.0,275.9"/>
<polyline style="stroke-width:1.87" points="603.6,266.5 607.6,267.9"/>
<polyline points="591.5,212.7 592.8,220.8 594.2,228.8 596.9,234.2 602.2,238.3 607.6,240.3"/>
<polyline style="stroke-width:2.04" points="576.0,284.0 582.1,283.3 588.8,284.3 595.5,283.7 602.2,284.7 607.6,284.0"/>
<polyline style="stroke-width:1.53" points="584.8,287.4 594.2,287.0 600.9,287.4"/>
<polyline points="559.2,292.3 565.9,291.4 572.6,292.7"/>
<polyline points="578.0,293.4 586.1,293.1 592.8,293.7"/>
<polyline points="594.2,293.7 598.9,296.1 601.6,299.9"/>
<polyline style="stroke-width:1.87" points="596.2,294.8 599.6,297.4"/>
<polyline style="stroke-width:2.04" points="564.6,243.6 568.6,240.3 572.6,234.9"/>
<polyline style="stroke-width:1.87" points="516.1,267.2 518.8,264.5"/>
<polyline style="stroke-width:2.55" points="502.7,280.0 506.1,283.3 508.1,286.7"/>
<polyline style="stroke-width:2.21" points="508.1,218.1 512.8,215.4"/>
<polyline points="471.1,314.3 472.0,318.3 471.6,321.9 471.1,325.5 472.9,328.2 475.6,330.4 478.3,332.2 480.1,334.5 480.6,331.8 478.3,330.0 476.5,328.6 479.2,327.7 482.8,326.4 485.5,324.6 484.6,321.9 481.9,321.0 479.2,320.1 476.5,318.3 473.8,316.1 471.1,314.3"/>
<polyline style="stroke-width:1.36" points="476.5,329.1 479.7,328.4"/>
<polyline style="stroke-width:1.36" points="478.8,331.8 480.3,334.3"/>
<polyline points="491.8,311.1 493.6,306.7 495.4,304.0 498.0,301.7 501.6,300.4 502.1,304.0 502.5,307.6 505.2,305.8 507.0,307.6 506.1,310.2 503.9,311.1 501.6,312.0 499.8,310.2 498.9,312.9 501.6,314.3 504.3,315.6 506.1,317.4 507.9,319.2 508.8,316.5 509.7,314.7"/>
<polyline style="stroke-width:1.53" points="499.8,309.8 501.6,312.0 503.9,311.1"/>
<polyline style="stroke-width:1.36" points="503.4,306.7 506.6,308.5"/>
<rect x="478.3" y="312.0" width="1.8" height="1.8" fill="#000" stroke="none"/>
<rect x="485.0" y="315.6" width="1.8" height="1.8" fill="#000" stroke="none"/>
<rect x="485.5" y="317.9" width="1.8" height="1.8" fill="#000" stroke="none"/>
<rect x="488.2" y="312.9" width="1.8" height="1.8" fill="#000" stroke="none"/>
<rect x="490.0" y="314.3" width="1.8" height="1.8" fill="#000" stroke="none"/>
<rect x="489.5" y="317.0" width="1.8" height="1.8" fill="#000" stroke="none"/>
<rect x="491.8" y="316.5" width="1.8" height="1.8" fill="#000" stroke="none"/>
<rect x="494.0" y="315.6" width="1.8" height="1.8" fill="#000" stroke="none"/>
<rect x="496.3" y="317.0" width="1.8" height="1.8" fill="#000" stroke="none"/>
<rect x="493.6" y="319.7" width="1.8" height="1.8" fill="#000" stroke="none"/>
<rect x="490.9" y="320.1" width="1.8" height="1.8" fill="#000" stroke="none"/>
<rect x="488.2" y="321.0" width="1.8" height="1.8" fill="#000" stroke="none"/>
<rect x="494.9" y="321.9" width="1.8" height="1.8" fill="#000" stroke="none"/>
<rect x="497.1" y="318.8" width="1.8" height="1.8" fill="#000" stroke="none"/>
<rect x="488.6" y="323.7" width="1.8" height="1.8" fill="#000" stroke="none"/>
<rect x="492.7" y="322.8" width="1.8" height="1.8" fill="#000" stroke="none"/>
<rect x="498.5" y="315.6" width="1.8" height="1.8" fill="#000" stroke="none"/>
<rect x="486.8" y="311.6" width="1.8" height="1.8" fill="#000" stroke="none"/>
<polyline style="stroke-width:1.36" points="488.2,313.4 491.8,314.3"/>
<polyline style="stroke-width:1.36" points="493.6,319.2 497.2,318.5"/>
<polyline points="488.2,333.6 490.9,330.4 494.5,328.6 499.8,327.7 505.2,327.3 510.6,327.7 516.0,328.6 519.6,330.4 520.9,333.6 520.0,337.2 517.8,339.8 514.2,341.6 511.5,341.2"/>
<polyline points="488.2,333.6 491.8,333.6 494.5,330.4"/>
<polyline points="513.3,343.4 510.6,347.0 507.0,350.6 503.4,353.3 499.8,354.6"/>
<polyline style="stroke-width:1.70" points="510.8,341.5 516.9,340.9"/>
<rect x="513.3" y="343.0" width="1.8" height="1.8" fill="#000" stroke="none"/>
<rect x="512.4" y="347.9" width="1.8" height="1.8" fill="#000" stroke="none"/>
<rect x="520.5" y="347.0" width="1.8" height="1.8" fill="#000" stroke="none"/>
<polyline points="507.9,320.6 512.4,321.9 516.9,323.7 520.5,326.4 523.2,329.1 526.7,326.8 531.2,324.6 535.3,322.8"/>
<polyline points="535.3,338.9 531.2,340.7 526.7,343.9 523.2,346.1 519.6,348.8 516.9,352.4 515.1,355.3"/>
</g>
<g clip-path="url(#pc)" opacity=".995">
<text class="ct" text-anchor="middle" transform="translate(543.4,337.5) rotate(-30)" y="3.5">3000</text>
<text class="ct" text-anchor="middle" transform="translate(492.5,358.0) rotate(-20)" y="3.5">200</text>
<text class="ct" text-anchor="middle" transform="translate(565.0,315.0) rotate(-20)" y="3.5">200</text>
<text class="ct" text-anchor="middle" transform="translate(658.5,303.0) rotate(25)" y="3.5">3000</text>
<text class="ct" text-anchor="middle" transform="translate(624.4,267.0) rotate(70)" y="3.5">200</text>
<text class="ct" text-anchor="middle" transform="translate(536.2,212.8) rotate(25)" y="3.5">200</text>
<text class="ct" text-anchor="middle" transform="translate(567.6,200.0) rotate(-70)" y="3.5">200</text>
<text class="ct" text-anchor="middle" transform="translate(680.6,225.0) rotate(-35)" y="3.5">200</text>
<text class="ct" text-anchor="middle" transform="translate(423.5,426.0) rotate(-65)" y="3.5">3000</text>
<text class="ct" text-anchor="middle" transform="translate(370.0,473.0) rotate(-45)" y="3.5">200</text>
<text class="ct" text-anchor="middle" transform="translate(159.0,568.0) rotate(-75)" y="3.5">200</text>
<text class="ct" text-anchor="middle" transform="translate(271.0,547.0) rotate(-82)" y="3.5">3000</text>
<text class="ct" text-anchor="middle" transform="translate(260.0,576.5) rotate(-22)" y="3.5">3000</text>
<text class="ct" text-anchor="middle" transform="translate(297.0,545.5) rotate(-85)" y="3.5">200</text>
<text class="ct" text-anchor="middle" transform="translate(272.2,604.0) rotate(-75)" y="3.5">200</text>
<text class="ct" text-anchor="middle" transform="translate(330.7,598.0) rotate(-5)" y="3.5">200</text>
<text class="ct" text-anchor="middle" transform="translate(309.5,621.5) rotate(15)" y="3.5">3000</text>
<text class="ct" text-anchor="middle" transform="translate(383.0,556.0) rotate(48)" y="3.5">3000</text>
<text class="ct" text-anchor="middle" transform="translate(399.0,581.0) rotate(52)" y="3.5">200</text>
<text class="ct" text-anchor="middle" transform="translate(405.7,615.0) rotate(-85)" y="3.5">200</text>
<text class="ct" text-anchor="middle" transform="translate(442.6,625.5) rotate(-15)" y="3.5">3000</text>
<text class="ct" text-anchor="middle" transform="translate(469.6,628.0) rotate(40)" y="3.5">200</text>
</g>
<rect x="116.5" y="157.5" width="591" height="481" fill="none" stroke="#000" stroke-width="1" shape-rendering="crispEdges"/>
<text class="ax" x="73.6" y="643.4" textLength="37.8" lengthAdjust="spacing" xml:space="preserve">20<tspan class="dg" dy="-4.2">°</tspan><tspan dy="4.2"> 00’</tspan></text><text class="ax" x="73.6" y="579.4" textLength="37.8" lengthAdjust="spacing" xml:space="preserve">25<tspan class="dg" dy="-4.2">°</tspan><tspan dy="4.2"> 00’</tspan></text><text class="ax" x="73.6" y="512.7" textLength="37.8" lengthAdjust="spacing" xml:space="preserve">30<tspan class="dg" dy="-4.2">°</tspan><tspan dy="4.2"> 00’</tspan></text><text class="ax" x="73.6" y="442.6" textLength="37.8" lengthAdjust="spacing" xml:space="preserve">35<tspan class="dg" dy="-4.2">°</tspan><tspan dy="4.2"> 00’</tspan></text><text class="ax" x="73.6" y="368.1" textLength="37.8" lengthAdjust="spacing" xml:space="preserve">40<tspan class="dg" dy="-4.2">°</tspan><tspan dy="4.2"> 00’</tspan></text><text class="ax" x="73.6" y="287.9" textLength="37.8" lengthAdjust="spacing" xml:space="preserve">45<tspan class="dg" dy="-4.2">°</tspan><tspan dy="4.2"> 00’</tspan></text><text class="ax" x="73.6" y="200.3" textLength="37.8" lengthAdjust="spacing" xml:space="preserve">50<tspan class="dg" dy="-4.2">°</tspan><tspan dy="4.2"> 00’</tspan></text><text class="ax" x="89.1" y="652.6" textLength="53.8" lengthAdjust="spacing" xml:space="preserve">−100<tspan class="dg" dy="-4.2">°</tspan><tspan dy="4.2"> 00’</tspan></text><text class="ax" x="150.8" y="652.6" textLength="48.5" lengthAdjust="spacing" xml:space="preserve">− 95<tspan class="dg" dy="-4.2">°</tspan><tspan dy="4.2"> 00’</tspan></text><text class="ax" x="209.9" y="652.6" textLength="48.5" lengthAdjust="spacing" xml:space="preserve">− 90<tspan class="dg" dy="-4.2">°</tspan><tspan dy="4.2"> 00’</tspan></text><text class="ax" x="269.1" y="652.6" textLength="48.5" lengthAdjust="spacing" xml:space="preserve">− 85<tspan class="dg" dy="-4.2">°</tspan><tspan dy="4.2"> 00’</tspan></text><text class="ax" x="328.1" y="652.6" textLength="48.5" lengthAdjust="spacing" xml:space="preserve">− 80<tspan class="dg" dy="-4.2">°</tspan><tspan dy="4.2"> 00’</tspan></text><text class="ax" x="387.2" y="652.6" textLength="48.5" lengthAdjust="spacing" xml:space="preserve">− 75<tspan class="dg" dy="-4.2">°</tspan><tspan dy="4.2"> 00’</tspan></text><text class="ax" x="446.4" y="652.6" textLength="48.5" lengthAdjust="spacing" xml:space="preserve">− 70<tspan class="dg" dy="-4.2">°</tspan><tspan dy="4.2"> 00’</tspan></text><text class="ax" x="505.5" y="652.6" textLength="48.5" lengthAdjust="spacing" xml:space="preserve">− 65<tspan class="dg" dy="-4.2">°</tspan><tspan dy="4.2"> 00’</tspan></text><text class="ax" x="564.5" y="652.6" textLength="48.5" lengthAdjust="spacing" xml:space="preserve">− 60<tspan class="dg" dy="-4.2">°</tspan><tspan dy="4.2"> 00’</tspan></text><text class="ax" x="623.6" y="652.6" textLength="48.5" lengthAdjust="spacing" xml:space="preserve">− 55<tspan class="dg" dy="-4.2">°</tspan><tspan dy="4.2"> 00’</tspan></text><text class="ax" x="682.8" y="652.6" textLength="48.5" lengthAdjust="spacing" xml:space="preserve">− 50<tspan class="dg" dy="-4.2">°</tspan><tspan dy="4.2"> 00’</tspan></text>
<rect x="715.5" y="158.5" width="36.0" height="480.0" fill="#fff"/><rect x="715.5" y="158.5" width="36.0" height="477.8" fill="url(#cbg)"/><g stroke="#000" stroke-opacity=".55" stroke-width="1" shape-rendering="crispEdges"><line x1="715.5" y1="620.5" x2="720.0" y2="620.5"/><line x1="747.0" y1="620.5" x2="751.5" y2="620.5"/><line x1="715.5" y1="601.5" x2="720.0" y2="601.5"/><line x1="747.0" y1="601.5" x2="751.5" y2="601.5"/><line x1="715.5" y1="583.5" x2="720.0" y2="583.5"/><line x1="747.0" y1="583.5" x2="751.5" y2="583.5"/><line x1="715.5" y1="565.5" x2="720.0" y2="565.5"/><line x1="747.0" y1="565.5" x2="751.5" y2="565.5"/><line x1="715.5" y1="546.5" x2="720.0" y2="546.5"/><line x1="747.0" y1="546.5" x2="751.5" y2="546.5"/><line x1="715.5" y1="528.5" x2="720.0" y2="528.5"/><line x1="747.0" y1="528.5" x2="751.5" y2="528.5"/><line x1="715.5" y1="509.5" x2="720.0" y2="509.5"/><line x1="747.0" y1="509.5" x2="751.5" y2="509.5"/><line x1="715.5" y1="491.5" x2="720.0" y2="491.5"/><line x1="747.0" y1="491.5" x2="751.5" y2="491.5"/><line x1="715.5" y1="472.5" x2="720.0" y2="472.5"/><line x1="747.0" y1="472.5" x2="751.5" y2="472.5"/><line x1="715.5" y1="454.5" x2="720.0" y2="454.5"/><line x1="747.0" y1="454.5" x2="751.5" y2="454.5"/><line x1="715.5" y1="435.5" x2="720.0" y2="435.5"/><line x1="747.0" y1="435.5" x2="751.5" y2="435.5"/><line x1="715.5" y1="417.5" x2="720.0" y2="417.5"/><line x1="747.0" y1="417.5" x2="751.5" y2="417.5"/><line x1="715.5" y1="398.5" x2="720.0" y2="398.5"/><line x1="747.0" y1="398.5" x2="751.5" y2="398.5"/><line x1="715.5" y1="380.5" x2="720.0" y2="380.5"/><line x1="747.0" y1="380.5" x2="751.5" y2="380.5"/><line x1="715.5" y1="361.5" x2="720.0" y2="361.5"/><line x1="747.0" y1="361.5" x2="751.5" y2="361.5"/><line x1="715.5" y1="343.5" x2="720.0" y2="343.5"/><line x1="747.0" y1="343.5" x2="751.5" y2="343.5"/><line x1="715.5" y1="324.5" x2="720.0" y2="324.5"/><line x1="747.0" y1="324.5" x2="751.5" y2="324.5"/><line x1="715.5" y1="306.5" x2="720.0" y2="306.5"/><line x1="747.0" y1="306.5" x2="751.5" y2="306.5"/><line x1="715.5" y1="287.5" x2="720.0" y2="287.5"/><line x1="747.0" y1="287.5" x2="751.5" y2="287.5"/><line x1="715.5" y1="269.5" x2="720.0" y2="269.5"/><line x1="747.0" y1="269.5" x2="751.5" y2="269.5"/><line x1="715.5" y1="251.5" x2="720.0" y2="251.5"/><line x1="747.0" y1="251.5" x2="751.5" y2="251.5"/><line x1="715.5" y1="232.5" x2="720.0" y2="232.5"/><line x1="747.0" y1="232.5" x2="751.5" y2="232.5"/><line x1="715.5" y1="214.5" x2="720.0" y2="214.5"/><line x1="747.0" y1="214.5" x2="751.5" y2="214.5"/><line x1="715.5" y1="195.5" x2="720.0" y2="195.5"/><line x1="747.0" y1="195.5" x2="751.5" y2="195.5"/><line x1="715.5" y1="177.5" x2="720.0" y2="177.5"/><line x1="747.0" y1="177.5" x2="751.5" y2="177.5"/></g><rect x="715.5" y="158.5" width="36.0" height="480.0" fill="none" stroke="#000" stroke-width="1" shape-rendering="crispEdges"/>
<text class="cb" x="756.5" y="588.5">10</text><text class="cb" x="756.5" y="496.1">15</text><text class="cb" x="756.5" y="403.8">20</text><text class="cb" x="756.5" y="311.4">25</text><text class="cb" x="756.5" y="219.1">30</text><text class="cl" transform="translate(792.3,399) rotate(-90)" text-anchor="middle" textLength="117.5" lengthAdjust="spacingAndGlyphs">Temperature (°C)</text>
</svg>
</body></html>
